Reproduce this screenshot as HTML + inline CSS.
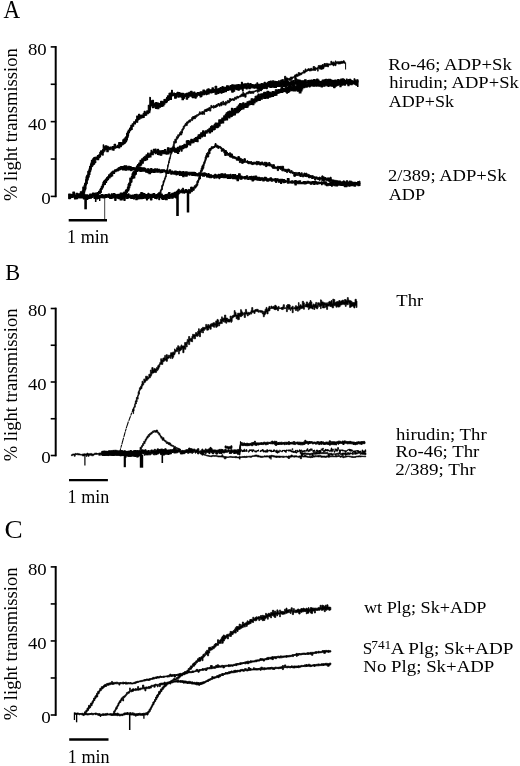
<!DOCTYPE html>
<html lang="en">
<head>
<meta charset="utf-8">
<title>Figure</title>
<style>
html,body{margin:0;padding:0;background:#fff;}
body{width:520px;height:766px;overflow:hidden;}
svg{display:block;}
svg text{font-family:"Liberation Serif",serif;fill:#000;}
</style>
</head>
<body>
<svg width="520" height="766" viewBox="0 0 520 766">
<rect x="0" y="0" width="520" height="766" fill="#ffffff"/>
<text x="3.47" y="18.4" font-size="24.6" textLength="16.59" lengthAdjust="spacingAndGlyphs">A</text>
<line x1="55.7" y1="46.1" x2="55.7" y2="197.20000000000002" stroke="#000" stroke-width="2.0"/>
<line x1="50.7" y1="46.9" x2="56.2" y2="46.9" stroke="#000" stroke-width="1.6"/>
<line x1="50.7" y1="84.275" x2="56.2" y2="84.275" stroke="#000" stroke-width="1.6"/>
<line x1="50.7" y1="121.65" x2="56.2" y2="121.65" stroke="#000" stroke-width="1.6"/>
<line x1="50.7" y1="159.025" x2="56.2" y2="159.025" stroke="#000" stroke-width="1.6"/>
<line x1="50.7" y1="196.4" x2="56.2" y2="196.4" stroke="#000" stroke-width="1.6"/>
<text x="27.95" y="54.5" font-size="17.5" textLength="18.80" lengthAdjust="spacingAndGlyphs">80</text>
<text x="28.03" y="129.55" font-size="17.5" textLength="18.72" lengthAdjust="spacingAndGlyphs">40</text>
<text x="41.24" y="203.9" font-size="17.5" textLength="9.52" lengthAdjust="spacingAndGlyphs">0</text>
<text transform="translate(16.5,124.6) rotate(-90)" font-size="18.6" text-anchor="middle">% light transmission</text>
<path d="M68.7,194.0 L70.4,194.0 L70.4,194.3 L71.5,194.3 L71.5,194.6 L72.9,194.6 L72.9,192.0 L74.5,192.0 L74.5,195.0 L76.1,195.0 L76.1,193.4 L77.9,193.4 L77.9,194.0 L79.6,194.0 L79.6,193.9 L81.4,193.9 L81.4,193.2 L82.2,193.2 L82.2,193.8 L83.4,193.8 L83.4,193.8 L84.7,193.8 L84.7,194.9 L85.5,194.9 L85.5,194.9 L86.2,194.9 L86.2,194.9 L87.9,194.9 L87.9,195.3 L89.7,195.3 L89.7,194.0 L91.4,194.0 L91.4,194.8 L92.5,194.8 L92.5,193.0 L94.0,193.0 L94.0,194.6 L95.1,194.6 L95.1,193.2 L96.7,193.2 L96.7,192.8 L97.7,192.8 L97.7,195.9 L99.3,195.9 L99.3,195.4 L101.2,195.4 L101.2,194.6 L103.1,194.6 L103.1,195.3 L104.9,195.3 L104.9,194.6 L106.7,194.6 L106.7,194.8 L108.2,194.8 L108.2,194.0 L109.6,194.0 L109.6,195.0 L111.4,195.0 L111.4,193.8 L112.2,193.8 L112.2,194.4 L113.3,194.4 L113.3,193.5 L114.8,193.5 L114.8,194.4 L116.0,194.4 L116.0,194.8 L117.7,194.8 L117.7,194.3 L118.6,194.3 L118.6,194.5 L119.4,194.5 L119.4,194.3 L120.2,194.3 L120.2,193.2 L122.1,193.2 L122.1,194.7 L123.0,194.7 L123.0,194.2 L123.9,194.2 L123.9,193.0 L125.1,193.0 L125.1,193.5 L126.5,193.5 L126.5,194.5 L128.2,194.5 L128.2,193.9 L129.0,193.9 L129.0,195.2 L130.8,195.2 L130.8,195.4 L132.4,195.4 L132.4,195.1 L133.5,195.1 L133.5,195.4 L134.4,195.4 L134.4,194.5 L135.8,194.5 L135.8,194.4 L137.2,194.4 L137.2,195.2 L138.3,195.2 L138.3,195.0 L139.2,195.0 L139.2,194.3 L140.8,194.3 L140.8,192.6 L142.3,192.6 L142.3,193.3 L143.9,193.3 L143.9,193.6 L144.9,193.6 L144.9,194.5 L146.5,194.5 L146.5,194.8 L147.3,194.8 L147.3,194.4 L148.0,194.4 L148.0,193.4 L148.9,193.4 L148.9,194.4 L150.5,194.4 L150.5,194.8 L151.9,194.8 L151.9,194.1 L153.3,194.1 L153.3,193.7 L154.7,193.7 L154.7,194.8 L156.2,194.8 L156.2,194.5 L157.3,194.5 L157.3,194.8 L158.8,194.8 L158.8,193.8 L159.6,193.8 L159.6,194.0 L160.7,194.0 L160.7,194.8 L161.5,194.8 L161.5,194.0 L162.3,194.0 L162.3,195.5 L164.1,195.5 L164.1,195.1 L165.5,195.1 L165.5,194.7 L167.2,194.7 L167.2,194.2 L168.6,194.2 L168.6,192.5 L170.0,192.5 L170.0,194.6 L171.7,194.6 L171.7,193.4 L173.1,193.4 L173.1,193.1 L174.4,193.1 L174.4,192.3 L175.8,192.3 L175.8,193.5 L177.0,193.5 L177.0,198.0 L175.8,198.0 L175.8,197.2 L174.4,197.2 L174.4,197.1 L173.1,197.1 L173.1,198.2 L171.7,198.2 L171.7,197.8 L170.0,197.8 L170.0,198.4 L168.6,198.4 L168.6,197.7 L167.2,197.7 L167.2,199.7 L165.5,199.7 L165.5,198.6 L164.1,198.6 L164.1,199.4 L162.3,199.4 L162.3,198.7 L161.5,198.7 L161.5,197.6 L160.7,197.6 L160.7,197.2 L159.6,197.2 L159.6,199.6 L158.8,199.6 L158.8,196.9 L157.3,196.9 L157.3,197.3 L156.2,197.3 L156.2,198.3 L154.7,198.3 L154.7,197.3 L153.3,197.3 L153.3,197.4 L151.9,197.4 L151.9,199.8 L150.5,199.8 L150.5,197.6 L148.9,197.6 L148.9,198.4 L148.0,198.4 L148.0,198.8 L147.3,198.8 L147.3,199.9 L146.5,199.9 L146.5,198.2 L144.9,198.2 L144.9,198.1 L143.9,198.1 L143.9,198.3 L142.3,198.3 L142.3,198.7 L140.8,198.7 L140.8,198.7 L139.2,198.7 L139.2,198.8 L138.3,198.8 L138.3,197.7 L137.2,197.7 L137.2,199.7 L135.8,199.7 L135.8,197.3 L134.4,197.3 L134.4,199.0 L133.5,199.0 L133.5,197.5 L132.4,197.5 L132.4,198.4 L130.8,198.4 L130.8,197.6 L129.0,197.6 L129.0,197.3 L128.2,197.3 L128.2,198.3 L126.5,198.3 L126.5,197.8 L125.1,197.8 L125.1,200.3 L123.9,200.3 L123.9,198.8 L123.0,198.8 L123.0,198.3 L122.1,198.3 L122.1,199.9 L120.2,199.9 L120.2,198.2 L119.4,198.2 L119.4,198.7 L118.6,198.7 L118.6,198.3 L117.7,198.3 L117.7,198.0 L116.0,198.0 L116.0,200.3 L114.8,200.3 L114.8,197.7 L113.3,197.7 L113.3,197.9 L112.2,197.9 L112.2,198.3 L111.4,198.3 L111.4,198.3 L109.6,198.3 L109.6,197.4 L108.2,197.4 L108.2,197.0 L106.7,197.0 L106.7,197.4 L104.9,197.4 L104.9,198.0 L103.1,198.0 L103.1,197.6 L101.2,197.6 L101.2,197.7 L99.3,197.7 L99.3,198.3 L97.7,198.3 L97.7,198.9 L96.7,198.9 L96.7,197.3 L95.1,197.3 L95.1,198.3 L94.0,198.3 L94.0,196.8 L92.5,196.8 L92.5,197.4 L91.4,197.4 L91.4,198.2 L89.7,198.2 L89.7,198.4 L87.9,198.4 L87.9,199.3 L86.2,199.3 L86.2,198.9 L85.5,198.9 L85.5,198.1 L84.7,198.1 L84.7,198.9 L83.4,198.9 L83.4,198.0 L82.2,198.0 L82.2,198.0 L81.4,198.0 L81.4,197.9 L79.6,197.9 L79.6,197.3 L77.9,197.3 L77.9,198.6 L76.1,198.6 L76.1,199.0 L74.5,199.0 L74.5,197.1 L72.9,197.1 L72.9,197.3 L71.5,197.3 L71.5,197.6 L70.4,197.6 L70.4,198.6 L68.7,198.6 Z" fill="#000" stroke="#000" stroke-width="1.2" stroke-linejoin="round"/>
<path d="M79.0,194.1 L80.3,194.1 L80.3,191.7 L82.2,191.7 L82.2,190.9 L82.8,190.9 L82.8,187.1 L84.1,187.1 L84.1,185.2 L84.5,185.2 L84.5,183.6 L84.9,183.6 L84.9,183.0 L85.6,183.0 L85.6,179.5 L86.0,179.5 L86.0,176.9 L86.5,176.9 L86.5,177.8 L86.7,177.8 L86.7,175.4 L87.3,175.4 L87.3,174.7 L87.8,174.7 L87.8,171.3 L88.2,171.3 L88.2,171.3 L88.8,171.3 L88.8,169.7 L89.2,169.7 L89.2,168.6 L89.6,168.6 L89.6,166.3 L90.0,166.3 L90.0,166.8 L90.5,166.8 L90.5,164.0 L90.9,164.0 L90.9,162.7 L91.4,162.7 L91.4,160.3 L92.2,160.3 L92.2,160.1 L92.7,160.1 L92.7,158.7 L93.5,158.7 L93.5,157.8 L94.6,157.8 L94.6,157.2 L95.8,157.2 L95.8,157.1 L97.4,157.1 L97.4,155.6 L98.7,155.6 L98.7,154.8 L99.8,154.8 L99.8,152.3 L100.6,152.3 L100.6,150.9 L102.5,150.9 L102.5,149.5 L103.2,149.5 L103.2,144.9 L103.7,144.9 L103.7,146.7 L105.1,146.7 L105.1,145.9 L106.8,145.9 L106.8,146.2 L108.2,146.2 L108.2,147.4 L110.0,147.4 L110.0,147.0 L110.8,147.0 L110.8,147.2 L112.1,147.2 L112.1,146.5 L113.3,146.5 L113.3,146.8 L114.1,146.8 L114.1,144.4 L115.6,144.4 L115.6,146.3 L117.3,146.3 L117.3,145.3 L118.7,145.3 L118.7,142.6 L119.7,142.6 L119.7,142.5 L121.4,142.5 L121.4,142.8 L122.8,142.8 L122.8,139.8 L123.9,139.8 L123.9,138.9 L125.1,138.9 L125.1,137.2 L125.7,137.2 L125.7,136.8 L126.6,136.8 L126.6,133.4 L127.4,133.4 L127.4,131.8 L128.2,131.8 L128.2,130.0 L128.6,130.0 L128.6,130.4 L129.5,130.4 L129.5,128.3 L130.2,128.3 L130.2,127.5 L130.8,127.5 L130.8,125.4 L132.2,125.4 L132.2,123.8 L133.7,123.8 L133.7,121.8 L135.5,121.8 L135.5,119.8 L136.7,119.8 L136.7,116.0 L137.7,116.0 L137.7,117.8 L138.5,117.8 L138.5,114.3 L139.9,114.3 L139.9,115.5 L141.5,115.5 L141.5,115.0 L143.2,115.0 L143.2,113.3 L144.2,113.3 L144.2,111.3 L145.2,111.3 L145.2,112.7 L146.7,112.7 L146.7,110.9 L148.3,110.9 L148.3,105.3 L149.8,105.3 L149.8,97.2 L150.0,97.2 L150.0,97.5 L150.5,97.5 L150.5,100.8 L152.3,100.8 L152.3,100.2 L153.5,100.2 L153.5,103.2 L154.9,103.2 L154.9,103.1 L155.6,103.1 L155.6,102.6 L157.1,102.6 L157.1,103.1 L158.9,103.1 L158.9,103.5 L160.6,103.5 L160.6,101.4 L162.4,101.4 L162.4,101.7 L163.9,101.7 L163.9,99.5 L164.9,99.5 L164.9,99.3 L166.5,99.3 L166.5,97.6 L167.4,97.6 L167.4,95.9 L169.0,95.9 L169.0,93.3 L169.8,93.3 L169.8,93.1 L171.5,93.1 L171.5,90.4 L172.4,90.4 L172.4,93.2 L173.6,93.2 L173.6,93.0 L174.6,93.0 L174.6,93.5 L176.2,93.5 L176.2,93.3 L177.1,93.3 L177.1,92.4 L178.3,92.4 L178.3,93.1 L179.0,93.1 L179.0,92.6 L180.0,92.6 L180.0,93.4 L181.2,93.4 L181.2,93.4 L182.0,93.4 L182.0,93.4 L183.5,93.4 L183.5,94.3 L184.6,94.3 L184.6,93.9 L186.2,93.9 L186.2,93.4 L187.7,93.4 L187.7,93.1 L188.9,93.1 L188.9,92.3 L190.6,92.3 L190.6,91.3 L192.1,91.3 L192.1,92.7 L193.8,92.7 L193.8,92.0 L194.9,92.0 L194.9,93.4 L196.2,93.4 L196.2,93.4 L197.2,93.4 L197.2,92.6 L199.1,92.6 L199.1,92.9 L200.1,92.9 L200.1,91.9 L201.1,91.9 L201.1,91.8 L201.9,91.8 L201.9,92.7 L202.9,92.7 L202.9,90.0 L204.5,90.0 L204.5,91.1 L206.0,91.1 L206.0,90.8 L206.9,90.8 L206.9,89.3 L208.0,89.3 L208.0,88.9 L209.2,88.9 L209.2,89.7 L210.7,89.7 L210.7,89.7 L212.0,89.7 L212.0,87.9 L213.4,87.9 L213.4,89.5 L215.1,89.5 L215.1,86.2 L216.7,86.2 L216.7,89.0 L217.8,89.0 L217.8,88.8 L219.0,88.8 L219.0,88.3 L220.2,88.3 L220.2,87.5 L221.0,87.5 L221.0,89.3 L222.0,89.3 L222.0,86.5 L223.0,86.5 L223.0,87.0 L224.1,87.0 L224.1,87.3 L225.1,87.3 L225.1,87.4 L226.5,87.4 L226.5,85.7 L228.4,85.7 L228.4,86.9 L230.0,86.9 L230.0,85.6 L231.7,85.6 L231.7,84.8 L233.3,84.8 L233.3,85.1 L234.7,85.1 L234.7,85.0 L236.5,85.0 L236.5,84.8 L238.0,84.8 L238.0,84.6 L239.3,84.6 L239.3,85.7 L240.1,85.7 L240.1,84.8 L241.4,84.8 L241.4,82.4 L242.4,82.4 L242.4,84.1 L243.2,84.1 L243.2,84.0 L244.5,84.0 L244.5,83.8 L246.2,83.8 L246.2,85.4 L247.2,85.4 L247.2,83.3 L248.9,83.3 L248.9,84.4 L250.2,84.4 L250.2,83.5 L251.1,83.5 L251.1,84.5 L252.9,84.5 L252.9,84.7 L254.1,84.7 L254.1,85.0 L255.2,85.0 L255.2,84.2 L256.9,84.2 L256.9,82.9 L257.7,82.9 L257.7,84.4 L259.3,84.4 L259.3,84.2 L260.2,84.2 L260.2,84.0 L261.4,84.0 L261.4,83.6 L262.4,83.6 L262.4,83.9 L264.1,83.9 L264.1,82.4 L265.3,82.4 L265.3,83.5 L267.1,83.5 L267.1,82.3 L268.6,82.3 L268.6,81.6 L270.1,81.6 L270.1,81.1 L271.4,81.1 L271.4,81.2 L272.5,81.2 L272.5,80.9 L273.7,80.9 L273.7,81.3 L275.5,81.3 L275.5,81.5 L276.5,81.5 L276.5,82.0 L278.3,82.0 L278.3,82.8 L280.0,82.8 L280.0,82.4 L281.1,82.4 L281.1,80.8 L282.6,80.8 L282.6,81.9 L283.7,81.9 L283.7,81.0 L284.9,81.0 L284.9,80.8 L286.2,80.8 L286.2,78.2 L286.9,78.2 L286.9,81.1 L288.2,81.1 L288.2,82.0 L290.1,82.0 L290.1,81.7 L291.1,81.7 L291.1,81.6 L292.7,81.6 L292.7,80.5 L293.9,80.5 L293.9,81.2 L294.9,81.2 L294.9,78.7 L296.7,78.7 L296.7,80.4 L297.4,80.4 L297.4,79.7 L298.4,79.7 L298.4,80.1 L300.3,80.1 L300.3,80.8 L301.4,80.8 L301.4,80.7 L303.1,80.7 L303.1,80.7 L304.5,80.7 L304.5,79.8 L306.2,79.8 L306.2,81.3 L307.6,81.3 L307.6,80.6 L308.8,80.6 L308.8,80.3 L310.4,80.3 L310.4,80.4 L311.1,80.4 L311.1,80.1 L312.3,80.1 L312.3,80.4 L313.5,80.4 L313.5,79.6 L314.8,79.6 L314.8,79.8 L315.6,79.8 L315.6,80.6 L316.6,80.6 L316.6,79.1 L318.0,79.1 L318.0,80.1 L319.1,80.1 L319.1,81.6 L320.8,81.6 L320.8,81.4 L322.2,81.4 L322.2,80.0 L323.9,80.0 L323.9,79.7 L325.5,79.7 L325.5,79.3 L326.9,79.3 L326.9,81.1 L328.0,81.1 L328.0,79.3 L329.6,79.3 L329.6,79.4 L330.6,79.4 L330.6,79.7 L331.4,79.7 L331.4,80.4 L333.3,80.4 L333.3,80.6 L334.6,80.6 L334.6,80.1 L336.2,80.1 L336.2,80.2 L337.6,80.2 L337.6,79.5 L339.0,79.5 L339.0,80.0 L339.8,80.0 L339.8,80.5 L340.7,80.5 L340.7,79.0 L342.2,79.0 L342.2,78.9 L343.6,78.9 L343.6,79.2 L344.5,79.2 L344.5,80.5 L346.3,80.5 L346.3,79.1 L347.2,79.1 L347.2,80.2 L348.5,80.2 L348.5,79.5 L349.4,79.5 L349.4,79.3 L350.9,79.3 L350.9,80.7 L352.0,80.7 L352.0,80.9 L352.8,80.9 L352.8,81.2 L353.6,81.2 L353.6,81.2 L354.5,81.2 L354.5,81.3 L355.4,81.3 L355.4,81.3 L356.8,81.3 L356.8,79.7 L358.0,79.7 L358.0,81.9 L356.8,81.9 L356.8,83.3 L355.4,83.3 L355.4,83.9 L354.5,83.9 L354.5,82.1 L353.6,82.1 L353.6,83.6 L352.8,83.6 L352.8,83.5 L352.0,83.5 L352.0,82.8 L350.9,82.8 L350.9,82.3 L349.4,82.3 L349.4,83.6 L348.5,83.6 L348.5,84.1 L347.2,84.1 L347.2,83.8 L346.3,83.8 L346.3,83.3 L344.5,83.3 L344.5,84.2 L343.6,84.2 L343.6,84.7 L342.2,84.7 L342.2,83.1 L340.7,83.1 L340.7,83.7 L339.8,83.7 L339.8,83.7 L339.0,83.7 L339.0,85.2 L337.6,85.2 L337.6,84.5 L336.2,84.5 L336.2,85.6 L334.6,85.6 L334.6,86.1 L333.3,86.1 L333.3,85.9 L331.4,85.9 L331.4,83.3 L330.6,83.3 L330.6,82.8 L329.6,82.8 L329.6,85.4 L328.0,85.4 L328.0,84.0 L326.9,84.0 L326.9,82.9 L325.5,82.9 L325.5,84.8 L323.9,84.8 L323.9,83.3 L322.2,83.3 L322.2,85.0 L320.8,85.0 L320.8,85.0 L319.1,85.0 L319.1,83.0 L318.0,83.0 L318.0,84.2 L316.6,84.2 L316.6,84.8 L315.6,84.8 L315.6,85.7 L314.8,85.7 L314.8,84.3 L313.5,84.3 L313.5,85.5 L312.3,85.5 L312.3,85.4 L311.1,85.4 L311.1,85.8 L310.4,85.8 L310.4,84.4 L308.8,84.4 L308.8,85.6 L307.6,85.6 L307.6,83.7 L306.2,83.7 L306.2,85.5 L304.5,85.5 L304.5,84.7 L303.1,84.7 L303.1,85.7 L301.4,85.7 L301.4,85.1 L300.3,85.1 L300.3,86.9 L298.4,86.9 L298.4,85.5 L297.4,85.5 L297.4,87.2 L296.7,87.2 L296.7,84.1 L294.9,84.1 L294.9,85.9 L293.9,85.9 L293.9,85.8 L292.7,85.8 L292.7,85.3 L291.1,85.3 L291.1,87.1 L290.1,87.1 L290.1,86.8 L288.2,86.8 L288.2,85.5 L286.9,85.5 L286.9,86.5 L286.2,86.5 L286.2,86.4 L284.9,86.4 L284.9,86.4 L283.7,86.4 L283.7,85.6 L282.6,85.6 L282.6,88.7 L281.1,88.7 L281.1,86.0 L280.0,86.0 L280.0,86.5 L278.3,86.5 L278.3,86.4 L276.5,86.4 L276.5,87.5 L275.5,87.5 L275.5,87.5 L273.7,87.5 L273.7,86.2 L272.5,86.2 L272.5,87.3 L271.4,87.3 L271.4,87.5 L270.1,87.5 L270.1,86.2 L268.6,86.2 L268.6,86.3 L267.1,86.3 L267.1,88.1 L265.3,88.1 L265.3,88.3 L264.1,88.3 L264.1,87.9 L262.4,87.9 L262.4,88.9 L261.4,88.9 L261.4,90.1 L260.2,90.1 L260.2,87.6 L259.3,87.6 L259.3,88.4 L257.7,88.4 L257.7,88.4 L256.9,88.4 L256.9,87.6 L255.2,87.6 L255.2,88.2 L254.1,88.2 L254.1,87.9 L252.9,87.9 L252.9,87.8 L251.1,87.8 L251.1,88.0 L250.2,88.0 L250.2,88.8 L248.9,88.8 L248.9,87.9 L247.2,87.9 L247.2,89.0 L246.2,89.0 L246.2,88.1 L244.5,88.1 L244.5,88.3 L243.2,88.3 L243.2,90.9 L242.4,90.9 L242.4,88.1 L241.4,88.1 L241.4,89.1 L240.1,89.1 L240.1,88.6 L239.3,88.6 L239.3,90.3 L238.0,90.3 L238.0,89.6 L236.5,89.6 L236.5,89.2 L234.7,89.2 L234.7,91.2 L233.3,91.2 L233.3,92.1 L231.7,92.1 L231.7,89.9 L230.0,89.9 L230.0,89.9 L228.4,89.9 L228.4,90.4 L226.5,90.4 L226.5,91.6 L225.1,91.6 L225.1,90.3 L224.1,90.3 L224.1,92.4 L223.0,92.4 L223.0,92.5 L222.0,92.5 L222.0,93.2 L221.0,93.2 L221.0,92.4 L220.2,92.4 L220.2,92.5 L219.0,92.5 L219.0,93.5 L217.8,93.5 L217.8,93.7 L216.7,93.7 L216.7,94.3 L215.1,94.3 L215.1,92.1 L213.4,92.1 L213.4,92.4 L212.0,92.4 L212.0,93.0 L210.7,93.0 L210.7,92.4 L209.2,92.4 L209.2,93.9 L208.0,93.9 L208.0,94.1 L206.9,94.1 L206.9,94.6 L206.0,94.6 L206.0,94.0 L204.5,94.0 L204.5,94.7 L202.9,94.7 L202.9,95.0 L201.9,95.0 L201.9,96.4 L201.1,96.4 L201.1,96.9 L200.1,96.9 L200.1,95.5 L199.1,95.5 L199.1,95.1 L197.2,95.1 L197.2,96.7 L196.2,96.7 L196.2,98.1 L194.9,98.1 L194.9,96.2 L193.8,96.2 L193.8,97.6 L192.1,97.6 L192.1,96.2 L190.6,96.2 L190.6,96.1 L188.9,96.1 L188.9,97.4 L187.7,97.4 L187.7,99.1 L186.2,99.1 L186.2,96.4 L184.6,96.4 L184.6,98.3 L183.5,98.3 L183.5,99.8 L182.0,99.8 L182.0,97.3 L181.2,97.3 L181.2,96.1 L180.0,96.1 L180.0,96.9 L179.0,96.9 L179.0,97.1 L178.3,97.1 L178.3,95.8 L177.1,95.8 L177.1,97.1 L176.2,97.1 L176.2,98.3 L174.6,98.3 L174.6,95.5 L173.6,95.5 L173.6,95.6 L172.4,95.6 L172.4,95.9 L171.5,95.9 L171.5,99.4 L169.8,99.4 L169.8,99.2 L169.0,99.2 L169.0,100.5 L167.4,100.5 L167.4,101.9 L166.5,101.9 L166.5,102.6 L164.9,102.6 L164.9,104.3 L163.9,104.3 L163.9,106.0 L162.4,106.0 L162.4,106.4 L160.6,106.4 L160.6,107.3 L158.9,107.3 L158.9,108.8 L157.1,108.8 L157.1,108.5 L155.6,108.5 L155.6,107.8 L154.9,107.8 L154.9,106.8 L153.5,106.8 L153.5,107.6 L152.3,107.6 L152.3,106.0 L150.5,106.0 L150.5,110.0 L150.0,110.0 L150.0,112.1 L149.8,112.1 L149.8,112.8 L148.3,112.8 L148.3,113.7 L146.7,113.7 L146.7,115.3 L145.2,115.3 L145.2,115.4 L144.2,115.4 L144.2,117.5 L143.2,117.5 L143.2,117.6 L141.5,117.6 L141.5,118.1 L139.9,118.1 L139.9,119.2 L138.5,119.2 L138.5,120.0 L137.7,120.0 L137.7,122.2 L136.7,122.2 L136.7,122.1 L135.5,122.1 L135.5,124.0 L133.7,124.0 L133.7,126.3 L132.2,126.3 L132.2,129.4 L130.8,129.4 L130.8,130.5 L130.2,130.5 L130.2,130.9 L129.5,130.9 L129.5,132.8 L128.6,132.8 L128.6,135.5 L128.2,135.5 L128.2,137.3 L127.4,137.3 L127.4,139.9 L126.6,139.9 L126.6,141.7 L125.7,141.7 L125.7,142.5 L125.1,142.5 L125.1,143.5 L123.9,143.5 L123.9,144.2 L122.8,144.2 L122.8,144.9 L121.4,144.9 L121.4,146.6 L119.7,146.6 L119.7,148.0 L118.7,148.0 L118.7,147.4 L117.3,147.4 L117.3,147.6 L115.6,147.6 L115.6,148.3 L114.1,148.3 L114.1,150.2 L113.3,150.2 L113.3,150.0 L112.1,150.0 L112.1,148.8 L110.8,148.8 L110.8,149.3 L110.0,149.3 L110.0,149.7 L108.2,149.7 L108.2,151.8 L106.8,151.8 L106.8,149.5 L105.1,149.5 L105.1,151.1 L103.7,151.1 L103.7,152.4 L103.2,152.4 L103.2,155.1 L102.5,155.1 L102.5,154.8 L100.6,154.8 L100.6,156.8 L99.8,156.8 L99.8,157.6 L98.7,157.6 L98.7,159.8 L97.4,159.8 L97.4,159.2 L95.8,159.2 L95.8,162.6 L94.6,162.6 L94.6,164.2 L93.5,164.2 L93.5,165.0 L92.7,165.0 L92.7,166.2 L92.2,166.2 L92.2,166.6 L91.4,166.6 L91.4,169.3 L90.9,169.3 L90.9,171.0 L90.5,171.0 L90.5,171.7 L90.0,171.7 L90.0,174.4 L89.6,174.4 L89.6,174.5 L89.2,174.5 L89.2,176.8 L88.8,176.8 L88.8,177.6 L88.2,177.6 L88.2,179.8 L87.8,179.8 L87.8,180.2 L87.3,180.2 L87.3,183.5 L86.7,183.5 L86.7,184.0 L86.5,184.0 L86.5,185.0 L86.0,185.0 L86.0,188.8 L85.6,188.8 L85.6,190.0 L84.9,190.0 L84.9,191.9 L84.5,191.9 L84.5,192.4 L84.1,192.4 L84.1,193.8 L82.8,193.8 L82.8,195.0 L82.2,195.0 L82.2,195.7 L80.3,195.7 L80.3,197.3 L79.0,197.3 Z" fill="#000" stroke="#000" stroke-width="1.1" stroke-linejoin="round"/>
<path d="M96.5,194.4 L97.5,194.4 L97.5,192.5 L98.5,192.5 L98.5,191.4 L99.9,191.4 L99.9,189.4 L100.5,189.4 L100.5,188.3 L101.3,188.3 L101.3,186.2 L102.3,186.2 L102.3,184.5 L102.9,184.5 L102.9,182.4 L103.5,182.4 L103.5,181.2 L104.2,181.2 L104.2,180.4 L105.4,180.4 L105.4,179.0 L106.6,179.0 L106.6,177.5 L107.4,177.5 L107.4,176.7 L108.6,176.7 L108.6,174.8 L110.1,174.8 L110.1,173.4 L111.3,173.4 L111.3,172.1 L112.7,172.1 L112.7,171.0 L114.6,171.0 L114.6,169.9 L116.1,169.9 L116.1,169.4 L117.3,169.4 L117.3,168.7 L118.2,168.7 L118.2,167.7 L119.3,167.7 L119.3,167.3 L120.6,167.3 L120.6,166.6 L122.4,166.6 L122.4,166.5 L124.0,166.5 L124.0,165.7 L125.1,165.7 L125.1,165.9 L126.9,165.9 L126.9,167.0 L128.2,167.0 L128.2,166.3 L129.7,166.3 L129.7,166.5 L130.6,166.5 L130.6,166.8 L131.4,166.8 L131.4,167.5 L132.3,167.5 L132.3,167.6 L134.1,167.6 L134.1,167.8 L135.6,167.8 L135.6,168.2 L137.3,168.2 L137.3,167.7 L138.8,167.7 L138.8,167.3 L140.0,167.3 L140.0,167.6 L141.3,167.6 L141.3,167.9 L142.7,167.9 L142.7,167.9 L144.5,167.9 L144.5,168.4 L145.7,168.4 L145.7,169.3 L147.4,169.3 L147.4,168.7 L148.9,168.7 L148.9,169.3 L150.6,169.3 L150.6,168.6 L151.9,168.6 L151.9,169.3 L153.4,169.3 L153.4,169.7 L154.5,169.7 L154.5,168.9 L155.8,168.9 L155.8,169.9 L156.8,169.9 L156.8,168.9 L157.6,168.9 L157.6,169.7 L158.4,169.7 L158.4,169.2 L159.9,169.2 L159.9,170.4 L161.2,170.4 L161.2,169.8 L162.9,169.8 L162.9,169.7 L164.6,169.7 L164.6,170.7 L165.8,170.7 L165.8,170.4 L167.7,170.4 L167.7,171.3 L169.1,171.3 L169.1,169.9 L170.7,169.9 L170.7,171.4 L171.9,171.4 L171.9,171.1 L172.8,171.1 L172.8,171.9 L173.7,171.9 L173.7,171.9 L174.6,171.9 L174.6,171.1 L176.1,171.1 L176.1,171.2 L176.9,171.2 L176.9,171.5 L177.6,171.5 L177.6,171.8 L179.3,171.8 L179.3,171.3 L180.2,171.3 L180.2,171.7 L181.4,171.7 L181.4,172.1 L182.7,172.1 L182.7,171.6 L184.1,171.6 L184.1,172.7 L185.4,172.7 L185.4,171.9 L187.3,171.9 L187.3,172.2 L188.9,172.2 L188.9,172.2 L190.2,172.2 L190.2,172.2 L191.7,172.2 L191.7,172.4 L193.0,172.4 L193.0,172.4 L194.8,172.4 L194.8,172.5 L195.8,172.5 L195.8,173.6 L197.3,173.6 L197.3,173.8 L198.7,173.8 L198.7,172.8 L199.5,172.8 L199.5,173.8 L200.5,173.8 L200.5,173.9 L202.3,173.9 L202.3,173.1 L204.0,173.1 L204.0,172.9 L204.7,172.9 L204.7,173.0 L205.7,173.0 L205.7,173.5 L206.5,173.5 L206.5,174.0 L208.1,174.0 L208.1,173.5 L209.0,173.5 L209.0,174.2 L209.7,174.2 L209.7,174.7 L211.6,174.7 L211.6,175.7 L212.9,175.7 L212.9,175.4 L213.9,175.4 L213.9,175.6 L214.7,175.6 L214.7,174.2 L215.9,174.2 L215.9,175.1 L217.0,175.1 L217.0,175.0 L218.3,175.0 L218.3,174.3 L219.0,174.3 L219.0,174.7 L219.9,174.7 L219.9,174.2 L220.9,174.2 L220.9,173.7 L222.1,173.7 L222.1,173.8 L223.2,173.8 L223.2,174.8 L224.6,174.8 L224.6,173.9 L225.6,173.9 L225.6,174.8 L227.4,174.8 L227.4,174.8 L229.3,174.8 L229.3,175.3 L230.1,175.3 L230.1,174.4 L231.0,174.4 L231.0,175.3 L232.4,175.3 L232.4,174.6 L234.0,174.6 L234.0,174.7 L234.8,174.7 L234.8,174.6 L235.7,174.6 L235.7,175.7 L237.0,175.7 L237.0,175.5 L238.5,175.5 L238.5,173.7 L240.2,173.7 L240.2,176.1 L242.0,176.1 L242.0,176.7 L243.6,176.7 L243.6,176.9 L244.4,176.9 L244.4,176.5 L246.3,176.5 L246.3,175.9 L247.7,175.9 L247.7,177.1 L248.5,177.1 L248.5,177.2 L249.5,177.2 L249.5,176.5 L251.0,176.5 L251.0,176.3 L252.1,176.3 L252.1,176.9 L253.4,176.9 L253.4,176.2 L255.0,176.2 L255.0,176.0 L256.7,176.0 L256.7,177.4 L258.1,177.4 L258.1,177.3 L259.7,177.3 L259.7,177.9 L260.9,177.9 L260.9,177.7 L262.8,177.7 L262.8,178.4 L264.2,178.4 L264.2,177.4 L266.1,177.4 L266.1,177.9 L266.8,177.9 L266.8,178.7 L268.6,178.7 L268.6,178.7 L270.0,178.7 L270.0,177.9 L271.5,177.9 L271.5,178.7 L272.4,178.7 L272.4,179.0 L273.8,179.0 L273.8,179.4 L274.8,179.4 L274.8,178.6 L275.7,178.6 L275.7,178.9 L276.4,178.9 L276.4,178.8 L278.2,178.8 L278.2,179.9 L279.7,179.9 L279.7,179.3 L280.6,179.3 L280.6,179.3 L281.6,179.3 L281.6,179.4 L282.9,179.4 L282.9,179.6 L284.6,179.6 L284.6,180.2 L285.4,180.2 L285.4,180.9 L287.3,180.9 L287.3,178.6 L289.1,178.6 L289.1,181.2 L290.1,181.2 L290.1,181.2 L291.6,181.2 L291.6,180.8 L292.7,180.8 L292.7,181.3 L294.2,181.3 L294.2,180.9 L295.0,180.9 L295.0,180.5 L296.3,180.5 L296.3,181.6 L297.7,181.6 L297.7,181.0 L299.2,181.0 L299.2,180.9 L300.7,180.9 L300.7,182.5 L302.5,182.5 L302.5,182.0 L303.5,182.0 L303.5,181.5 L304.3,181.5 L304.3,181.5 L305.5,181.5 L305.5,182.1 L306.9,182.1 L306.9,181.3 L308.7,181.3 L308.7,181.8 L310.3,181.8 L310.3,182.0 L311.9,182.0 L311.9,181.5 L313.7,181.5 L313.7,181.6 L314.8,181.6 L314.8,181.4 L315.8,181.4 L315.8,181.8 L317.0,181.8 L317.0,182.8 L318.0,182.8 L318.0,182.1 L319.5,182.1 L319.5,182.3 L321.4,182.3 L321.4,181.7 L322.2,181.7 L322.2,182.5 L323.6,182.5 L323.6,181.8 L325.1,181.8 L325.1,181.9 L326.4,181.9 L326.4,183.2 L328.2,183.2 L328.2,183.6 L329.8,183.6 L329.8,182.5 L331.5,182.5 L331.5,182.6 L332.3,182.6 L332.3,183.6 L333.3,183.6 L333.3,182.5 L334.1,182.5 L334.1,183.2 L335.8,183.2 L335.8,183.0 L337.6,183.0 L337.6,183.0 L338.3,183.0 L338.3,183.1 L340.0,183.1 L340.0,182.4 L341.5,182.4 L341.5,183.1 L343.3,183.1 L343.3,182.9 L344.4,182.9 L344.4,183.6 L345.9,183.6 L345.9,183.4 L346.9,183.4 L346.9,184.0 L347.7,184.0 L347.7,184.0 L349.3,184.0 L349.3,183.9 L350.0,183.9 L350.0,184.6 L351.6,184.6 L351.6,183.2 L352.6,183.2 L352.6,183.8 L353.9,183.8 L353.9,182.4 L355.7,182.4 L355.7,183.4 L356.7,183.4 L356.7,182.6 L357.9,182.6 L357.9,182.8 L359.1,182.8 L359.1,183.3 L360.0,183.3 L360.0,184.1 L360.0,184.1 L360.0,185.2 L360.0,185.2 L360.0,185.4 L359.1,185.4 L359.1,185.7 L357.9,185.7 L357.9,184.9 L356.7,184.9 L356.7,184.8 L355.7,184.8 L355.7,186.1 L353.9,186.1 L353.9,185.8 L352.6,185.8 L352.6,185.5 L351.6,185.5 L351.6,185.7 L350.0,185.7 L350.0,186.2 L349.3,186.2 L349.3,185.9 L347.7,185.9 L347.7,185.8 L346.9,185.8 L346.9,186.8 L345.9,186.8 L345.9,186.6 L344.4,186.6 L344.4,185.7 L343.3,185.7 L343.3,185.5 L341.5,185.5 L341.5,185.3 L340.0,185.3 L340.0,185.1 L338.3,185.1 L338.3,184.8 L337.6,184.8 L337.6,185.9 L335.8,185.9 L335.8,185.7 L334.1,185.7 L334.1,185.3 L333.3,185.3 L333.3,185.1 L332.3,185.1 L332.3,186.2 L331.5,186.2 L331.5,185.5 L329.8,185.5 L329.8,185.0 L328.2,185.0 L328.2,185.7 L326.4,185.7 L326.4,185.0 L325.1,185.0 L325.1,183.9 L323.6,183.9 L323.6,183.6 L322.2,183.6 L322.2,184.7 L321.4,184.7 L321.4,183.4 L319.5,183.4 L319.5,183.7 L318.0,183.7 L318.0,184.3 L317.0,184.3 L317.0,184.0 L315.8,184.0 L315.8,183.7 L314.8,183.7 L314.8,184.5 L313.7,184.5 L313.7,183.8 L311.9,183.8 L311.9,184.2 L310.3,184.2 L310.3,183.3 L308.7,183.3 L308.7,183.1 L306.9,183.1 L306.9,183.6 L305.5,183.6 L305.5,184.0 L304.3,184.0 L304.3,183.5 L303.5,183.5 L303.5,183.7 L302.5,183.7 L302.5,183.6 L300.7,183.6 L300.7,183.8 L299.2,183.8 L299.2,183.7 L297.7,183.7 L297.7,182.9 L296.3,182.9 L296.3,185.0 L295.0,185.0 L295.0,183.7 L294.2,183.7 L294.2,182.6 L292.7,182.6 L292.7,183.1 L291.6,183.1 L291.6,183.0 L290.1,183.0 L290.1,182.7 L289.1,182.7 L289.1,183.1 L287.3,183.1 L287.3,182.0 L285.4,182.0 L285.4,182.4 L284.6,182.4 L284.6,182.6 L282.9,182.6 L282.9,181.4 L281.6,181.4 L281.6,183.5 L280.6,183.5 L280.6,182.3 L279.7,182.3 L279.7,182.2 L278.2,182.2 L278.2,181.0 L276.4,181.0 L276.4,182.5 L275.7,182.5 L275.7,181.2 L274.8,181.2 L274.8,180.8 L273.8,180.8 L273.8,180.8 L272.4,180.8 L272.4,181.2 L271.5,181.2 L271.5,180.7 L270.0,180.7 L270.0,180.7 L268.6,180.7 L268.6,181.1 L266.8,181.1 L266.8,180.6 L266.1,180.6 L266.1,180.1 L264.2,180.1 L264.2,180.9 L262.8,180.9 L262.8,180.0 L260.9,180.0 L260.9,180.5 L259.7,180.5 L259.7,180.3 L258.1,180.3 L258.1,180.1 L256.7,180.1 L256.7,179.5 L255.0,179.5 L255.0,180.0 L253.4,180.0 L253.4,181.0 L252.1,181.0 L252.1,179.8 L251.0,179.8 L251.0,179.2 L249.5,179.2 L249.5,178.7 L248.5,178.7 L248.5,179.4 L247.7,179.4 L247.7,178.8 L246.3,178.8 L246.3,178.9 L244.4,178.9 L244.4,178.0 L243.6,178.0 L243.6,178.3 L242.0,178.3 L242.0,179.3 L240.2,179.3 L240.2,178.8 L238.5,178.8 L238.5,180.7 L237.0,180.7 L237.0,178.9 L235.7,178.9 L235.7,178.7 L234.8,178.7 L234.8,178.2 L234.0,178.2 L234.0,178.6 L232.4,178.6 L232.4,177.6 L231.0,177.6 L231.0,178.4 L230.1,178.4 L230.1,178.4 L229.3,178.4 L229.3,178.5 L227.4,178.5 L227.4,177.8 L225.6,177.8 L225.6,177.3 L224.6,177.3 L224.6,177.7 L223.2,177.7 L223.2,177.2 L222.1,177.2 L222.1,177.5 L220.9,177.5 L220.9,177.2 L219.9,177.2 L219.9,178.6 L219.0,178.6 L219.0,177.8 L218.3,177.8 L218.3,177.2 L217.0,177.2 L217.0,177.9 L215.9,177.9 L215.9,177.8 L214.7,177.8 L214.7,178.2 L213.9,178.2 L213.9,177.2 L212.9,177.2 L212.9,177.2 L211.6,177.2 L211.6,177.7 L209.7,177.7 L209.7,176.6 L209.0,176.6 L209.0,177.3 L208.1,177.3 L208.1,176.9 L206.5,176.9 L206.5,175.4 L205.7,175.4 L205.7,175.5 L204.7,175.5 L204.7,176.2 L204.0,176.2 L204.0,176.1 L202.3,176.1 L202.3,175.2 L200.5,175.2 L200.5,176.0 L199.5,176.0 L199.5,175.5 L198.7,175.5 L198.7,176.0 L197.3,176.0 L197.3,175.8 L195.8,175.8 L195.8,175.6 L194.8,175.6 L194.8,175.4 L193.0,175.4 L193.0,175.5 L191.7,175.5 L191.7,174.2 L190.2,174.2 L190.2,175.1 L188.9,175.1 L188.9,174.5 L187.3,174.5 L187.3,176.1 L185.4,176.1 L185.4,175.5 L184.1,175.5 L184.1,176.8 L182.7,176.8 L182.7,175.5 L181.4,175.5 L181.4,175.0 L180.2,175.0 L180.2,175.4 L179.3,175.4 L179.3,174.2 L177.6,174.2 L177.6,174.5 L176.9,174.5 L176.9,175.0 L176.1,175.0 L176.1,174.3 L174.6,174.3 L174.6,174.1 L173.7,174.1 L173.7,173.6 L172.8,173.6 L172.8,173.9 L171.9,173.9 L171.9,174.1 L170.7,174.1 L170.7,172.8 L169.1,172.8 L169.1,173.5 L167.7,173.5 L167.7,173.1 L165.8,173.1 L165.8,172.0 L164.6,172.0 L164.6,171.7 L162.9,171.7 L162.9,172.5 L161.2,172.5 L161.2,172.7 L159.9,172.7 L159.9,171.6 L158.4,171.6 L158.4,172.2 L157.6,172.2 L157.6,172.1 L156.8,172.1 L156.8,171.7 L155.8,171.7 L155.8,172.3 L154.5,172.3 L154.5,172.5 L153.4,172.5 L153.4,172.1 L151.9,172.1 L151.9,172.5 L150.6,172.5 L150.6,173.8 L148.9,173.8 L148.9,172.6 L147.4,172.6 L147.4,172.3 L145.7,172.3 L145.7,171.3 L144.5,171.3 L144.5,171.1 L142.7,171.1 L142.7,171.2 L141.3,171.2 L141.3,171.5 L140.0,171.5 L140.0,171.0 L138.8,171.0 L138.8,171.0 L137.3,171.0 L137.3,170.5 L135.6,170.5 L135.6,169.6 L134.1,169.6 L134.1,170.0 L132.3,170.0 L132.3,170.3 L131.4,170.3 L131.4,170.6 L130.6,170.6 L130.6,169.9 L129.7,169.9 L129.7,169.9 L128.2,169.9 L128.2,169.2 L126.9,169.2 L126.9,170.2 L125.1,170.2 L125.1,169.6 L124.0,169.6 L124.0,170.0 L122.4,170.0 L122.4,169.1 L120.6,169.1 L120.6,169.8 L119.3,169.8 L119.3,170.3 L118.2,170.3 L118.2,170.9 L117.3,170.9 L117.3,171.0 L116.1,171.0 L116.1,171.8 L114.6,171.8 L114.6,173.4 L112.7,173.4 L112.7,176.0 L111.3,176.0 L111.3,176.8 L110.1,176.8 L110.1,178.0 L108.6,178.0 L108.6,179.6 L107.4,179.6 L107.4,180.6 L106.6,180.6 L106.6,182.5 L105.4,182.5 L105.4,184.4 L104.2,184.4 L104.2,185.0 L103.5,185.0 L103.5,187.0 L102.9,187.0 L102.9,188.0 L102.3,188.0 L102.3,189.3 L101.3,189.3 L101.3,192.5 L100.5,192.5 L100.5,193.2 L99.9,193.2 L99.9,193.8 L98.5,193.8 L98.5,195.3 L97.5,195.3 L97.5,196.9 L96.5,196.9 Z" fill="#000" stroke="#000" stroke-width="1.1" stroke-linejoin="round"/>
<path d="M122.0,193.6 L122.8,193.6 L122.8,193.1 L123.8,193.1 L123.8,192.0 L125.4,192.0 L125.4,190.0 L126.7,190.0 L126.7,189.2 L127.4,189.2 L127.4,187.0 L128.1,187.0 L128.1,184.3 L128.7,184.3 L128.7,183.0 L129.1,183.0 L129.1,183.4 L129.8,183.4 L129.8,178.1 L130.2,178.1 L130.2,179.6 L130.7,179.6 L130.7,178.3 L131.3,178.3 L131.3,176.6 L132.0,176.6 L132.0,173.8 L132.8,173.8 L132.8,172.0 L133.7,172.0 L133.7,171.3 L134.8,171.3 L134.8,169.4 L135.4,169.4 L135.4,168.6 L136.4,168.6 L136.4,166.0 L137.5,166.0 L137.5,164.5 L138.2,164.5 L138.2,164.8 L138.7,164.8 L138.7,163.1 L140.0,163.1 L140.0,160.4 L140.8,160.4 L140.8,160.3 L141.7,160.3 L141.7,158.8 L143.3,158.8 L143.3,157.2 L144.7,157.2 L144.7,156.3 L146.0,156.3 L146.0,154.9 L147.6,154.9 L147.6,153.0 L148.3,153.0 L148.3,154.2 L149.9,154.2 L149.9,153.1 L151.0,153.1 L151.0,150.4 L151.8,150.4 L151.8,151.7 L153.3,151.7 L153.3,149.4 L155.1,149.4 L155.1,149.1 L156.1,149.1 L156.1,150.7 L157.5,150.7 L157.5,149.3 L158.6,149.3 L158.6,150.8 L160.2,150.8 L160.2,150.9 L161.8,150.9 L161.8,150.6 L162.7,150.6 L162.7,150.6 L164.4,150.6 L164.4,149.5 L165.9,149.5 L165.9,151.2 L167.4,151.2 L167.4,147.8 L169.1,147.8 L169.1,151.0 L170.3,151.0 L170.3,148.4 L171.9,148.4 L171.9,148.1 L173.7,148.1 L173.7,147.0 L174.5,147.0 L174.5,148.2 L176.2,148.2 L176.2,148.2 L177.4,148.2 L177.4,147.3 L178.7,147.3 L178.7,147.0 L179.5,147.0 L179.5,146.1 L181.1,146.1 L181.1,146.9 L182.1,146.9 L182.1,145.6 L183.9,145.6 L183.9,144.3 L184.9,144.3 L184.9,144.8 L186.3,144.8 L186.3,140.9 L187.5,140.9 L187.5,140.5 L188.9,140.5 L188.9,141.5 L189.8,141.5 L189.8,141.1 L190.8,141.1 L190.8,139.4 L192.3,139.4 L192.3,139.8 L194.0,139.8 L194.0,138.5 L195.3,138.5 L195.3,137.5 L197.1,137.5 L197.1,136.8 L198.1,136.8 L198.1,134.9 L199.8,134.9 L199.8,134.4 L200.7,134.4 L200.7,132.8 L202.6,132.8 L202.6,130.9 L204.0,130.9 L204.0,132.1 L205.4,132.1 L205.4,130.7 L207.3,130.7 L207.3,129.8 L209.0,129.8 L209.0,128.2 L210.6,128.2 L210.6,126.5 L211.4,126.5 L211.4,125.9 L212.5,125.9 L212.5,126.4 L213.3,126.4 L213.3,125.9 L214.2,125.9 L214.2,124.4 L215.2,124.4 L215.2,123.0 L216.9,123.0 L216.9,123.9 L217.8,123.9 L217.8,123.1 L218.8,123.1 L218.8,119.9 L220.1,119.9 L220.1,119.7 L221.8,119.7 L221.8,118.1 L223.7,118.1 L223.7,115.9 L225.3,115.9 L225.3,114.3 L226.2,114.3 L226.2,112.8 L227.6,112.8 L227.6,111.7 L229.1,111.7 L229.1,111.0 L229.9,111.0 L229.9,111.4 L231.4,111.4 L231.4,108.3 L232.5,108.3 L232.5,110.1 L233.9,110.1 L233.9,108.5 L235.4,108.5 L235.4,108.4 L236.9,108.4 L236.9,106.8 L238.3,106.8 L238.3,105.1 L239.6,105.1 L239.6,103.6 L240.6,103.6 L240.6,103.7 L241.9,103.7 L241.9,104.5 L242.7,104.5 L242.7,102.7 L244.0,102.7 L244.0,104.0 L245.3,104.0 L245.3,103.4 L247.0,103.4 L247.0,101.8 L248.1,101.8 L248.1,102.1 L248.9,102.1 L248.9,101.0 L250.2,101.0 L250.2,101.1 L251.1,101.1 L251.1,98.8 L252.7,98.8 L252.7,99.7 L253.9,99.7 L253.9,98.9 L255.1,98.9 L255.1,96.2 L256.9,96.2 L256.9,95.7 L258.0,95.7 L258.0,94.1 L259.1,94.1 L259.1,96.1 L260.3,96.1 L260.3,94.1 L261.5,94.1 L261.5,93.8 L262.3,93.8 L262.3,93.7 L263.7,93.7 L263.7,92.2 L265.5,92.2 L265.5,92.8 L266.9,92.8 L266.9,91.3 L268.5,91.3 L268.5,92.0 L270.3,92.0 L270.3,92.9 L272.0,92.9 L272.0,91.6 L273.6,91.6 L273.6,91.7 L275.3,91.7 L275.3,89.8 L277.0,89.8 L277.0,90.4 L278.0,90.4 L278.0,89.6 L279.3,89.6 L279.3,89.8 L280.4,89.8 L280.4,89.1 L281.4,89.1 L281.4,89.0 L282.8,89.0 L282.8,88.4 L283.9,88.4 L283.9,88.2 L285.3,88.2 L285.3,86.6 L286.7,86.6 L286.7,87.8 L287.5,87.8 L287.5,87.5 L288.8,87.5 L288.8,86.2 L289.9,86.2 L289.9,86.7 L291.5,86.7 L291.5,86.5 L292.3,86.5 L292.3,84.8 L293.2,84.8 L293.2,84.7 L294.5,84.7 L294.5,86.0 L295.7,86.0 L295.7,86.2 L297.2,86.2 L297.2,85.5 L298.3,85.5 L298.3,83.4 L299.2,83.4 L299.2,85.9 L301.0,85.9 L301.0,84.6 L302.0,84.6 L302.0,84.0 L302.9,84.0 L302.9,83.2 L303.9,83.2 L303.9,84.1 L305.0,84.1 L305.0,83.3 L306.0,83.3 L306.0,84.7 L307.4,84.7 L307.4,84.8 L309.2,84.8 L309.2,84.9 L310.0,84.9 L310.0,83.0 L311.2,83.0 L311.2,82.0 L312.7,82.0 L312.7,83.8 L314.5,83.8 L314.5,83.3 L316.4,83.3 L316.4,83.4 L317.3,83.4 L317.3,83.9 L318.6,83.9 L318.6,84.2 L320.4,84.2 L320.4,83.8 L321.1,83.8 L321.1,82.0 L322.5,82.0 L322.5,82.7 L323.4,82.7 L323.4,82.2 L325.1,82.2 L325.1,82.1 L326.9,82.1 L326.9,81.3 L328.2,81.3 L328.2,81.8 L328.9,81.8 L328.9,83.0 L329.7,83.0 L329.7,83.2 L330.9,83.2 L330.9,82.3 L332.6,82.3 L332.6,82.8 L333.6,82.8 L333.6,81.2 L335.1,81.2 L335.1,82.1 L336.3,82.1 L336.3,81.3 L337.3,81.3 L337.3,81.1 L338.9,81.1 L338.9,83.1 L339.9,83.1 L339.9,82.4 L341.1,82.4 L341.1,81.8 L342.7,81.8 L342.7,82.0 L344.0,82.0 L344.0,80.9 L345.6,80.9 L345.6,80.9 L347.0,80.9 L347.0,81.0 L347.9,81.0 L347.9,82.0 L349.1,82.0 L349.1,80.4 L350.8,80.4 L350.8,80.7 L352.2,80.7 L352.2,81.4 L354.1,81.4 L354.1,78.7 L354.8,78.7 L354.8,80.0 L355.9,80.0 L355.9,81.2 L357.5,81.2 L357.5,80.7 L358.0,80.7 L358.0,86.4 L357.5,86.4 L357.5,85.3 L355.9,85.3 L355.9,84.3 L354.8,84.3 L354.8,83.1 L354.1,83.1 L354.1,83.8 L352.2,83.8 L352.2,84.8 L350.8,84.8 L350.8,84.2 L349.1,84.2 L349.1,85.7 L347.9,85.7 L347.9,82.8 L347.0,82.8 L347.0,83.3 L345.6,83.3 L345.6,85.1 L344.0,85.1 L344.0,84.1 L342.7,84.1 L342.7,85.1 L341.1,85.1 L341.1,86.7 L339.9,86.7 L339.9,84.1 L338.9,84.1 L338.9,84.5 L337.3,84.5 L337.3,85.8 L336.3,85.8 L336.3,86.3 L335.1,86.3 L335.1,87.6 L333.6,87.6 L333.6,86.2 L332.6,86.2 L332.6,85.9 L330.9,85.9 L330.9,85.9 L329.7,85.9 L329.7,85.1 L328.9,85.1 L328.9,86.5 L328.2,86.5 L328.2,86.0 L326.9,86.0 L326.9,85.1 L325.1,85.1 L325.1,86.2 L323.4,86.2 L323.4,85.8 L322.5,85.8 L322.5,86.9 L321.1,86.9 L321.1,85.9 L320.4,85.9 L320.4,86.3 L318.6,86.3 L318.6,85.4 L317.3,85.4 L317.3,86.2 L316.4,86.2 L316.4,86.0 L314.5,86.0 L314.5,86.2 L312.7,86.2 L312.7,85.5 L311.2,85.5 L311.2,86.1 L310.0,86.1 L310.0,86.9 L309.2,86.9 L309.2,86.2 L307.4,86.2 L307.4,87.1 L306.0,87.1 L306.0,86.3 L305.0,86.3 L305.0,87.6 L303.9,87.6 L303.9,87.4 L302.9,87.4 L302.9,88.9 L302.0,88.9 L302.0,90.9 L301.0,90.9 L301.0,92.9 L299.2,92.9 L299.2,91.2 L298.3,91.2 L298.3,91.2 L297.2,91.2 L297.2,90.3 L295.7,90.3 L295.7,91.0 L294.5,91.0 L294.5,90.9 L293.2,90.9 L293.2,90.7 L292.3,90.7 L292.3,90.3 L291.5,90.3 L291.5,90.8 L289.9,90.8 L289.9,91.6 L288.8,91.6 L288.8,92.5 L287.5,92.5 L287.5,93.2 L286.7,93.2 L286.7,91.9 L285.3,91.9 L285.3,91.4 L283.9,91.4 L283.9,91.6 L282.8,91.6 L282.8,92.5 L281.4,92.5 L281.4,92.0 L280.4,92.0 L280.4,92.6 L279.3,92.6 L279.3,93.1 L278.0,93.1 L278.0,93.4 L277.0,93.4 L277.0,95.2 L275.3,95.2 L275.3,95.4 L273.6,95.4 L273.6,96.5 L272.0,96.5 L272.0,96.6 L270.3,96.6 L270.3,97.3 L268.5,97.3 L268.5,98.2 L266.9,98.2 L266.9,98.1 L265.5,98.1 L265.5,98.5 L263.7,98.5 L263.7,97.7 L262.3,97.7 L262.3,99.2 L261.5,99.2 L261.5,99.1 L260.3,99.1 L260.3,100.4 L259.1,100.4 L259.1,99.1 L258.0,99.1 L258.0,100.7 L256.9,100.7 L256.9,101.8 L255.1,101.8 L255.1,102.9 L253.9,102.9 L253.9,104.8 L252.7,104.8 L252.7,104.4 L251.1,104.4 L251.1,103.7 L250.2,103.7 L250.2,104.8 L248.9,104.8 L248.9,105.8 L248.1,105.8 L248.1,107.3 L247.0,107.3 L247.0,107.4 L245.3,107.4 L245.3,107.4 L244.0,107.4 L244.0,108.9 L242.7,108.9 L242.7,108.7 L241.9,108.7 L241.9,109.4 L240.6,109.4 L240.6,110.4 L239.6,110.4 L239.6,111.7 L238.3,111.7 L238.3,112.8 L236.9,112.8 L236.9,112.9 L235.4,112.9 L235.4,115.0 L233.9,115.0 L233.9,115.2 L232.5,115.2 L232.5,116.3 L231.4,116.3 L231.4,116.7 L229.9,116.7 L229.9,117.9 L229.1,117.9 L229.1,117.8 L227.6,117.8 L227.6,119.9 L226.2,119.9 L226.2,118.9 L225.3,118.9 L225.3,120.2 L223.7,120.2 L223.7,123.0 L221.8,123.0 L221.8,123.2 L220.1,123.2 L220.1,126.0 L218.8,126.0 L218.8,127.1 L217.8,127.1 L217.8,127.7 L216.9,127.7 L216.9,127.6 L215.2,127.6 L215.2,129.4 L214.2,129.4 L214.2,129.9 L213.3,129.9 L213.3,128.1 L212.5,128.1 L212.5,131.6 L211.4,131.6 L211.4,128.8 L210.6,128.8 L210.6,133.0 L209.0,133.0 L209.0,131.5 L207.3,131.5 L207.3,133.1 L205.4,133.1 L205.4,136.3 L204.0,136.3 L204.0,136.0 L202.6,136.0 L202.6,136.9 L200.7,136.9 L200.7,138.6 L199.8,138.6 L199.8,138.5 L198.1,138.5 L198.1,141.8 L197.1,141.8 L197.1,141.5 L195.3,141.5 L195.3,141.3 L194.0,141.3 L194.0,142.8 L192.3,142.8 L192.3,142.9 L190.8,142.9 L190.8,145.1 L189.8,145.1 L189.8,144.8 L188.9,144.8 L188.9,144.6 L187.5,144.6 L187.5,147.0 L186.3,147.0 L186.3,147.7 L184.9,147.7 L184.9,147.5 L183.9,147.5 L183.9,148.6 L182.1,148.6 L182.1,151.1 L181.1,151.1 L181.1,149.7 L179.5,149.7 L179.5,151.4 L178.7,151.4 L178.7,153.5 L177.4,153.5 L177.4,152.4 L176.2,152.4 L176.2,152.2 L174.5,152.2 L174.5,151.3 L173.7,151.3 L173.7,151.2 L171.9,151.2 L171.9,152.4 L170.3,152.4 L170.3,152.3 L169.1,152.3 L169.1,154.0 L167.4,154.0 L167.4,154.1 L165.9,154.1 L165.9,153.6 L164.4,153.6 L164.4,153.7 L162.7,153.7 L162.7,153.8 L161.8,153.8 L161.8,155.2 L160.2,155.2 L160.2,154.8 L158.6,154.8 L158.6,154.4 L157.5,154.4 L157.5,152.9 L156.1,152.9 L156.1,153.7 L155.1,153.7 L155.1,152.5 L153.3,152.5 L153.3,154.8 L151.8,154.8 L151.8,154.2 L151.0,154.2 L151.0,157.0 L149.9,157.0 L149.9,157.1 L148.3,157.1 L148.3,157.5 L147.6,157.5 L147.6,159.7 L146.0,159.7 L146.0,160.5 L144.7,160.5 L144.7,160.8 L143.3,160.8 L143.3,163.2 L141.7,163.2 L141.7,164.9 L140.8,164.9 L140.8,166.0 L140.0,166.0 L140.0,166.1 L138.7,166.1 L138.7,168.1 L138.2,168.1 L138.2,169.6 L137.5,169.6 L137.5,171.4 L136.4,171.4 L136.4,174.2 L135.4,174.2 L135.4,175.1 L134.8,175.1 L134.8,177.9 L133.7,177.9 L133.7,178.1 L132.8,178.1 L132.8,178.6 L132.0,178.6 L132.0,182.0 L131.3,182.0 L131.3,182.5 L130.7,182.5 L130.7,185.3 L130.2,185.3 L130.2,185.7 L129.8,185.7 L129.8,187.7 L129.1,187.7 L129.1,189.8 L128.7,189.8 L128.7,190.9 L128.1,190.9 L128.1,190.5 L127.4,190.5 L127.4,192.5 L126.7,192.5 L126.7,194.1 L125.4,194.1 L125.4,195.4 L123.8,195.4 L123.8,195.7 L122.8,195.7 L122.8,196.0 L122.0,196.0 Z" fill="#000" stroke="#000" stroke-width="1.1" stroke-linejoin="round"/>
<path d="M156.0,195.4 L157.4,195.4 L157.4,193.6 L158.5,193.6 L158.5,192.6 L160.0,192.6 L160.0,191.2 L160.4,191.2 L160.4,189.9 L161.1,189.9 L161.1,188.7 L161.6,188.7 L161.6,185.6 L162.2,185.6 L162.2,186.1 L162.5,186.1 L162.5,184.3 L163.0,184.3 L163.0,181.2 L163.5,181.2 L163.5,180.7 L164.0,180.7 L164.0,179.9 L164.4,179.9 L164.4,178.3 L164.7,178.3 L164.7,177.8 L165.2,177.8 L165.2,176.2 L165.7,176.2 L165.7,175.2 L165.9,175.2 L165.9,173.3 L166.3,173.3 L166.3,172.2 L166.7,172.2 L166.7,170.6 L166.9,170.6 L166.9,169.1 L167.2,169.1 L167.2,168.3 L167.6,168.3 L167.6,165.1 L167.9,165.1 L167.9,164.6 L168.3,164.6 L168.3,163.7 L168.5,163.7 L168.5,161.6 L168.7,161.6 L168.7,161.1 L169.0,161.1 L169.0,159.5 L169.3,159.5 L169.3,157.9 L169.8,157.9 L169.8,157.5 L170.1,157.5 L170.1,156.1 L170.3,156.1 L170.3,155.2 L170.7,155.2 L170.7,152.4 L171.0,152.4 L171.0,151.2 L171.5,151.2 L171.5,149.0 L171.9,149.0 L171.9,147.7 L172.2,147.7 L172.2,147.4 L172.8,147.4 L172.8,146.0 L173.2,146.0 L173.2,144.4 L173.7,144.4 L173.7,141.4 L174.3,141.4 L174.3,142.3 L174.8,142.3 L174.8,139.2 L175.5,139.2 L175.5,139.0 L176.4,139.0 L176.4,136.7 L177.0,136.7 L177.0,136.7 L177.7,136.7 L177.7,134.8 L178.4,134.8 L178.4,135.9 L178.9,135.9 L178.9,134.3 L179.6,134.3 L179.6,132.6 L180.7,132.6 L180.7,131.2 L181.8,131.2 L181.8,129.3 L182.5,129.3 L182.5,128.6 L183.2,128.6 L183.2,126.2 L183.6,126.2 L183.6,126.3 L184.3,126.3 L184.3,125.1 L185.1,125.1 L185.1,123.6 L186.4,123.6 L186.4,122.0 L187.3,122.0 L187.3,121.7 L188.2,121.7 L188.2,120.8 L189.1,120.8 L189.1,119.9 L190.6,119.9 L190.6,119.5 L191.6,119.5 L191.6,117.6 L192.6,117.6 L192.6,116.5 L194.1,116.5 L194.1,116.0 L195.5,116.0 L195.5,115.5 L196.5,115.5 L196.5,114.8 L197.3,114.8 L197.3,114.6 L198.7,114.6 L198.7,113.5 L199.4,113.5 L199.4,111.8 L200.3,111.8 L200.3,112.7 L201.7,112.7 L201.7,111.6 L203.1,111.6 L203.1,111.7 L203.9,111.7 L203.9,110.6 L204.6,110.6 L204.6,109.6 L205.9,109.6 L205.9,109.1 L207.1,109.1 L207.1,108.8 L207.9,108.8 L207.9,108.2 L209.0,108.2 L209.0,107.4 L209.6,107.4 L209.6,107.8 L210.8,107.8 L210.8,105.4 L211.9,105.4 L211.9,106.5 L213.2,106.5 L213.2,105.4 L213.8,105.4 L213.8,106.0 L215.0,106.0 L215.0,105.5 L216.0,105.5 L216.0,104.7 L217.0,104.7 L217.0,104.4 L217.9,104.4 L217.9,103.5 L219.1,103.5 L219.1,104.1 L220.2,104.1 L220.2,102.8 L221.3,102.8 L221.3,102.1 L222.0,102.1 L222.0,103.2 L222.8,103.2 L222.8,101.1 L223.5,101.1 L223.5,102.7 L224.4,102.7 L224.4,102.5 L225.4,102.5 L225.4,101.6 L226.1,101.6 L226.1,101.9 L227.3,101.9 L227.3,100.4 L228.4,100.4 L228.4,101.0 L229.4,101.0 L229.4,98.5 L230.6,98.5 L230.6,99.1 L232.0,99.1 L232.0,98.8 L233.1,98.8 L233.1,99.0 L233.8,99.0 L233.8,98.4 L234.6,98.4 L234.6,97.2 L235.8,97.2 L235.8,98.1 L236.7,98.1 L236.7,96.3 L238.0,96.3 L238.0,96.7 L239.0,96.7 L239.0,96.1 L240.0,96.1 L240.0,95.2 L241.2,95.2 L241.2,94.1 L242.0,94.1 L242.0,93.9 L242.8,93.9 L242.8,92.2 L243.7,92.2 L243.7,93.5 L244.7,93.5 L244.7,93.8 L246.1,93.8 L246.1,92.7 L247.4,92.7 L247.4,92.0 L248.8,92.0 L248.8,91.0 L249.9,91.0 L249.9,91.5 L250.5,91.5 L250.5,91.3 L251.4,91.3 L251.4,91.6 L252.4,91.6 L252.4,91.2 L253.9,91.2 L253.9,91.4 L254.8,91.4 L254.8,90.7 L255.9,90.7 L255.9,90.2 L257.2,90.2 L257.2,89.6 L258.2,89.6 L258.2,88.2 L259.4,88.2 L259.4,87.6 L260.6,87.6 L260.6,87.2 L261.6,87.2 L261.6,87.2 L262.8,87.2 L262.8,86.2 L263.8,86.2 L263.8,86.6 L264.5,86.6 L264.5,85.8 L265.9,85.8 L265.9,86.6 L267.4,86.6 L267.4,85.8 L268.8,85.8 L268.8,85.5 L269.7,85.5 L269.7,84.4 L270.9,84.4 L270.9,83.8 L272.1,83.8 L272.1,84.5 L272.8,84.5 L272.8,83.9 L274.1,83.9 L274.1,83.2 L274.8,83.2 L274.8,81.8 L276.2,81.8 L276.2,81.7 L277.1,81.7 L277.1,81.5 L278.5,81.5 L278.5,80.6 L279.3,80.6 L279.3,81.2 L280.4,81.2 L280.4,80.1 L281.8,80.1 L281.8,79.6 L283.3,79.6 L283.3,79.7 L284.5,79.7 L284.5,76.3 L285.8,76.3 L285.8,77.9 L286.8,77.9 L286.8,78.1 L288.1,78.1 L288.1,78.7 L289.0,78.7 L289.0,78.3 L290.4,78.3 L290.4,77.0 L291.7,77.0 L291.7,77.1 L292.7,77.1 L292.7,76.9 L294.0,76.9 L294.0,76.1 L294.7,76.1 L294.7,74.9 L296.1,74.9 L296.1,74.1 L297.3,74.1 L297.3,74.4 L298.2,74.4 L298.2,72.6 L299.4,72.6 L299.4,73.1 L300.7,73.1 L300.7,73.1 L301.9,73.1 L301.9,72.4 L303.3,72.4 L303.3,70.6 L304.2,70.6 L304.2,70.9 L305.1,70.9 L305.1,68.9 L306.0,68.9 L306.0,70.3 L306.9,70.3 L306.9,69.6 L307.9,69.6 L307.9,68.7 L309.2,68.7 L309.2,68.9 L310.6,68.9 L310.6,68.3 L311.8,68.3 L311.8,69.2 L313.1,69.2 L313.1,66.5 L314.6,66.5 L314.6,67.4 L315.7,67.4 L315.7,68.0 L316.4,68.0 L316.4,68.1 L317.6,68.1 L317.6,67.3 L318.2,67.3 L318.2,65.6 L319.4,65.6 L319.4,65.4 L320.9,65.4 L320.9,65.5 L322.0,65.5 L322.0,64.6 L323.4,64.6 L323.4,65.2 L324.0,65.2 L324.0,63.5 L325.5,63.5 L325.5,64.5 L326.2,64.5 L326.2,63.4 L327.6,63.4 L327.6,63.8 L328.5,63.8 L328.5,64.0 L329.4,64.0 L329.4,63.9 L330.1,63.9 L330.1,64.3 L330.8,64.3 L330.8,61.3 L332.0,61.3 L332.0,62.6 L333.3,62.6 L333.3,61.9 L334.0,61.9 L334.0,62.8 L335.2,62.8 L335.2,60.9 L336.0,60.9 L336.0,62.1 L337.4,62.1 L337.4,61.7 L338.1,61.7 L338.1,61.8 L339.3,61.8 L339.3,61.7 L340.7,61.7 L340.7,61.3 L341.8,61.3 L341.8,61.6 L343.0,61.6 L343.0,60.8 L344.3,60.8 L344.3,61.7 L345.0,61.7 L345.0,63.3 L344.3,63.3 L344.3,63.0 L343.0,63.0 L343.0,63.2 L341.8,63.2 L341.8,63.4 L340.7,63.4 L340.7,63.9 L339.3,63.9 L339.3,64.0 L338.1,64.0 L338.1,62.7 L337.4,62.7 L337.4,63.8 L336.0,63.8 L336.0,65.7 L335.2,65.7 L335.2,65.0 L334.0,65.0 L334.0,65.9 L333.3,65.9 L333.3,64.9 L332.0,64.9 L332.0,64.7 L330.8,64.7 L330.8,65.0 L330.1,65.0 L330.1,65.1 L329.4,65.1 L329.4,64.9 L328.5,64.9 L328.5,66.9 L327.6,66.9 L327.6,66.5 L326.2,66.5 L326.2,66.4 L325.5,66.4 L325.5,66.7 L324.0,66.7 L324.0,68.4 L323.4,68.4 L323.4,69.0 L322.0,69.0 L322.0,69.3 L320.9,69.3 L320.9,69.1 L319.4,69.1 L319.4,68.2 L318.2,68.2 L318.2,71.2 L317.6,71.2 L317.6,69.1 L316.4,69.1 L316.4,69.4 L315.7,69.4 L315.7,70.5 L314.6,70.5 L314.6,70.3 L313.1,70.3 L313.1,70.2 L311.8,70.2 L311.8,70.7 L310.6,70.7 L310.6,71.0 L309.2,71.0 L309.2,70.5 L307.9,70.5 L307.9,70.9 L306.9,70.9 L306.9,71.6 L306.0,71.6 L306.0,71.9 L305.1,71.9 L305.1,73.1 L304.2,73.1 L304.2,73.1 L303.3,73.1 L303.3,73.2 L301.9,73.2 L301.9,74.6 L300.7,74.6 L300.7,75.1 L299.4,75.1 L299.4,75.7 L298.2,75.7 L298.2,76.3 L297.3,76.3 L297.3,76.6 L296.1,76.6 L296.1,78.5 L294.7,78.5 L294.7,77.6 L294.0,77.6 L294.0,77.6 L292.7,77.6 L292.7,79.1 L291.7,79.1 L291.7,80.8 L290.4,80.8 L290.4,80.3 L289.0,80.3 L289.0,79.4 L288.1,79.4 L288.1,81.9 L286.8,81.9 L286.8,80.1 L285.8,80.1 L285.8,80.6 L284.5,80.6 L284.5,80.6 L283.3,80.6 L283.3,82.0 L281.8,82.0 L281.8,81.8 L280.4,81.8 L280.4,82.2 L279.3,82.2 L279.3,83.4 L278.5,83.4 L278.5,83.8 L277.1,83.8 L277.1,84.1 L276.2,84.1 L276.2,84.1 L274.8,84.1 L274.8,85.7 L274.1,85.7 L274.1,85.3 L272.8,85.3 L272.8,86.2 L272.1,86.2 L272.1,86.5 L270.9,86.5 L270.9,86.7 L269.7,86.7 L269.7,87.2 L268.8,87.2 L268.8,86.8 L267.4,86.8 L267.4,88.8 L265.9,88.8 L265.9,87.7 L264.5,87.7 L264.5,88.6 L263.8,88.6 L263.8,88.5 L262.8,88.5 L262.8,89.4 L261.6,89.4 L261.6,90.8 L260.6,90.8 L260.6,90.4 L259.4,90.4 L259.4,91.6 L258.2,91.6 L258.2,92.2 L257.2,92.2 L257.2,91.0 L255.9,91.0 L255.9,91.5 L254.8,91.5 L254.8,91.9 L253.9,91.9 L253.9,93.3 L252.4,93.3 L252.4,93.0 L251.4,93.0 L251.4,93.5 L250.5,93.5 L250.5,93.4 L249.9,93.4 L249.9,93.1 L248.8,93.1 L248.8,93.8 L247.4,93.8 L247.4,94.0 L246.1,94.0 L246.1,97.2 L244.7,97.2 L244.7,95.9 L243.7,95.9 L243.7,96.4 L242.8,96.4 L242.8,96.3 L242.0,96.3 L242.0,96.3 L241.2,96.3 L241.2,96.9 L240.0,96.9 L240.0,96.7 L239.0,96.7 L239.0,98.0 L238.0,98.0 L238.0,98.1 L236.7,98.1 L236.7,99.2 L235.8,99.2 L235.8,99.2 L234.6,99.2 L234.6,100.5 L233.8,100.5 L233.8,100.5 L233.1,100.5 L233.1,99.9 L232.0,99.9 L232.0,100.4 L230.6,100.4 L230.6,101.7 L229.4,101.7 L229.4,102.9 L228.4,102.9 L228.4,102.4 L227.3,102.4 L227.3,103.6 L226.1,103.6 L226.1,105.2 L225.4,105.2 L225.4,104.6 L224.4,104.6 L224.4,105.0 L223.5,105.0 L223.5,103.5 L222.8,103.5 L222.8,104.6 L222.0,104.6 L222.0,105.8 L221.3,105.8 L221.3,105.1 L220.2,105.1 L220.2,106.2 L219.1,106.2 L219.1,105.2 L217.9,105.2 L217.9,106.3 L217.0,106.3 L217.0,107.0 L216.0,107.0 L216.0,107.4 L215.0,107.4 L215.0,107.7 L213.8,107.7 L213.8,108.2 L213.2,108.2 L213.2,107.5 L211.9,107.5 L211.9,108.0 L210.8,108.0 L210.8,111.1 L209.6,111.1 L209.6,109.2 L209.0,109.2 L209.0,110.4 L207.9,110.4 L207.9,110.8 L207.1,110.8 L207.1,111.5 L205.9,111.5 L205.9,111.5 L204.6,111.5 L204.6,114.4 L203.9,114.4 L203.9,113.8 L203.1,113.8 L203.1,114.3 L201.7,114.3 L201.7,114.0 L200.3,114.0 L200.3,114.5 L199.4,114.5 L199.4,114.9 L198.7,114.9 L198.7,115.6 L197.3,115.6 L197.3,116.5 L196.5,116.5 L196.5,117.3 L195.5,117.3 L195.5,118.7 L194.1,118.7 L194.1,119.0 L192.6,119.0 L192.6,120.6 L191.6,120.6 L191.6,120.3 L190.6,120.3 L190.6,122.1 L189.1,122.1 L189.1,122.5 L188.2,122.5 L188.2,123.5 L187.3,123.5 L187.3,125.5 L186.4,125.5 L186.4,125.7 L185.1,125.7 L185.1,126.5 L184.3,126.5 L184.3,128.5 L183.6,128.5 L183.6,129.5 L183.2,129.5 L183.2,130.3 L182.5,130.3 L182.5,133.1 L181.8,133.1 L181.8,134.9 L180.7,134.9 L180.7,135.0 L179.6,135.0 L179.6,136.0 L178.9,136.0 L178.9,137.0 L178.4,137.0 L178.4,138.1 L177.7,138.1 L177.7,139.1 L177.0,139.1 L177.0,139.6 L176.4,139.6 L176.4,142.8 L175.5,142.8 L175.5,143.1 L174.8,143.1 L174.8,143.4 L174.3,143.4 L174.3,146.5 L173.7,146.5 L173.7,147.7 L173.2,147.7 L173.2,148.2 L172.8,148.2 L172.8,149.4 L172.2,149.4 L172.2,150.6 L171.9,150.6 L171.9,153.7 L171.5,153.7 L171.5,153.6 L171.0,153.6 L171.0,155.2 L170.7,155.2 L170.7,156.7 L170.3,156.7 L170.3,158.8 L170.1,158.8 L170.1,158.9 L169.8,158.9 L169.8,160.5 L169.3,160.5 L169.3,163.0 L169.0,163.0 L169.0,162.7 L168.7,162.7 L168.7,164.5 L168.5,164.5 L168.5,165.3 L168.3,165.3 L168.3,166.6 L167.9,166.6 L167.9,168.4 L167.6,168.4 L167.6,170.4 L167.2,170.4 L167.2,171.4 L166.9,171.4 L166.9,172.3 L166.7,172.3 L166.7,174.1 L166.3,174.1 L166.3,176.9 L165.9,176.9 L165.9,176.6 L165.7,176.6 L165.7,178.5 L165.2,178.5 L165.2,179.7 L164.7,179.7 L164.7,181.3 L164.4,181.3 L164.4,181.8 L164.0,181.8 L164.0,183.4 L163.5,183.4 L163.5,185.3 L163.0,185.3 L163.0,186.4 L162.5,186.4 L162.5,189.5 L162.2,189.5 L162.2,189.9 L161.6,189.9 L161.6,190.5 L161.1,190.5 L161.1,194.2 L160.4,194.2 L160.4,192.8 L160.0,192.8 L160.0,194.9 L158.5,194.9 L158.5,195.7 L157.4,195.7 L157.4,198.9 L156.0,198.9 Z" fill="#000" stroke="#000" stroke-width="0.8" stroke-linejoin="round"/>
<line x1="345.6" y1="62.5" x2="345.6" y2="69.5" stroke="#000" stroke-width="1.0"/>
<path d="M176.0,191.6 L176.9,191.6 L176.9,190.7 L178.0,190.7 L178.0,189.2 L179.3,189.2 L179.3,190.2 L180.3,190.2 L180.3,190.7 L181.1,190.7 L181.1,189.7 L182.3,189.7 L182.3,188.2 L183.5,188.2 L183.5,190.0 L184.2,190.0 L184.2,190.2 L185.0,190.2 L185.0,189.5 L186.9,189.5 L186.9,190.3 L188.4,190.3 L188.4,189.4 L189.3,189.4 L189.3,189.6 L190.6,189.6 L190.6,187.1 L192.4,187.1 L192.4,187.4 L194.2,187.4 L194.2,185.8 L195.9,185.8 L195.9,184.2 L196.9,184.2 L196.9,181.3 L197.8,181.3 L197.8,179.9 L198.6,179.9 L198.6,178.1 L198.9,178.1 L198.9,176.6 L199.4,176.6 L199.4,175.4 L199.8,175.4 L199.8,172.8 L200.4,172.8 L200.4,170.7 L200.7,170.7 L200.7,170.3 L201.2,170.3 L201.2,168.1 L201.9,168.1 L201.9,166.1 L202.3,166.1 L202.3,165.4 L203.1,165.4 L203.1,163.9 L203.8,163.9 L203.8,162.1 L204.1,162.1 L204.1,161.5 L204.8,161.5 L204.8,159.7 L205.2,159.7 L205.2,157.0 L205.8,157.0 L205.8,155.5 L206.4,155.5 L206.4,153.4 L206.9,153.4 L206.9,153.5 L207.6,153.5 L207.6,152.2 L208.7,152.2 L208.7,149.6 L209.3,149.6 L209.3,148.5 L210.0,148.5 L210.0,148.5 L211.1,148.5 L211.1,146.8 L212.4,146.8 L212.4,146.7 L214.0,146.7 L214.0,146.0 L215.0,146.0 L215.0,143.6 L216.1,143.6 L216.1,145.2 L217.7,145.2 L217.7,146.0 L219.1,146.0 L219.1,146.4 L220.4,146.4 L220.4,147.1 L221.3,147.1 L221.3,147.9 L222.1,147.9 L222.1,148.8 L223.9,148.8 L223.9,149.8 L224.7,149.8 L224.7,150.5 L226.4,150.5 L226.4,152.1 L227.5,152.1 L227.5,153.5 L229.4,153.5 L229.4,152.8 L230.6,152.8 L230.6,153.9 L232.4,153.9 L232.4,156.1 L233.7,156.1 L233.7,156.6 L234.7,156.6 L234.7,157.1 L236.3,157.1 L236.3,157.9 L237.8,157.9 L237.8,156.6 L239.4,156.6 L239.4,158.1 L240.6,158.1 L240.6,158.7 L241.6,158.7 L241.6,159.4 L243.0,159.4 L243.0,160.2 L243.9,160.2 L243.9,158.7 L245.4,158.7 L245.4,161.3 L246.9,161.3 L246.9,160.8 L248.0,160.8 L248.0,161.6 L249.7,161.6 L249.7,162.0 L250.6,162.0 L250.6,161.6 L251.8,161.6 L251.8,162.6 L253.4,162.6 L253.4,162.1 L254.6,162.1 L254.6,162.4 L256.2,162.4 L256.2,161.4 L257.6,161.4 L257.6,161.7 L259.4,161.7 L259.4,162.4 L261.3,162.4 L261.3,162.0 L262.9,162.0 L262.9,163.2 L264.5,163.2 L264.5,162.1 L265.4,162.1 L265.4,162.4 L267.0,162.4 L267.0,163.2 L268.7,163.2 L268.7,162.5 L269.9,162.5 L269.9,164.0 L271.2,164.0 L271.2,165.2 L272.5,165.2 L272.5,164.7 L274.4,164.7 L274.4,166.8 L275.5,166.8 L275.5,167.1 L276.6,167.1 L276.6,167.1 L277.3,167.1 L277.3,166.3 L278.5,166.3 L278.5,166.6 L280.0,166.6 L280.0,166.4 L281.8,166.4 L281.8,166.3 L283.6,166.3 L283.6,169.0 L284.7,169.0 L284.7,169.3 L286.6,169.3 L286.6,169.7 L287.5,169.7 L287.5,169.1 L289.2,169.1 L289.2,169.8 L290.1,169.8 L290.1,171.4 L291.3,171.4 L291.3,170.6 L292.1,170.6 L292.1,172.0 L293.8,172.0 L293.8,172.5 L295.5,172.5 L295.5,172.4 L296.4,172.4 L296.4,173.2 L297.7,173.2 L297.7,172.5 L298.7,172.5 L298.7,172.5 L300.0,172.5 L300.0,173.7 L301.4,173.7 L301.4,172.7 L302.2,172.7 L302.2,174.4 L303.9,174.4 L303.9,173.1 L305.0,173.1 L305.0,173.4 L306.2,173.4 L306.2,173.2 L307.0,173.2 L307.0,175.0 L307.7,175.0 L307.7,174.3 L308.6,174.3 L308.6,174.8 L309.7,174.8 L309.7,175.6 L311.5,175.6 L311.5,175.7 L313.3,175.7 L313.3,176.6 L314.6,176.6 L314.6,176.9 L315.8,176.9 L315.8,176.9 L317.3,176.9 L317.3,177.7 L319.1,177.7 L319.1,177.1 L320.2,177.1 L320.2,177.7 L321.8,177.7 L321.8,175.9 L323.0,175.9 L323.0,176.9 L324.4,176.9 L324.4,177.6 L326.0,177.6 L326.0,178.3 L327.3,178.3 L327.3,177.9 L328.8,177.9 L328.8,178.0 L330.4,178.0 L330.4,177.1 L331.1,177.1 L331.1,179.0 L331.8,179.0 L331.8,180.0 L332.7,180.0 L332.7,179.9 L333.6,179.9 L333.6,180.1 L334.6,180.1 L334.6,181.0 L335.4,181.0 L335.4,180.3 L336.3,180.3 L336.3,180.7 L337.7,180.7 L337.7,181.0 L339.5,181.0 L339.5,180.9 L340.6,180.9 L340.6,181.9 L341.8,181.9 L341.8,181.8 L343.0,181.8 L343.0,180.9 L344.5,180.9 L344.5,182.0 L346.1,182.0 L346.1,180.8 L347.9,180.8 L347.9,182.5 L349.1,182.5 L349.1,181.0 L350.6,181.0 L350.6,181.2 L351.8,181.2 L351.8,182.1 L353.4,182.1 L353.4,182.6 L354.4,182.6 L354.4,182.6 L356.2,182.6 L356.2,182.6 L357.5,182.6 L357.5,181.6 L359.0,181.6 L359.0,181.2 L360.0,181.2 L360.0,183.7 L359.0,183.7 L359.0,184.1 L357.5,184.1 L357.5,184.2 L356.2,184.2 L356.2,184.3 L354.4,184.3 L354.4,185.0 L353.4,185.0 L353.4,183.7 L351.8,183.7 L351.8,184.5 L350.6,184.5 L350.6,184.0 L349.1,184.0 L349.1,184.2 L347.9,184.2 L347.9,184.1 L346.1,184.1 L346.1,184.0 L344.5,184.0 L344.5,183.8 L343.0,183.8 L343.0,183.9 L341.8,183.9 L341.8,185.3 L340.6,185.3 L340.6,183.6 L339.5,183.6 L339.5,183.5 L337.7,183.5 L337.7,185.3 L336.3,185.3 L336.3,183.5 L335.4,183.5 L335.4,182.9 L334.6,182.9 L334.6,182.7 L333.6,182.7 L333.6,182.9 L332.7,182.9 L332.7,182.7 L331.8,182.7 L331.8,181.7 L331.1,181.7 L331.1,181.9 L330.4,181.9 L330.4,181.6 L328.8,181.6 L328.8,180.9 L327.3,180.9 L327.3,180.3 L326.0,180.3 L326.0,180.1 L324.4,180.1 L324.4,181.1 L323.0,181.1 L323.0,180.7 L321.8,180.7 L321.8,179.1 L320.2,179.1 L320.2,180.3 L319.1,180.3 L319.1,179.4 L317.3,179.4 L317.3,178.7 L315.8,178.7 L315.8,180.1 L314.6,180.1 L314.6,178.3 L313.3,178.3 L313.3,178.5 L311.5,178.5 L311.5,177.6 L309.7,177.6 L309.7,177.9 L308.6,177.9 L308.6,177.0 L307.7,177.0 L307.7,176.2 L307.0,176.2 L307.0,176.7 L306.2,176.7 L306.2,176.4 L305.0,176.4 L305.0,176.0 L303.9,176.0 L303.9,176.8 L302.2,176.8 L302.2,175.8 L301.4,175.8 L301.4,176.5 L300.0,176.5 L300.0,175.8 L298.7,175.8 L298.7,174.6 L297.7,174.6 L297.7,175.5 L296.4,175.5 L296.4,173.8 L295.5,173.8 L295.5,176.3 L293.8,176.3 L293.8,173.6 L292.1,173.6 L292.1,172.6 L291.3,172.6 L291.3,173.0 L290.1,173.0 L290.1,172.5 L289.2,172.5 L289.2,171.3 L287.5,171.3 L287.5,172.6 L286.6,172.6 L286.6,171.4 L284.7,171.4 L284.7,170.8 L283.6,170.8 L283.6,170.8 L281.8,170.8 L281.8,169.3 L280.0,169.3 L280.0,168.6 L278.5,168.6 L278.5,170.6 L277.3,170.6 L277.3,168.7 L276.6,168.7 L276.6,168.6 L275.5,168.6 L275.5,168.6 L274.4,168.6 L274.4,168.3 L272.5,168.3 L272.5,167.0 L271.2,167.0 L271.2,165.8 L269.9,165.8 L269.9,165.9 L268.7,165.9 L268.7,165.6 L267.0,165.6 L267.0,166.6 L265.4,166.6 L265.4,165.3 L264.5,165.3 L264.5,165.1 L262.9,165.1 L262.9,164.6 L261.3,164.6 L261.3,165.0 L259.4,165.0 L259.4,164.2 L257.6,164.2 L257.6,164.8 L256.2,164.8 L256.2,163.9 L254.6,163.9 L254.6,164.1 L253.4,164.1 L253.4,164.6 L251.8,164.6 L251.8,164.0 L250.6,164.0 L250.6,163.6 L249.7,163.6 L249.7,163.7 L248.0,163.7 L248.0,163.0 L246.9,163.0 L246.9,162.3 L245.4,162.3 L245.4,162.3 L243.9,162.3 L243.9,162.9 L243.0,162.9 L243.0,163.3 L241.6,163.3 L241.6,161.8 L240.6,161.8 L240.6,162.6 L239.4,162.6 L239.4,160.3 L237.8,160.3 L237.8,160.2 L236.3,160.2 L236.3,158.7 L234.7,158.7 L234.7,158.2 L233.7,158.2 L233.7,158.2 L232.4,158.2 L232.4,157.2 L230.6,157.2 L230.6,156.9 L229.4,156.9 L229.4,155.3 L227.5,155.3 L227.5,154.8 L226.4,154.8 L226.4,155.5 L224.7,155.5 L224.7,153.1 L223.9,153.1 L223.9,151.1 L222.1,151.1 L222.1,151.3 L221.3,151.3 L221.3,148.5 L220.4,148.5 L220.4,147.6 L219.1,147.6 L219.1,148.3 L217.7,148.3 L217.7,147.2 L216.1,147.2 L216.1,146.7 L215.0,146.7 L215.0,147.4 L214.0,147.4 L214.0,148.1 L212.4,148.1 L212.4,148.9 L211.1,148.9 L211.1,150.4 L210.0,150.4 L210.0,153.9 L209.3,153.9 L209.3,153.0 L208.7,153.0 L208.7,157.0 L207.6,157.0 L207.6,157.1 L206.9,157.1 L206.9,157.6 L206.4,157.6 L206.4,159.3 L205.8,159.3 L205.8,161.0 L205.2,161.0 L205.2,162.6 L204.8,162.6 L204.8,164.0 L204.1,164.0 L204.1,165.9 L203.8,165.9 L203.8,168.3 L203.1,168.3 L203.1,169.5 L202.3,169.5 L202.3,171.1 L201.9,171.1 L201.9,171.8 L201.2,171.8 L201.2,175.5 L200.7,175.5 L200.7,175.5 L200.4,175.5 L200.4,179.0 L199.8,179.0 L199.8,178.5 L199.4,178.5 L199.4,179.8 L198.9,179.8 L198.9,180.8 L198.6,180.8 L198.6,182.4 L197.8,182.4 L197.8,185.3 L196.9,185.3 L196.9,186.7 L195.9,186.7 L195.9,188.1 L194.2,188.1 L194.2,190.3 L192.4,190.3 L192.4,191.7 L190.6,191.7 L190.6,193.2 L189.3,193.2 L189.3,193.0 L188.4,193.0 L188.4,192.2 L186.9,192.2 L186.9,192.6 L185.0,192.6 L185.0,193.2 L184.2,193.2 L184.2,193.1 L183.5,193.1 L183.5,193.1 L182.3,193.1 L182.3,192.7 L181.1,192.7 L181.1,192.9 L180.3,192.9 L180.3,192.7 L179.3,192.7 L179.3,194.1 L178.0,194.1 L178.0,195.3 L176.9,195.3 L176.9,197.6 L176.0,197.6 Z" fill="#000" stroke="#000" stroke-width="1.0" stroke-linejoin="round"/>
<line x1="85.6" y1="196" x2="85.6" y2="209.3" stroke="#000" stroke-width="2.6"/>
<line x1="104.7" y1="196" x2="104.7" y2="220" stroke="#000" stroke-width="0.75"/>
<line x1="177.5" y1="194" x2="177.5" y2="216" stroke="#000" stroke-width="2.6"/>
<line x1="188" y1="191" x2="188" y2="212.5" stroke="#000" stroke-width="2.5"/>
<line x1="95.7" y1="196" x2="95.7" y2="202" stroke="#000" stroke-width="1.6"/>
<line x1="99.7" y1="196" x2="99.7" y2="201" stroke="#000" stroke-width="1.4"/>
<line x1="68.7" y1="220.2" x2="107.0" y2="220.2" stroke="#000" stroke-width="2.4"/>
<text x="67.07" y="243.4" font-size="18.2" textLength="41.71" lengthAdjust="spacingAndGlyphs">1 min</text>
<text x="388.34" y="70.0" font-size="17.3" textLength="123.53" lengthAdjust="spacingAndGlyphs">Ro-46; ADP+Sk</text>
<text x="389.21" y="87.8" font-size="17.3" textLength="129.52" lengthAdjust="spacingAndGlyphs">hirudin; ADP+Sk</text>
<text x="388.72" y="106.5" font-size="17.3" textLength="65.29" lengthAdjust="spacingAndGlyphs">ADP+Sk</text>
<text x="388.06" y="180.8" font-size="17.3" textLength="118.46" lengthAdjust="spacingAndGlyphs">2/389; ADP+Sk</text>
<text x="388.72" y="199.5" font-size="17.3" textLength="36.42" lengthAdjust="spacingAndGlyphs">ADP</text>
<text x="5.13" y="279.7" font-size="24" textLength="14.92" lengthAdjust="spacingAndGlyphs">B</text>
<line x1="55.7" y1="307.7" x2="55.7" y2="456.3" stroke="#000" stroke-width="2.0"/>
<line x1="50.7" y1="308.5" x2="56.2" y2="308.5" stroke="#000" stroke-width="1.6"/>
<line x1="50.7" y1="345.25" x2="56.2" y2="345.25" stroke="#000" stroke-width="1.6"/>
<line x1="50.7" y1="382.0" x2="56.2" y2="382.0" stroke="#000" stroke-width="1.6"/>
<line x1="50.7" y1="418.75" x2="56.2" y2="418.75" stroke="#000" stroke-width="1.6"/>
<line x1="50.7" y1="455.5" x2="56.2" y2="455.5" stroke="#000" stroke-width="1.6"/>
<text x="27.95" y="316.1" font-size="17.5" textLength="18.80" lengthAdjust="spacingAndGlyphs">80</text>
<text x="28.03" y="389.9" font-size="17.5" textLength="18.72" lengthAdjust="spacingAndGlyphs">40</text>
<text x="41.24" y="463.0" font-size="17.5" textLength="9.52" lengthAdjust="spacingAndGlyphs">0</text>
<text transform="translate(16.5,384.9) rotate(-90)" font-size="18.6" text-anchor="middle">% light transmission</text>
<path d="M119.7,453.2 L120.0,451.2 L120.3,449.8 L120.6,448.6 L120.9,447.8 L121.2,446.3 L121.5,445.3 L121.8,444.5 L122.1,443.3 L122.4,442.0 L122.7,441.0 L123.0,439.8 L123.3,438.8 L123.6,437.7 L123.9,436.5 L124.2,435.6 L124.5,434.5 L124.8,433.3 L125.1,432.3 L125.4,431.2 L125.7,430.2 L126.0,429.3 L126.3,428.1 L126.6,426.9 L126.9,426.2 L127.2,425.3 L127.5,424.5 L127.8,423.5 L128.1,422.5 L128.4,421.5 L128.7,420.9 L129.0,420.2 L129.3,419.4 L129.6,418.6 L129.9,417.8 L130.2,417.0 L130.5,416.0 L130.8,415.3 L131.1,414.5 L131.4,413.5 L131.7,413.2 L132.0,412.0 L132.3,411.7 L132.6,410.8 L132.9,409.8 L133.2,409.1 L133.5,408.4" fill="none" stroke="#000" stroke-width="1.05" stroke-linejoin="round" stroke-linecap="butt" stroke-dasharray="5 0.6 3 0.5 7 0.7"/>
<path d="M132.8,409.3 L133.2,409.3 L133.2,408.6 L133.6,408.6 L133.6,407.5 L134.1,407.5 L134.1,406.5 L134.4,406.5 L134.4,405.4 L134.7,405.4 L134.7,403.8 L135.3,403.8 L135.3,401.1 L135.6,401.1 L135.6,402.0 L135.9,402.0 L135.9,399.9 L136.4,399.9 L136.4,397.5 L136.8,397.5 L136.8,398.3 L137.1,398.3 L137.1,397.3 L137.4,397.3 L137.4,396.1 L137.8,396.1 L137.8,395.1 L138.1,395.1 L138.1,392.1 L138.3,392.1 L138.3,391.7 L138.7,391.7 L138.7,391.0 L139.1,391.0 L139.1,389.9 L139.4,389.9 L139.4,387.8 L140.0,387.8 L140.0,387.6 L140.5,387.6 L140.5,386.2 L141.4,386.2 L141.4,384.5 L142.0,384.5 L142.0,381.2 L142.8,381.2 L142.8,382.7 L143.8,382.7 L143.8,378.9 L144.6,378.9 L144.6,379.8 L145.6,379.8 L145.6,376.2 L146.4,376.2 L146.4,376.3 L147.6,376.3 L147.6,377.5 L148.8,377.5 L148.8,374.3 L149.4,374.3 L149.4,374.2 L150.4,374.2 L150.4,370.0 L151.2,370.0 L151.2,371.4 L151.8,371.4 L151.8,367.6 L153.1,367.6 L153.1,369.4 L154.0,369.4 L154.0,368.4 L154.7,368.4 L154.7,369.0 L155.7,369.0 L155.7,368.7 L156.5,368.7 L156.5,367.4 L157.7,367.4 L157.7,365.7 L158.5,365.7 L158.5,365.1 L159.1,365.1 L159.1,364.0 L159.8,364.0 L159.8,362.4 L160.7,362.4 L160.7,358.7 L161.6,358.7 L161.6,359.7 L162.8,359.7 L162.8,358.1 L163.9,358.1 L163.9,357.7 L164.7,357.7 L164.7,355.4 L165.4,355.4 L165.4,358.2 L166.1,358.2 L166.1,354.7 L167.4,354.7 L167.4,356.8 L168.3,356.8 L168.3,355.2 L169.4,355.2 L169.4,355.9 L170.0,355.9 L170.0,354.8 L170.6,354.8 L170.6,352.7 L171.8,352.7 L171.8,352.7 L172.8,352.7 L172.8,351.9 L173.7,351.9 L173.7,352.7 L174.5,352.7 L174.5,348.9 L175.1,348.9 L175.1,350.0 L175.9,350.0 L175.9,350.1 L176.5,350.1 L176.5,347.7 L177.7,347.7 L177.7,345.7 L178.6,345.7 L178.6,346.4 L179.3,346.4 L179.3,347.5 L180.4,347.5 L180.4,346.4 L181.1,346.4 L181.1,344.9 L181.8,344.9 L181.8,346.1 L182.8,346.1 L182.8,345.9 L184.0,345.9 L184.0,346.0 L184.6,346.0 L184.6,342.5 L185.8,342.5 L185.8,343.2 L186.5,343.2 L186.5,341.9 L187.2,341.9 L187.2,339.4 L187.8,339.4 L187.8,339.4 L188.6,339.4 L188.6,336.5 L189.7,336.5 L189.7,338.8 L190.7,338.8 L190.7,338.3 L191.9,338.3 L191.9,336.2 L192.6,336.2 L192.6,334.2 L193.4,334.2 L193.4,334.8 L194.2,334.8 L194.2,334.4 L195.5,334.4 L195.5,332.6 L196.8,332.6 L196.8,333.5 L197.6,333.5 L197.6,331.3 L198.5,331.3 L198.5,328.7 L199.3,328.7 L199.3,330.8 L200.5,330.8 L200.5,329.5 L201.1,329.5 L201.1,328.6 L201.7,328.6 L201.7,328.3 L202.6,328.3 L202.6,327.2 L203.4,327.2 L203.4,327.6 L204.6,327.6 L204.6,327.3 L205.7,327.3 L205.7,324.4 L206.7,324.4 L206.7,325.7 L207.7,325.7 L207.7,324.6 L208.8,324.6 L208.8,325.6 L210.0,325.6 L210.0,324.2 L211.2,324.2 L211.2,323.7 L211.9,323.7 L211.9,323.4 L213.0,323.4 L213.0,322.7 L213.7,322.7 L213.7,322.7 L214.6,322.7 L214.6,323.2 L215.7,323.2 L215.7,320.9 L217.0,320.9 L217.0,319.4 L218.1,319.4 L218.1,320.3 L218.7,320.3 L218.7,322.6 L219.6,322.6 L219.6,322.1 L220.3,322.1 L220.3,319.3 L221.6,319.3 L221.6,316.8 L222.3,316.8 L222.3,318.3 L223.0,318.3 L223.0,318.3 L223.9,318.3 L223.9,317.7 L224.5,317.7 L224.5,315.1 L225.8,315.1 L225.8,318.1 L226.8,318.1 L226.8,318.0 L227.5,318.0 L227.5,319.2 L228.5,319.2 L228.5,319.1 L229.1,319.1 L229.1,319.5 L230.1,319.5 L230.1,316.0 L230.9,316.0 L230.9,317.7 L231.5,317.7 L231.5,316.3 L232.2,316.3 L232.2,315.7 L233.2,315.7 L233.2,315.1 L234.2,315.1 L234.2,310.6 L235.1,310.6 L235.1,312.6 L236.1,312.6 L236.1,314.9 L237.0,314.9 L237.0,314.7 L237.7,314.7 L237.7,313.0 L238.5,313.0 L238.5,313.4 L239.4,313.4 L239.4,313.1 L240.6,313.1 L240.6,309.6 L241.3,309.6 L241.3,310.7 L241.9,310.7 L241.9,312.2 L242.9,312.2 L242.9,313.2 L244.2,313.2 L244.2,312.4 L245.4,312.4 L245.4,309.4 L246.5,309.4 L246.5,311.8 L247.2,311.8 L247.2,312.9 L248.3,312.9 L248.3,312.3 L249.4,312.3 L249.4,312.9 L250.1,312.9 L250.1,312.1 L251.0,312.1 L251.0,310.4 L251.7,310.4 L251.7,307.6 L252.8,307.6 L252.8,310.8 L253.9,310.8 L253.9,310.2 L255.1,310.2 L255.1,309.6 L256.2,309.6 L256.2,309.3 L257.0,309.3 L257.0,309.3 L258.2,309.3 L258.2,310.4 L259.0,310.4 L259.0,310.7 L259.7,310.7 L259.7,310.4 L260.5,310.4 L260.5,310.6 L261.5,310.6 L261.5,310.7 L262.3,310.7 L262.3,311.1 L263.3,311.1 L263.3,312.2 L264.3,312.2 L264.3,311.2 L265.1,311.2 L265.1,309.2 L266.1,309.2 L266.1,307.4 L267.0,307.4 L267.0,309.4 L268.1,309.4 L268.1,308.0 L268.9,308.0 L268.9,306.4 L270.0,306.4 L270.0,308.1 L270.9,308.1 L270.9,306.0 L271.9,306.0 L271.9,306.9 L273.0,306.9 L273.0,306.4 L274.0,306.4 L274.0,306.6 L274.7,306.6 L274.7,305.3 L276.0,305.3 L276.0,306.1 L276.7,306.1 L276.7,307.3 L277.5,307.3 L277.5,307.2 L278.5,307.2 L278.5,306.3 L279.1,306.3 L279.1,307.8 L279.8,307.8 L279.8,308.0 L281.0,308.0 L281.0,307.6 L282.1,307.6 L282.1,307.0 L283.2,307.0 L283.2,304.7 L284.4,304.7 L284.4,308.0 L285.5,308.0 L285.5,307.7 L286.4,307.7 L286.4,305.5 L287.4,305.5 L287.4,304.5 L288.2,304.5 L288.2,304.5 L289.4,304.5 L289.4,305.0 L290.2,305.0 L290.2,308.4 L290.9,308.4 L290.9,307.3 L292.2,307.3 L292.2,306.2 L293.2,306.2 L293.2,307.9 L294.4,307.9 L294.4,307.2 L295.4,307.2 L295.4,305.7 L296.5,305.7 L296.5,307.0 L297.4,307.0 L297.4,306.5 L298.4,306.5 L298.4,302.6 L299.1,302.6 L299.1,306.0 L300.0,306.0 L300.0,304.8 L301.2,304.8 L301.2,306.1 L302.3,306.1 L302.3,301.3 L303.5,301.3 L303.5,302.8 L304.4,302.8 L304.4,305.3 L305.6,305.3 L305.6,304.1 L306.3,304.1 L306.3,301.9 L307.5,301.9 L307.5,303.4 L308.4,303.4 L308.4,303.9 L309.1,303.9 L309.1,302.5 L310.1,302.5 L310.1,300.5 L311.0,300.5 L311.0,301.9 L311.9,301.9 L311.9,305.2 L313.1,305.2 L313.1,303.9 L313.8,303.9 L313.8,304.9 L314.8,304.9 L314.8,304.0 L315.7,304.0 L315.7,302.4 L316.7,302.4 L316.7,305.3 L317.6,305.3 L317.6,302.8 L318.3,302.8 L318.3,302.7 L319.3,302.7 L319.3,303.3 L320.5,303.3 L320.5,299.8 L321.2,299.8 L321.2,300.5 L321.8,300.5 L321.8,302.0 L322.5,302.0 L322.5,301.9 L323.4,301.9 L323.4,302.7 L324.7,302.7 L324.7,302.7 L325.3,302.7 L325.3,303.3 L326.6,303.3 L326.6,302.8 L327.6,302.8 L327.6,303.9 L328.3,303.9 L328.3,302.2 L329.1,302.2 L329.1,301.4 L329.9,301.4 L329.9,301.8 L331.0,301.8 L331.0,300.6 L332.0,300.6 L332.0,303.2 L332.8,303.2 L332.8,299.0 L333.6,299.0 L333.6,299.6 L334.8,299.6 L334.8,302.5 L335.9,302.5 L335.9,301.9 L336.8,301.9 L336.8,301.6 L337.7,301.6 L337.7,301.4 L338.8,301.4 L338.8,300.6 L340.1,300.6 L340.1,301.7 L340.7,301.7 L340.7,301.1 L341.4,301.1 L341.4,300.8 L342.3,300.8 L342.3,300.1 L343.3,300.1 L343.3,300.4 L343.9,300.4 L343.9,301.7 L344.5,301.7 L344.5,299.5 L345.3,299.5 L345.3,299.6 L346.2,299.6 L346.2,300.5 L347.3,300.5 L347.3,297.6 L348.3,297.6 L348.3,299.7 L348.9,299.7 L348.9,300.4 L349.6,300.4 L349.6,300.6 L350.5,300.6 L350.5,301.0 L351.7,301.0 L351.7,302.2 L352.9,302.2 L352.9,302.5 L353.8,302.5 L353.8,302.6 L355.0,302.6 L355.0,299.3 L356.3,299.3 L356.3,301.1 L357.0,301.1 L357.0,307.5 L356.3,307.5 L356.3,305.8 L355.0,305.8 L355.0,307.9 L353.8,307.9 L353.8,306.4 L352.9,306.4 L352.9,306.1 L351.7,306.1 L351.7,306.9 L350.5,306.9 L350.5,307.5 L349.6,307.5 L349.6,303.7 L348.9,303.7 L348.9,302.4 L348.3,302.4 L348.3,304.8 L347.3,304.8 L347.3,304.5 L346.2,304.5 L346.2,306.4 L345.3,306.4 L345.3,304.0 L344.5,304.0 L344.5,304.7 L343.9,304.7 L343.9,304.2 L343.3,304.2 L343.3,304.3 L342.3,304.3 L342.3,304.7 L341.4,304.7 L341.4,305.0 L340.7,305.0 L340.7,305.3 L340.1,305.3 L340.1,306.8 L338.8,306.8 L338.8,307.1 L337.7,307.1 L337.7,306.6 L336.8,306.6 L336.8,307.2 L335.9,307.2 L335.9,305.5 L334.8,305.5 L334.8,305.7 L333.6,305.7 L333.6,307.8 L332.8,307.8 L332.8,307.8 L332.0,307.8 L332.0,306.4 L331.0,306.4 L331.0,306.5 L329.9,306.5 L329.9,305.8 L329.1,305.8 L329.1,306.1 L328.3,306.1 L328.3,306.0 L327.6,306.0 L327.6,309.4 L326.6,309.4 L326.6,307.3 L325.3,307.3 L325.3,305.3 L324.7,305.3 L324.7,307.9 L323.4,307.9 L323.4,307.9 L322.5,307.9 L322.5,305.4 L321.8,305.4 L321.8,306.0 L321.2,306.0 L321.2,308.7 L320.5,308.7 L320.5,306.5 L319.3,306.5 L319.3,305.6 L318.3,305.6 L318.3,307.4 L317.6,307.4 L317.6,308.9 L316.7,308.9 L316.7,308.1 L315.7,308.1 L315.7,307.4 L314.8,307.4 L314.8,309.5 L313.8,309.5 L313.8,307.1 L313.1,307.1 L313.1,308.9 L311.9,308.9 L311.9,308.1 L311.0,308.1 L311.0,308.0 L310.1,308.0 L310.1,308.4 L309.1,308.4 L309.1,309.6 L308.4,309.6 L308.4,307.3 L307.5,307.3 L307.5,306.9 L306.3,306.9 L306.3,306.9 L305.6,306.9 L305.6,306.7 L304.4,306.7 L304.4,309.3 L303.5,309.3 L303.5,308.3 L302.3,308.3 L302.3,308.4 L301.2,308.4 L301.2,308.7 L300.0,308.7 L300.0,310.1 L299.1,310.1 L299.1,308.4 L298.4,308.4 L298.4,311.2 L297.4,311.2 L297.4,308.9 L296.5,308.9 L296.5,310.5 L295.4,310.5 L295.4,309.1 L294.4,309.1 L294.4,308.5 L293.2,308.5 L293.2,312.7 L292.2,312.7 L292.2,309.0 L290.9,309.0 L290.9,310.4 L290.2,310.4 L290.2,308.9 L289.4,308.9 L289.4,309.3 L288.2,309.3 L288.2,308.0 L287.4,308.0 L287.4,311.7 L286.4,311.7 L286.4,308.2 L285.5,308.2 L285.5,308.5 L284.4,308.5 L284.4,308.8 L283.2,308.8 L283.2,309.6 L282.1,309.6 L282.1,309.2 L281.0,309.2 L281.0,308.5 L279.8,308.5 L279.8,308.7 L279.1,308.7 L279.1,308.7 L278.5,308.7 L278.5,310.7 L277.5,310.7 L277.5,309.5 L276.7,309.5 L276.7,309.2 L276.0,309.2 L276.0,309.7 L274.7,309.7 L274.7,309.4 L274.0,309.4 L274.0,308.7 L273.0,308.7 L273.0,308.4 L271.9,308.4 L271.9,308.5 L270.9,308.5 L270.9,308.6 L270.0,308.6 L270.0,310.8 L268.9,310.8 L268.9,311.0 L268.1,311.0 L268.1,313.9 L267.0,313.9 L267.0,312.1 L266.1,312.1 L266.1,313.7 L265.1,313.7 L265.1,315.1 L264.3,315.1 L264.3,316.8 L263.3,316.8 L263.3,314.0 L262.3,314.0 L262.3,312.6 L261.5,312.6 L261.5,312.2 L260.5,312.2 L260.5,312.3 L259.7,312.3 L259.7,311.2 L259.0,311.2 L259.0,312.2 L258.2,312.2 L258.2,311.6 L257.0,311.6 L257.0,311.3 L256.2,311.3 L256.2,311.4 L255.1,311.4 L255.1,313.4 L253.9,313.4 L253.9,312.2 L252.8,312.2 L252.8,312.6 L251.7,312.6 L251.7,314.1 L251.0,314.1 L251.0,313.5 L250.1,313.5 L250.1,314.8 L249.4,314.8 L249.4,314.5 L248.3,314.5 L248.3,315.9 L247.2,315.9 L247.2,314.1 L246.5,314.1 L246.5,314.2 L245.4,314.2 L245.4,317.5 L244.2,317.5 L244.2,314.6 L242.9,314.6 L242.9,315.5 L241.9,315.5 L241.9,316.3 L241.3,316.3 L241.3,316.8 L240.6,316.8 L240.6,316.5 L239.4,316.5 L239.4,319.5 L238.5,319.5 L238.5,319.8 L237.7,319.8 L237.7,318.7 L237.0,318.7 L237.0,318.7 L236.1,318.7 L236.1,316.2 L235.1,316.2 L235.1,316.7 L234.2,316.7 L234.2,317.0 L233.2,317.0 L233.2,318.1 L232.2,318.1 L232.2,321.5 L231.5,321.5 L231.5,322.4 L230.9,322.4 L230.9,321.1 L230.1,321.1 L230.1,322.0 L229.1,322.0 L229.1,322.0 L228.5,322.0 L228.5,321.9 L227.5,321.9 L227.5,320.9 L226.8,320.9 L226.8,323.2 L225.8,323.2 L225.8,322.3 L224.5,322.3 L224.5,320.5 L223.9,320.5 L223.9,321.8 L223.0,321.8 L223.0,321.0 L222.3,321.0 L222.3,323.6 L221.6,323.6 L221.6,323.4 L220.3,323.4 L220.3,324.1 L219.6,324.1 L219.6,325.9 L218.7,325.9 L218.7,324.1 L218.1,324.1 L218.1,326.3 L217.0,326.3 L217.0,327.3 L215.7,327.3 L215.7,325.5 L214.6,325.5 L214.6,327.3 L213.7,327.3 L213.7,326.7 L213.0,326.7 L213.0,326.3 L211.9,326.3 L211.9,326.4 L211.2,326.4 L211.2,329.2 L210.0,329.2 L210.0,328.0 L208.8,328.0 L208.8,329.9 L207.7,329.9 L207.7,330.2 L206.7,330.2 L206.7,328.4 L205.7,328.4 L205.7,329.2 L204.6,329.2 L204.6,330.4 L203.4,330.4 L203.4,333.0 L202.6,333.0 L202.6,330.9 L201.7,330.9 L201.7,332.4 L201.1,332.4 L201.1,332.5 L200.5,332.5 L200.5,336.7 L199.3,336.7 L199.3,334.6 L198.5,334.6 L198.5,335.7 L197.6,335.7 L197.6,336.4 L196.8,336.4 L196.8,336.0 L195.5,336.0 L195.5,338.8 L194.2,338.8 L194.2,337.6 L193.4,337.6 L193.4,338.6 L192.6,338.6 L192.6,341.8 L191.9,341.8 L191.9,341.4 L190.7,341.4 L190.7,340.8 L189.7,340.8 L189.7,344.6 L188.6,344.6 L188.6,342.0 L187.8,342.0 L187.8,343.5 L187.2,343.5 L187.2,347.0 L186.5,347.0 L186.5,345.3 L185.8,345.3 L185.8,349.3 L184.6,349.3 L184.6,348.7 L184.0,348.7 L184.0,352.7 L182.8,352.7 L182.8,348.8 L181.8,348.8 L181.8,349.8 L181.1,349.8 L181.1,349.9 L180.4,349.9 L180.4,351.0 L179.3,351.0 L179.3,354.1 L178.6,354.1 L178.6,350.2 L177.7,350.2 L177.7,351.6 L176.5,351.6 L176.5,351.6 L175.9,351.6 L175.9,352.2 L175.1,352.2 L175.1,354.3 L174.5,354.3 L174.5,355.0 L173.7,355.0 L173.7,357.2 L172.8,357.2 L172.8,358.6 L171.8,358.6 L171.8,356.8 L170.6,356.8 L170.6,358.4 L170.0,358.4 L170.0,356.6 L169.4,356.6 L169.4,357.9 L168.3,357.9 L168.3,358.8 L167.4,358.8 L167.4,361.3 L166.1,361.3 L166.1,360.0 L165.4,360.0 L165.4,360.3 L164.7,360.3 L164.7,361.1 L163.9,361.1 L163.9,361.7 L162.8,361.7 L162.8,364.4 L161.6,364.4 L161.6,364.3 L160.7,364.3 L160.7,364.6 L159.8,364.6 L159.8,366.9 L159.1,366.9 L159.1,368.4 L158.5,368.4 L158.5,369.6 L157.7,369.6 L157.7,370.8 L156.5,370.8 L156.5,372.4 L155.7,372.4 L155.7,372.6 L154.7,372.6 L154.7,372.2 L154.0,372.2 L154.0,372.9 L153.1,372.9 L153.1,373.2 L151.8,373.2 L151.8,375.2 L151.2,375.2 L151.2,376.3 L150.4,376.3 L150.4,377.8 L149.4,377.8 L149.4,377.7 L148.8,377.7 L148.8,379.1 L147.6,379.1 L147.6,380.3 L146.4,380.3 L146.4,380.9 L145.6,380.9 L145.6,382.2 L144.6,382.2 L144.6,382.7 L143.8,382.7 L143.8,384.7 L142.8,384.7 L142.8,386.1 L142.0,386.1 L142.0,388.6 L141.4,388.6 L141.4,389.0 L140.5,389.0 L140.5,390.1 L140.0,390.1 L140.0,390.4 L139.4,390.4 L139.4,394.2 L139.1,394.2 L139.1,392.6 L138.7,392.6 L138.7,395.4 L138.3,395.4 L138.3,395.9 L138.1,395.9 L138.1,399.2 L137.8,399.2 L137.8,397.6 L137.4,397.6 L137.4,398.7 L137.1,398.7 L137.1,401.8 L136.8,401.8 L136.8,400.6 L136.4,400.6 L136.4,403.9 L135.9,403.9 L135.9,403.0 L135.6,403.0 L135.6,403.9 L135.3,403.9 L135.3,407.2 L134.7,407.2 L134.7,406.5 L134.4,406.5 L134.4,407.4 L134.1,407.4 L134.1,411.0 L133.6,411.0 L133.6,413.7 L133.2,413.7 L133.2,411.3 L132.8,411.3 Z" fill="#000" stroke="#000" stroke-width="0.7" stroke-linejoin="round"/>
<path d="M71.4,454.7 L72.4,454.7 L72.4,454.0 L74.2,454.0 L74.2,454.0 L75.2,454.0 L75.2,453.4 L76.1,453.4 L76.1,453.8 L77.2,453.8 L77.2,453.4 L78.2,453.4 L78.2,453.8 L79.7,453.8 L79.7,454.1 L80.5,454.1 L80.5,454.4 L82.3,454.4 L82.3,454.0 L84.0,454.0 L84.0,453.8 L84.7,453.8 L84.7,453.9 L86.1,453.9 L86.1,453.9 L86.9,453.9 L86.9,453.1 L87.9,453.1 L87.9,453.7 L89.1,453.7 L89.1,453.7 L90.4,453.7 L90.4,453.4 L91.6,453.4 L91.6,454.0 L93.4,454.0 L93.4,454.0 L94.4,454.0 L94.4,453.2 L95.4,453.2 L95.4,453.1 L96.9,453.1 L96.9,453.5 L98.7,453.5 L98.7,453.0 L100.5,453.0 L100.5,452.9 L101.7,452.9 L101.7,454.6 L100.5,454.6 L100.5,455.3 L98.7,455.3 L98.7,454.3 L96.9,454.3 L96.9,454.4 L95.4,454.4 L95.4,454.5 L94.4,454.5 L94.4,455.0 L93.4,455.0 L93.4,455.8 L91.6,455.8 L91.6,455.2 L90.4,455.2 L90.4,455.3 L89.1,455.3 L89.1,456.3 L87.9,456.3 L87.9,455.3 L86.9,455.3 L86.9,456.4 L86.1,456.4 L86.1,455.0 L84.7,455.0 L84.7,455.7 L84.0,455.7 L84.0,455.9 L82.3,455.9 L82.3,455.1 L80.5,455.1 L80.5,455.0 L79.7,455.0 L79.7,454.9 L78.2,454.9 L78.2,454.8 L77.2,454.8 L77.2,454.5 L76.1,454.5 L76.1,454.8 L75.2,454.8 L75.2,456.3 L74.2,456.3 L74.2,455.0 L72.4,455.0 L72.4,455.7 L71.4,455.7 Z" fill="#000" stroke="#000" stroke-width="0.7" stroke-linejoin="round"/>
<rect x="101.9" y="450.9" width="39.6" height="4.9" fill="#000"/>
<path d="M101.7,451.4 L103.4,451.4 L103.4,451.1 L105.2,451.1 L105.2,451.3 L106.8,451.3 L106.8,451.5 L107.9,451.5 L107.9,451.0 L108.6,451.0 L108.6,450.8 L110.5,450.8 L110.5,450.7 L111.9,450.7 L111.9,450.9 L112.6,450.9 L112.6,450.4 L114.4,450.4 L114.4,450.3 L116.3,450.3 L116.3,450.4 L117.3,450.4 L117.3,450.9 L119.0,450.9 L119.0,451.0 L119.8,451.0 L119.8,450.7 L121.0,450.7 L121.0,450.6 L122.7,450.6 L122.7,451.2 L123.9,451.2 L123.9,450.8 L125.2,450.8 L125.2,451.0 L126.1,451.0 L126.1,451.6 L127.7,451.6 L127.7,451.2 L129.0,451.2 L129.0,451.2 L130.0,451.2 L130.0,450.6 L131.7,450.6 L131.7,451.4 L133.6,451.4 L133.6,450.5 L134.9,450.5 L134.9,450.5 L136.5,450.5 L136.5,450.6 L138.4,450.6 L138.4,450.9 L139.1,450.9 L139.1,450.2 L140.5,450.2 L140.5,450.7 L141.5,450.7 L141.5,455.9 L140.5,455.9 L140.5,455.9 L139.1,455.9 L139.1,456.2 L138.4,456.2 L138.4,457.1 L136.5,457.1 L136.5,456.5 L134.9,456.5 L134.9,456.4 L133.6,456.4 L133.6,456.1 L131.7,456.1 L131.7,456.4 L130.0,456.4 L130.0,456.4 L129.0,456.4 L129.0,456.4 L127.7,456.4 L127.7,455.9 L126.1,455.9 L126.1,457.5 L125.2,457.5 L125.2,455.7 L123.9,455.7 L123.9,455.5 L122.7,455.5 L122.7,455.7 L121.0,455.7 L121.0,455.8 L119.8,455.8 L119.8,455.1 L119.0,455.1 L119.0,455.0 L117.3,455.0 L117.3,455.1 L116.3,455.1 L116.3,454.6 L114.4,454.6 L114.4,455.4 L112.6,455.4 L112.6,455.4 L111.9,455.4 L111.9,455.0 L110.5,455.0 L110.5,454.7 L108.6,454.7 L108.6,455.6 L107.9,455.6 L107.9,455.2 L106.8,455.2 L106.8,455.2 L105.2,455.2 L105.2,455.5 L103.4,455.5 L103.4,455.2 L101.7,455.2 Z" fill="#000" stroke="#000" stroke-width="1.0" stroke-linejoin="round"/>
<path d="M141.5,449.8 L142.7,449.8 L142.7,450.1 L144.2,450.1 L144.2,450.1 L145.3,450.1 L145.3,449.7 L146.1,449.7 L146.1,451.0 L147.9,451.0 L147.9,450.5 L149.3,450.5 L149.3,451.2 L150.8,451.2 L150.8,450.0 L152.2,450.0 L152.2,450.2 L153.5,450.2 L153.5,450.5 L154.3,450.5 L154.3,449.3 L155.4,449.3 L155.4,450.6 L157.0,450.6 L157.0,448.9 L158.7,448.9 L158.7,449.6 L160.5,449.6 L160.5,449.1 L162.4,449.1 L162.4,449.2 L163.1,449.2 L163.1,449.5 L164.7,449.5 L164.7,448.8 L166.2,448.8 L166.2,450.1 L167.6,450.1 L167.6,450.0 L169.1,450.0 L169.1,449.9 L169.9,449.9 L169.9,449.8 L171.4,449.8 L171.4,449.7 L173.0,449.7 L173.0,449.3 L173.7,449.3 L173.7,448.4 L175.6,448.4 L175.6,449.2 L176.4,449.2 L176.4,450.1 L177.6,450.1 L177.6,449.8 L178.9,449.8 L178.9,449.1 L180.4,449.1 L180.4,450.7 L181.7,450.7 L181.7,450.4 L182.9,450.4 L182.9,450.7 L184.6,450.7 L184.6,450.3 L185.8,450.3 L185.8,449.8 L187.6,449.8 L187.6,449.6 L188.7,449.6 L188.7,448.1 L190.1,448.1 L190.1,448.7 L191.8,448.7 L191.8,449.1 L192.7,449.1 L192.7,449.3 L193.6,449.3 L193.6,449.2 L195.1,449.2 L195.1,450.4 L196.0,450.4 L196.0,449.9 L196.7,449.9 L196.7,450.0 L197.6,450.0 L197.6,448.7 L198.8,448.7 L198.8,451.3 L200.4,451.3 L200.4,450.8 L201.9,450.8 L201.9,449.1 L202.9,449.1 L202.9,450.6 L203.8,450.6 L203.8,450.1 L204.6,450.1 L204.6,450.7 L205.3,450.7 L205.3,448.9 L206.2,448.9 L206.2,449.9 L207.8,449.9 L207.8,449.2 L208.9,449.2 L208.9,448.8 L210.0,448.8 L210.0,447.4 L211.1,447.4 L211.1,448.5 L212.1,448.5 L212.1,450.0 L213.9,450.0 L213.9,450.0 L215.8,450.0 L215.8,450.3 L217.6,450.3 L217.6,450.0 L219.2,450.0 L219.2,449.4 L220.6,449.4 L220.6,449.4 L222.0,449.4 L222.0,449.6 L223.2,449.6 L223.2,450.6 L224.8,450.6 L224.8,449.2 L226.1,449.2 L226.1,450.4 L227.7,450.4 L227.7,449.8 L229.3,449.8 L229.3,450.3 L230.7,450.3 L230.7,449.7 L232.0,449.7 L232.0,450.2 L233.6,450.2 L233.6,449.9 L235.2,449.9 L235.2,449.9 L236.7,449.9 L236.7,450.5 L237.6,450.5 L237.6,449.4 L238.6,449.4 L238.6,449.9 L240.0,449.9 L240.0,452.0 L238.6,452.0 L238.6,454.4 L237.6,454.4 L237.6,453.0 L236.7,453.0 L236.7,453.3 L235.2,453.3 L235.2,453.5 L233.6,453.5 L233.6,452.3 L232.0,452.3 L232.0,453.2 L230.7,453.2 L230.7,453.5 L229.3,453.5 L229.3,451.6 L227.7,451.6 L227.7,452.2 L226.1,452.2 L226.1,452.2 L224.8,452.2 L224.8,452.9 L223.2,452.9 L223.2,452.7 L222.0,452.7 L222.0,453.5 L220.6,453.5 L220.6,453.4 L219.2,453.4 L219.2,452.8 L217.6,452.8 L217.6,454.1 L215.8,454.1 L215.8,452.3 L213.9,452.3 L213.9,453.7 L212.1,453.7 L212.1,452.4 L211.1,452.4 L211.1,452.0 L210.0,452.0 L210.0,453.6 L208.9,453.6 L208.9,452.6 L207.8,452.6 L207.8,452.3 L206.2,452.3 L206.2,453.6 L205.3,453.6 L205.3,452.5 L204.6,452.5 L204.6,452.7 L203.8,452.7 L203.8,453.7 L202.9,453.7 L202.9,455.1 L201.9,455.1 L201.9,454.0 L200.4,454.0 L200.4,452.8 L198.8,452.8 L198.8,453.9 L197.6,453.9 L197.6,452.5 L196.7,452.5 L196.7,452.3 L196.0,452.3 L196.0,453.1 L195.1,453.1 L195.1,451.8 L193.6,451.8 L193.6,452.5 L192.7,452.5 L192.7,453.3 L191.8,453.3 L191.8,452.7 L190.1,452.7 L190.1,452.7 L188.7,452.7 L188.7,453.3 L187.6,453.3 L187.6,452.4 L185.8,452.4 L185.8,452.9 L184.6,452.9 L184.6,453.7 L182.9,453.7 L182.9,453.9 L181.7,453.9 L181.7,454.0 L180.4,454.0 L180.4,452.1 L178.9,452.1 L178.9,452.0 L177.6,452.0 L177.6,452.8 L176.4,452.8 L176.4,453.0 L175.6,453.0 L175.6,453.0 L173.7,453.0 L173.7,452.6 L173.0,452.6 L173.0,452.5 L171.4,452.5 L171.4,453.9 L169.9,453.9 L169.9,454.0 L169.1,454.0 L169.1,454.5 L167.6,454.5 L167.6,454.2 L166.2,454.2 L166.2,454.2 L164.7,454.2 L164.7,455.1 L163.1,455.1 L163.1,454.7 L162.4,454.7 L162.4,454.6 L160.5,454.6 L160.5,453.0 L158.7,453.0 L158.7,453.9 L157.0,453.9 L157.0,454.6 L155.4,454.6 L155.4,454.8 L154.3,454.8 L154.3,454.8 L153.5,454.8 L153.5,453.8 L152.2,453.8 L152.2,453.8 L150.8,453.8 L150.8,454.8 L149.3,454.8 L149.3,454.8 L147.9,454.8 L147.9,454.9 L146.1,454.9 L146.1,454.2 L145.3,454.2 L145.3,455.2 L144.2,455.2 L144.2,453.5 L142.7,453.5 L142.7,453.7 L141.5,453.7 Z" fill="#000" stroke="#000" stroke-width="1.0" stroke-linejoin="round"/>
<path d="M203.0,453.8 L204.3,453.8 L204.3,454.4 L205.3,454.4 L205.3,454.8 L206.1,454.8 L206.1,455.2 L207.6,455.2 L207.6,455.4 L209.3,455.4 L209.3,455.9 L210.6,455.9 L210.6,455.8 L212.1,455.8 L212.1,455.5 L213.0,455.5 L213.0,455.4 L214.4,455.4 L214.4,455.6 L215.3,455.6 L215.3,455.5 L216.6,455.5 L216.6,455.7 L217.7,455.7 L217.7,455.9 L219.6,455.9 L219.6,456.0 L220.9,456.0 L220.9,455.9 L221.8,455.9 L221.8,454.7 L222.8,454.7 L222.8,456.2 L224.2,456.2 L224.2,456.6 L225.9,456.6 L225.9,456.8 L227.0,456.8 L227.0,456.9 L228.8,456.9 L228.8,456.7 L229.8,456.7 L229.8,456.4 L231.6,456.4 L231.6,456.7 L233.2,456.7 L233.2,456.8 L235.0,456.8 L235.0,456.6 L236.8,456.6 L236.8,457.1 L237.7,457.1 L237.7,457.0 L239.3,457.0 L239.3,457.5 L240.0,457.5 L240.0,458.4 L239.3,458.4 L239.3,457.9 L237.7,457.9 L237.7,457.7 L236.8,457.7 L236.8,457.7 L235.0,457.7 L235.0,457.4 L233.2,457.4 L233.2,457.5 L231.6,457.5 L231.6,457.3 L229.8,457.3 L229.8,457.3 L228.8,457.3 L228.8,457.4 L227.0,457.4 L227.0,457.8 L225.9,457.8 L225.9,458.8 L224.2,458.8 L224.2,457.2 L222.8,457.2 L222.8,457.0 L221.8,457.0 L221.8,457.0 L220.9,457.0 L220.9,456.9 L219.6,456.9 L219.6,456.9 L217.7,456.9 L217.7,456.6 L216.6,456.6 L216.6,456.2 L215.3,456.2 L215.3,456.4 L214.4,456.4 L214.4,456.2 L213.0,456.2 L213.0,456.3 L212.1,456.3 L212.1,456.7 L210.6,456.7 L210.6,456.5 L209.3,456.5 L209.3,456.2 L207.6,456.2 L207.6,455.8 L206.1,455.8 L206.1,455.3 L205.3,455.3 L205.3,455.2 L204.3,455.2 L204.3,454.8 L203.0,454.8 Z" fill="#000" stroke="#000" stroke-width="0.7" stroke-linejoin="round"/>
<path d="M225.0,445.9 L226.2,445.9 L226.2,446.4 L228.0,446.4 L228.0,446.8 L229.0,446.8 L229.0,446.8 L229.8,446.8 L229.8,446.4 L230.9,446.4 L230.9,445.8 L232.0,445.8 L232.0,448.4 L230.9,448.4 L230.9,448.7 L229.8,448.7 L229.8,448.5 L229.0,448.5 L229.0,448.9 L228.0,448.9 L228.0,448.2 L226.2,448.2 L226.2,447.9 L225.0,447.9 Z" fill="#000" stroke="#000" stroke-width="0.8" stroke-linejoin="round"/>
<path d="M140.0,447.2 L141.5,447.2 L141.5,445.6 L142.5,445.6 L142.5,443.6 L143.7,443.6 L143.7,441.3 L145.1,441.3 L145.1,439.3 L146.1,439.3 L146.1,437.7 L147.0,437.7 L147.0,436.1 L148.2,436.1 L148.2,434.6 L149.5,434.6 L149.5,433.5 L150.8,433.5 L150.8,432.5 L152.2,432.5 L152.2,431.2 L153.8,431.2 L153.8,430.5 L154.6,430.5 L154.6,430.7 L156.0,430.7 L156.0,430.1 L157.6,430.1 L157.6,432.0 L158.8,432.0 L158.8,433.3 L160.0,433.3 L160.0,435.1 L160.8,435.1 L160.8,436.5 L162.1,436.5 L162.1,437.7 L164.0,437.7 L164.0,439.9 L165.1,439.9 L165.1,440.8 L166.3,440.8 L166.3,441.9 L168.1,441.9 L168.1,442.6 L169.5,442.6 L169.5,443.0 L170.7,443.0 L170.7,444.8 L172.2,444.8 L172.2,445.6 L172.9,445.6 L172.9,445.6 L173.8,445.6 L173.8,446.4 L175.5,446.4 L175.5,447.4 L176.4,447.4 L176.4,447.5 L177.2,447.5 L177.2,448.3 L179.0,448.3 L179.0,449.0 L180.0,449.0 L180.0,449.9 L179.0,449.9 L179.0,449.3 L177.2,449.3 L177.2,448.5 L176.4,448.5 L176.4,448.2 L175.5,448.2 L175.5,448.7 L173.8,448.7 L173.8,446.6 L172.9,446.6 L172.9,446.3 L172.2,446.3 L172.2,446.0 L170.7,446.0 L170.7,445.1 L169.5,445.1 L169.5,444.4 L168.1,444.4 L168.1,443.5 L166.3,443.5 L166.3,442.1 L165.1,442.1 L165.1,441.1 L164.0,441.1 L164.0,440.2 L162.1,440.2 L162.1,438.2 L160.8,438.2 L160.8,436.5 L160.0,436.5 L160.0,435.1 L158.8,435.1 L158.8,433.3 L157.6,433.3 L157.6,432.2 L156.0,432.2 L156.0,432.2 L154.6,432.2 L154.6,431.6 L153.8,431.6 L153.8,432.5 L152.2,432.5 L152.2,433.9 L150.8,433.9 L150.8,435.0 L149.5,435.0 L149.5,436.6 L148.2,436.6 L148.2,438.1 L147.0,438.1 L147.0,439.5 L146.1,439.5 L146.1,441.3 L145.1,441.3 L145.1,443.6 L143.7,443.6 L143.7,445.6 L142.5,445.6 L142.5,447.2 L141.5,447.2 L141.5,449.5 L140.0,449.5 Z" fill="#000" stroke="#000" stroke-width="0.7" stroke-linejoin="round"/>
<path d="M239.6,447.1 L239.8,447.1 L239.8,445.6 L240.1,445.6 L240.1,444.3 L240.4,444.3 L240.4,441.5 L240.6,441.5 L240.6,443.2 L241.4,443.2 L241.4,442.6 L242.2,442.6 L242.2,443.2 L243.8,443.2 L243.8,443.0 L244.9,443.0 L244.9,443.7 L246.2,443.7 L246.2,443.3 L248.0,443.3 L248.0,443.7 L249.7,443.7 L249.7,443.4 L251.4,443.4 L251.4,442.8 L252.8,442.8 L252.8,442.4 L254.6,442.4 L254.6,441.1 L255.3,441.1 L255.3,442.9 L257.1,442.9 L257.1,442.9 L258.2,442.9 L258.2,442.9 L259.2,442.9 L259.2,442.9 L260.6,442.9 L260.6,442.7 L262.4,442.7 L262.4,442.9 L263.5,442.9 L263.5,442.2 L265.3,442.2 L265.3,442.7 L266.6,442.7 L266.6,442.2 L268.4,442.2 L268.4,442.4 L270.0,442.4 L270.0,442.2 L271.7,442.2 L271.7,441.1 L272.8,441.1 L272.8,441.9 L274.2,441.9 L274.2,441.2 L275.2,441.2 L275.2,441.4 L276.9,441.4 L276.9,442.8 L277.9,442.8 L277.9,442.6 L279.4,442.6 L279.4,442.3 L280.2,442.3 L280.2,442.4 L281.2,442.4 L281.2,442.2 L282.3,442.2 L282.3,442.9 L283.2,442.9 L283.2,442.5 L284.2,442.5 L284.2,442.3 L285.2,442.3 L285.2,442.3 L285.9,442.3 L285.9,442.3 L287.0,442.3 L287.0,442.4 L288.3,442.4 L288.3,441.7 L289.5,441.7 L289.5,442.5 L291.3,442.5 L291.3,442.3 L292.1,442.3 L292.1,442.2 L293.5,442.2 L293.5,441.6 L294.6,441.6 L294.6,442.3 L295.4,442.3 L295.4,442.3 L297.0,442.3 L297.0,442.1 L298.2,442.1 L298.2,442.2 L300.1,442.2 L300.1,442.3 L301.7,442.3 L301.7,442.4 L303.4,442.4 L303.4,441.9 L304.8,441.9 L304.8,440.3 L305.9,440.3 L305.9,441.4 L307.7,441.4 L307.7,441.8 L308.9,441.8 L308.9,441.5 L310.6,441.5 L310.6,441.7 L312.4,441.7 L312.4,442.3 L313.5,442.3 L313.5,442.1 L315.1,442.1 L315.1,442.3 L316.8,442.3 L316.8,441.7 L318.7,441.7 L318.7,442.1 L319.9,442.1 L319.9,441.9 L320.9,441.9 L320.9,441.6 L321.9,441.6 L321.9,442.0 L323.0,442.0 L323.0,441.9 L323.8,441.9 L323.8,442.7 L325.3,442.7 L325.3,442.2 L326.1,442.2 L326.1,442.1 L327.4,442.1 L327.4,442.2 L329.3,442.2 L329.3,440.8 L330.4,440.8 L330.4,442.2 L331.4,442.2 L331.4,441.7 L332.6,441.7 L332.6,441.7 L333.6,441.7 L333.6,441.7 L334.5,441.7 L334.5,442.1 L335.6,442.1 L335.6,441.9 L336.6,441.9 L336.6,441.8 L337.9,441.8 L337.9,441.2 L338.9,441.2 L338.9,441.2 L340.4,441.2 L340.4,442.0 L342.1,442.0 L342.1,441.0 L342.8,441.0 L342.8,441.3 L344.1,441.3 L344.1,440.9 L345.5,440.9 L345.5,441.4 L346.8,441.4 L346.8,441.7 L348.3,441.7 L348.3,441.6 L349.2,441.6 L349.2,441.4 L351.1,441.4 L351.1,442.0 L353.0,442.0 L353.0,442.1 L354.7,442.1 L354.7,442.5 L356.1,442.5 L356.1,442.1 L357.8,442.1 L357.8,441.8 L359.3,441.8 L359.3,441.9 L361.0,441.9 L361.0,441.7 L362.3,441.7 L362.3,441.5 L363.3,441.5 L363.3,441.4 L364.7,441.4 L364.7,442.1 L365.0,442.1 L365.0,443.5 L364.7,443.5 L364.7,443.7 L363.3,443.7 L363.3,443.5 L362.3,443.5 L362.3,444.3 L361.0,444.3 L361.0,444.0 L359.3,444.0 L359.3,443.7 L357.8,443.7 L357.8,444.2 L356.1,444.2 L356.1,444.7 L354.7,444.7 L354.7,444.4 L353.0,444.4 L353.0,443.8 L351.1,443.8 L351.1,443.7 L349.2,443.7 L349.2,443.7 L348.3,443.7 L348.3,443.8 L346.8,443.8 L346.8,443.1 L345.5,443.1 L345.5,443.3 L344.1,443.3 L344.1,444.5 L342.8,444.5 L342.8,443.5 L342.1,443.5 L342.1,443.3 L340.4,443.3 L340.4,443.4 L338.9,443.4 L338.9,444.2 L337.9,444.2 L337.9,443.4 L336.6,443.4 L336.6,445.0 L335.6,445.0 L335.6,444.0 L334.5,444.0 L334.5,444.8 L333.6,444.8 L333.6,444.1 L332.6,444.1 L332.6,444.6 L331.4,444.6 L331.4,444.0 L330.4,444.0 L330.4,445.2 L329.3,445.2 L329.3,444.4 L327.4,444.4 L327.4,444.0 L326.1,444.0 L326.1,444.3 L325.3,444.3 L325.3,444.4 L323.8,444.4 L323.8,444.3 L323.0,444.3 L323.0,443.8 L321.9,443.8 L321.9,444.3 L320.9,444.3 L320.9,443.9 L319.9,443.9 L319.9,444.6 L318.7,444.6 L318.7,443.8 L316.8,443.8 L316.8,444.1 L315.1,444.1 L315.1,443.3 L313.5,443.3 L313.5,444.0 L312.4,444.0 L312.4,443.1 L310.6,443.1 L310.6,443.4 L308.9,443.4 L308.9,444.2 L307.7,444.2 L307.7,443.3 L305.9,443.3 L305.9,443.7 L304.8,443.7 L304.8,444.4 L303.4,444.4 L303.4,444.8 L301.7,444.8 L301.7,444.8 L300.1,444.8 L300.1,444.6 L298.2,444.6 L298.2,444.0 L297.0,444.0 L297.0,443.8 L295.4,443.8 L295.4,444.6 L294.6,444.6 L294.6,444.3 L293.5,444.3 L293.5,444.0 L292.1,444.0 L292.1,443.9 L291.3,443.9 L291.3,444.0 L289.5,444.0 L289.5,444.6 L288.3,444.6 L288.3,444.1 L287.0,444.1 L287.0,444.3 L285.9,444.3 L285.9,443.8 L285.2,443.8 L285.2,444.7 L284.2,444.7 L284.2,444.1 L283.2,444.1 L283.2,444.1 L282.3,444.1 L282.3,444.4 L281.2,444.4 L281.2,444.2 L280.2,444.2 L280.2,444.5 L279.4,444.5 L279.4,444.5 L277.9,444.5 L277.9,444.5 L276.9,444.5 L276.9,445.3 L275.2,445.3 L275.2,444.2 L274.2,444.2 L274.2,443.7 L272.8,443.7 L272.8,443.9 L271.7,443.9 L271.7,443.7 L270.0,443.7 L270.0,443.4 L268.4,443.4 L268.4,444.3 L266.6,444.3 L266.6,444.8 L265.3,444.8 L265.3,444.0 L263.5,444.0 L263.5,444.6 L262.4,444.6 L262.4,444.4 L260.6,444.4 L260.6,444.5 L259.2,444.5 L259.2,445.0 L258.2,445.0 L258.2,444.7 L257.1,444.7 L257.1,445.3 L255.3,445.3 L255.3,444.9 L254.6,444.9 L254.6,444.8 L252.8,444.8 L252.8,445.7 L251.4,445.7 L251.4,445.1 L249.7,445.1 L249.7,445.6 L248.0,445.6 L248.0,445.7 L246.2,445.7 L246.2,445.6 L244.9,445.6 L244.9,445.3 L243.8,445.3 L243.8,445.6 L242.2,445.6 L242.2,445.3 L241.4,445.3 L241.4,444.9 L240.6,444.9 L240.6,449.0 L240.4,449.0 L240.4,450.4 L240.1,450.4 L240.1,453.6 L239.8,453.6 L239.8,455.2 L239.6,455.2 Z" fill="#000" stroke="#000" stroke-width="1.0" stroke-linejoin="round"/>
<path d="M240.0,450.6 L240.5,451.2 L241.0,450.7 L241.5,450.0 L242.0,450.5 L242.5,451.4 L243.0,450.5 L243.5,451.1 L244.0,450.8 L244.5,449.6 L245.0,451.2 L245.5,451.1 L246.0,451.4 L246.5,449.9 L247.0,451.8 L247.5,451.6 L248.0,451.7 L248.5,451.8 L249.0,451.1 L249.5,450.6 L250.0,449.9 L250.5,451.1 L251.0,451.0 L251.5,451.0 L252.0,449.9 L252.5,451.4 L253.0,450.5 L253.5,450.1 L254.0,451.7 L254.5,451.4 L255.0,451.1 L255.5,451.6 L256.0,451.8 L256.5,451.6 L257.0,451.0 L257.5,450.9 L258.0,451.5 L258.5,450.3 L259.0,450.4 L259.5,450.3 L260.0,450.8 L260.5,451.3 L261.0,450.7 L261.5,451.4 L262.0,451.9 L262.5,449.9 L263.0,450.1 L263.5,451.6 L264.0,450.7 L264.5,451.5 L265.0,450.0 L265.5,450.2 L266.0,452.0 L266.5,450.8 L267.0,450.0 L267.5,451.7 L268.0,450.1 L268.5,449.7 L269.0,450.5 L269.5,450.5 L270.0,449.7 L270.5,450.9 L271.0,450.3 L271.5,451.5 L272.0,450.6 L272.5,451.3 L273.0,451.2 L273.5,451.3 L274.0,450.1 L274.5,451.9 L275.0,450.7 L275.5,451.3 L276.0,452.2 L276.5,451.7 L277.0,450.4 L277.5,452.8 L278.0,452.2 L278.5,451.3 L279.0,452.0 L279.5,450.5 L280.0,450.6 L280.5,450.9 L281.0,450.4 L281.5,450.4 L282.0,451.5 L282.5,450.8 L283.0,450.2 L283.5,451.2 L284.0,450.5 L284.5,450.7 L285.0,451.3 L285.5,451.1 L286.0,452.0 L286.5,450.2 L287.0,450.9 L287.5,451.4 L288.0,450.3 L288.5,450.4 L289.0,450.7 L289.5,451.5 L290.0,450.0 L290.5,450.9 L291.0,450.7 L291.5,451.2 L292.0,451.7 L292.5,449.0 L293.0,451.7 L293.5,452.1 L294.0,450.7 L294.5,451.7 L295.0,452.3 L295.5,451.1 L296.0,450.5 L296.5,452.6 L297.0,450.8 L297.5,450.6 L298.0,451.6 L298.5,451.0 L299.0,449.8 L299.5,449.8 L300.0,451.1 L300.5,450.8 L301.0,451.2 L301.5,450.4 L302.0,451.1 L302.5,451.6 L303.0,450.0 L303.5,450.3 L304.0,451.4 L304.5,451.0 L305.0,449.8 L305.5,450.8 L306.0,451.0 L306.5,450.5 L307.0,450.3 L307.5,449.1 L308.0,449.5 L308.5,451.9 L309.0,450.3 L309.5,450.1 L310.0,451.6 L310.5,449.4 L311.0,449.1 L311.5,450.0 L312.0,449.4 L312.5,449.7 L313.0,451.0 L313.5,449.7 L314.0,451.4 L314.5,450.4 L315.0,450.1 L315.5,450.4 L316.0,450.2 L316.5,450.7 L317.0,450.3 L317.5,451.4 L318.0,451.4 L318.5,450.7 L319.0,450.1 L319.5,451.0 L320.0,449.6 L320.5,451.7 L321.0,449.5 L321.5,449.4 L322.0,450.1 L322.5,449.9 L323.0,448.6 L323.5,450.1 L324.0,451.5 L324.5,450.6 L325.0,451.0 L325.5,449.7 L326.0,451.3 L326.5,450.0 L327.0,450.6 L327.5,449.9 L328.0,451.6 L328.5,449.9 L329.0,449.6 L329.5,450.6 L330.0,451.2 L330.5,450.2 L331.0,450.1 L331.5,448.4 L332.0,451.4 L332.5,450.1 L333.0,449.9 L333.5,449.5 L334.0,449.6 L334.5,451.9 L335.0,449.3 L335.5,449.3 L336.0,450.5 L336.5,450.6 L337.0,449.3 L337.5,450.7 L338.0,447.8 L338.5,450.0 L339.0,449.7 L339.5,450.1 L340.0,452.0 L340.5,449.5 L341.0,450.9 L341.5,451.2 L342.0,450.3 L342.5,450.4 L343.0,450.3 L343.5,451.1 L344.0,451.8 L344.5,450.9 L345.0,451.2 L345.5,451.9 L346.0,450.9 L346.5,451.6 L347.0,451.6 L347.5,450.5 L348.0,450.0 L348.5,450.5 L349.0,449.5 L349.5,449.5 L350.0,451.3 L350.5,449.8 L351.0,451.0 L351.5,450.1 L352.0,450.2 L352.5,452.1 L353.0,451.9 L353.5,451.4 L354.0,452.3 L354.5,451.4 L355.0,451.1 L355.5,451.3 L356.0,452.1 L356.5,451.1 L357.0,450.9 L357.5,450.9 L358.0,451.2 L358.5,452.0 L359.0,450.9 L359.5,451.2 L360.0,451.3 L360.5,451.8 L361.0,451.1 L361.5,450.5 L362.0,450.8 L362.5,450.3 L363.0,451.6 L363.5,451.1 L364.0,452.3 L364.5,451.3 L365.0,451.5 L365.5,450.2 L366.0,451.7" fill="none" stroke="#000" stroke-width="1.6" stroke-linejoin="round" stroke-linecap="butt" stroke-dasharray="2.5 1.3 4 1 1.5 1.2"/>
<path d="M240.0,456.9 L241.7,456.9 L241.7,456.4 L242.6,456.4 L242.6,456.5 L244.0,456.5 L244.0,456.3 L245.1,456.3 L245.1,456.5 L246.1,456.5 L246.1,456.2 L247.2,456.2 L247.2,456.4 L248.5,456.4 L248.5,456.2 L249.9,456.2 L249.9,456.2 L251.5,456.2 L251.5,456.1 L252.2,456.1 L252.2,455.8 L253.2,455.8 L253.2,455.7 L254.6,455.7 L254.6,455.1 L255.4,455.1 L255.4,455.0 L257.3,455.0 L257.3,455.4 L259.0,455.4 L259.0,456.0 L259.8,456.0 L259.8,456.1 L261.1,456.1 L261.1,456.3 L262.6,456.3 L262.6,456.2 L263.3,456.2 L263.3,456.4 L264.2,456.4 L264.2,455.8 L265.1,455.8 L265.1,456.0 L266.3,456.0 L266.3,455.8 L267.7,455.8 L267.7,456.0 L269.0,456.0 L269.0,455.8 L270.8,455.8 L270.8,455.3 L272.5,455.3 L272.5,455.5 L273.6,455.5 L273.6,455.8 L274.6,455.8 L274.6,456.0 L275.7,456.0 L275.7,456.0 L277.4,456.0 L277.4,456.1 L278.6,456.1 L278.6,456.1 L280.4,456.1 L280.4,456.3 L281.8,456.3 L281.8,456.2 L282.8,456.2 L282.8,456.2 L284.3,456.2 L284.3,456.4 L285.8,456.4 L285.8,456.2 L287.1,456.2 L287.1,456.5 L288.1,456.5 L288.1,455.9 L289.6,455.9 L289.6,455.9 L290.9,455.9 L290.9,455.0 L292.4,455.0 L292.4,456.0 L293.7,456.0 L293.7,455.8 L294.6,455.8 L294.6,455.8 L296.3,455.8 L296.3,455.8 L297.1,455.8 L297.1,456.4 L298.1,456.4 L298.1,456.3 L299.0,456.3 L299.0,455.9 L300.2,455.9 L300.2,456.0 L301.6,456.0 L301.6,455.8 L303.0,455.8 L303.0,456.1 L304.5,456.1 L304.5,455.0 L305.8,455.0 L305.8,456.0 L307.5,456.0 L307.5,456.6 L308.6,456.6 L308.6,456.6 L310.0,456.6 L310.0,456.4 L311.3,456.4 L311.3,456.0 L312.0,456.0 L312.0,456.4 L313.0,456.4 L313.0,456.0 L313.8,456.0 L313.8,455.9 L314.8,455.9 L314.8,455.6 L315.5,455.6 L315.5,455.8 L316.6,455.8 L316.6,455.7 L317.7,455.7 L317.7,455.5 L319.2,455.5 L319.2,455.5 L320.9,455.5 L320.9,455.9 L322.1,455.9 L322.1,456.1 L323.6,456.1 L323.6,456.0 L324.9,456.0 L324.9,456.3 L325.9,456.3 L325.9,455.9 L326.8,455.9 L326.8,456.3 L328.0,456.3 L328.0,455.0 L329.7,455.0 L329.7,455.9 L331.1,455.9 L331.1,456.3 L332.6,456.3 L332.6,456.1 L334.2,456.1 L334.2,456.1 L335.7,456.1 L335.7,455.6 L336.7,455.6 L336.7,455.8 L337.9,455.8 L337.9,455.6 L339.2,455.6 L339.2,455.6 L339.9,455.6 L339.9,456.1 L341.0,456.1 L341.0,456.1 L342.1,456.1 L342.1,456.5 L342.8,456.5 L342.8,456.5 L344.2,456.5 L344.2,456.4 L345.5,456.4 L345.5,456.1 L346.4,456.1 L346.4,456.1 L347.4,456.1 L347.4,456.0 L349.1,456.0 L349.1,456.2 L350.4,456.2 L350.4,456.2 L351.4,456.2 L351.4,456.4 L353.1,456.4 L353.1,456.7 L354.4,456.7 L354.4,456.6 L355.8,456.6 L355.8,456.2 L357.6,456.2 L357.6,456.0 L358.9,456.0 L358.9,455.8 L359.8,455.8 L359.8,455.9 L361.4,455.9 L361.4,456.1 L363.2,456.1 L363.2,456.2 L364.4,456.2 L364.4,456.2 L365.8,456.2 L365.8,456.8 L364.4,456.8 L364.4,456.7 L363.2,456.7 L363.2,456.6 L361.4,456.6 L361.4,456.9 L359.8,456.9 L359.8,456.8 L358.9,456.8 L358.9,456.9 L357.6,456.9 L357.6,456.9 L355.8,456.9 L355.8,457.4 L354.4,457.4 L354.4,457.5 L353.1,457.5 L353.1,457.4 L351.4,457.4 L351.4,457.1 L350.4,457.1 L350.4,456.9 L349.1,456.9 L349.1,456.6 L347.4,456.6 L347.4,456.9 L346.4,456.9 L346.4,457.1 L345.5,457.1 L345.5,457.3 L344.2,457.3 L344.2,457.7 L342.8,457.7 L342.8,457.1 L342.1,457.1 L342.1,456.9 L341.0,456.9 L341.0,457.2 L339.9,457.2 L339.9,456.6 L339.2,456.6 L339.2,456.5 L337.9,456.5 L337.9,456.7 L336.7,456.7 L336.7,457.0 L335.7,457.0 L335.7,456.8 L334.2,456.8 L334.2,456.8 L332.6,456.8 L332.6,456.8 L331.1,456.8 L331.1,456.8 L329.7,456.8 L329.7,457.2 L328.0,457.2 L328.0,456.9 L326.8,456.9 L326.8,457.3 L325.9,457.3 L325.9,457.4 L324.9,457.4 L324.9,457.2 L323.6,457.2 L323.6,457.2 L322.1,457.2 L322.1,457.3 L320.9,457.3 L320.9,456.8 L319.2,456.8 L319.2,456.9 L317.7,456.9 L317.7,456.7 L316.6,456.7 L316.6,456.8 L315.5,456.8 L315.5,456.8 L314.8,456.8 L314.8,457.1 L313.8,457.1 L313.8,457.0 L313.0,457.0 L313.0,457.5 L312.0,457.5 L312.0,457.4 L311.3,457.4 L311.3,457.7 L310.0,457.7 L310.0,457.4 L308.6,457.4 L308.6,457.4 L307.5,457.4 L307.5,457.1 L305.8,457.1 L305.8,456.9 L304.5,456.9 L304.5,457.0 L303.0,457.0 L303.0,456.8 L301.6,456.8 L301.6,458.7 L300.2,458.7 L300.2,457.2 L299.0,457.2 L299.0,457.3 L298.1,457.3 L298.1,457.0 L297.1,457.0 L297.1,457.0 L296.3,457.0 L296.3,456.9 L294.6,456.9 L294.6,457.2 L293.7,457.2 L293.7,456.7 L292.4,456.7 L292.4,457.0 L290.9,457.0 L290.9,457.2 L289.6,457.2 L289.6,458.5 L288.1,458.5 L288.1,457.5 L287.1,457.5 L287.1,457.1 L285.8,457.1 L285.8,457.1 L284.3,457.1 L284.3,457.4 L282.8,457.4 L282.8,457.3 L281.8,457.3 L281.8,457.0 L280.4,457.0 L280.4,457.5 L278.6,457.5 L278.6,457.1 L277.4,457.1 L277.4,457.5 L275.7,457.5 L275.7,457.0 L274.6,457.0 L274.6,457.1 L273.6,457.1 L273.6,456.7 L272.5,456.7 L272.5,456.6 L270.8,456.6 L270.8,458.1 L269.0,458.1 L269.0,456.7 L267.7,456.7 L267.7,457.0 L266.3,457.0 L266.3,457.0 L265.1,457.0 L265.1,457.0 L264.2,457.0 L264.2,457.0 L263.3,457.0 L263.3,457.3 L262.6,457.3 L262.6,457.4 L261.1,457.4 L261.1,457.3 L259.8,457.3 L259.8,456.7 L259.0,456.7 L259.0,456.9 L257.3,456.9 L257.3,456.3 L255.4,456.3 L255.4,456.4 L254.6,456.4 L254.6,456.4 L253.2,456.4 L253.2,456.4 L252.2,456.4 L252.2,457.0 L251.5,457.0 L251.5,457.3 L249.9,457.3 L249.9,457.1 L248.5,457.1 L248.5,457.1 L247.2,457.1 L247.2,457.5 L246.1,457.5 L246.1,457.6 L245.1,457.6 L245.1,457.4 L244.0,457.4 L244.0,457.4 L242.6,457.4 L242.6,457.5 L241.7,457.5 L241.7,457.5 L240.0,457.5 Z" fill="#000" stroke="#000" stroke-width="0.7" stroke-linejoin="round"/>
<path d="M300.0,451.7 L301.0,451.7 L301.0,452.5 L302.3,452.5 L302.3,453.0 L303.1,453.0 L303.1,453.0 L304.5,453.0 L304.5,452.8 L305.7,452.8 L305.7,453.4 L306.4,453.4 L306.4,453.1 L307.3,453.1 L307.3,453.2 L309.1,453.2 L309.1,453.6 L310.7,453.6 L310.7,453.2 L311.9,453.2 L311.9,453.0 L313.4,453.0 L313.4,452.1 L314.4,452.1 L314.4,452.6 L315.5,452.6 L315.5,451.5 L316.3,451.5 L316.3,452.1 L317.0,452.1 L317.0,452.3 L318.7,452.3 L318.7,451.0 L320.4,451.0 L320.4,452.0 L321.1,452.0 L321.1,452.7 L322.2,452.7 L322.2,452.3 L323.0,452.3 L323.0,452.3 L324.2,452.3 L324.2,452.4 L325.7,452.4 L325.7,452.6 L327.0,452.6 L327.0,452.4 L327.9,452.4 L327.9,453.4 L329.4,453.4 L329.4,453.3 L330.9,453.3 L330.9,453.2 L332.1,453.2 L332.1,453.9 L333.2,453.9 L333.2,453.7 L335.0,453.7 L335.0,453.7 L335.8,453.7 L335.8,453.5 L336.7,453.5 L336.7,453.2 L337.8,453.2 L337.8,453.3 L338.8,453.3 L338.8,452.5 L340.3,452.5 L340.3,453.5 L341.8,453.5 L341.8,453.0 L343.4,453.0 L343.4,452.9 L345.0,452.9 L345.0,452.8 L345.9,452.8 L345.9,453.3 L347.5,453.3 L347.5,452.4 L348.5,452.4 L348.5,452.9 L349.8,452.9 L349.8,452.7 L350.8,452.7 L350.8,453.3 L352.5,453.3 L352.5,452.8 L353.3,452.8 L353.3,452.8 L354.5,452.8 L354.5,451.7 L356.0,451.7 L356.0,452.4 L357.5,452.4 L357.5,452.5 L358.3,452.5 L358.3,451.5 L360.2,451.5 L360.2,452.4 L361.3,452.4 L361.3,452.2 L362.5,452.2 L362.5,451.6 L363.6,451.6 L363.6,453.0 L364.3,453.0 L364.3,452.5 L365.3,452.5 L365.3,452.7 L366.0,452.7 L366.0,454.8 L365.3,454.8 L365.3,454.8 L364.3,454.8 L364.3,454.1 L363.6,454.1 L363.6,454.5 L362.5,454.5 L362.5,453.9 L361.3,453.9 L361.3,454.4 L360.2,454.4 L360.2,453.3 L358.3,453.3 L358.3,453.6 L357.5,453.6 L357.5,454.0 L356.0,454.0 L356.0,454.3 L354.5,454.3 L354.5,453.6 L353.3,453.6 L353.3,454.8 L352.5,454.8 L352.5,453.9 L350.8,453.9 L350.8,454.0 L349.8,454.0 L349.8,454.8 L348.5,454.8 L348.5,454.0 L347.5,454.0 L347.5,455.0 L345.9,455.0 L345.9,455.4 L345.0,455.4 L345.0,454.6 L343.4,454.6 L343.4,455.8 L341.8,455.8 L341.8,454.7 L340.3,454.7 L340.3,454.1 L338.8,454.1 L338.8,454.8 L337.8,454.8 L337.8,454.2 L336.7,454.2 L336.7,454.8 L335.8,454.8 L335.8,455.3 L335.0,455.3 L335.0,454.3 L333.2,454.3 L333.2,455.5 L332.1,455.5 L332.1,455.2 L330.9,455.2 L330.9,454.7 L329.4,454.7 L329.4,455.6 L327.9,455.6 L327.9,453.7 L327.0,453.7 L327.0,453.7 L325.7,453.7 L325.7,453.7 L324.2,453.7 L324.2,453.7 L323.0,453.7 L323.0,453.7 L322.2,453.7 L322.2,453.7 L321.1,453.7 L321.1,453.6 L320.4,453.6 L320.4,454.1 L318.7,454.1 L318.7,454.1 L317.0,454.1 L317.0,454.2 L316.3,454.2 L316.3,453.9 L315.5,453.9 L315.5,454.4 L314.4,454.4 L314.4,453.7 L313.4,453.7 L313.4,455.9 L311.9,455.9 L311.9,454.5 L310.7,454.5 L310.7,455.2 L309.1,455.2 L309.1,454.4 L307.3,454.4 L307.3,454.7 L306.4,454.7 L306.4,454.3 L305.7,454.3 L305.7,454.2 L304.5,454.2 L304.5,454.5 L303.1,454.5 L303.1,455.4 L302.3,455.4 L302.3,455.9 L301.0,455.9 L301.0,453.5 L300.0,453.5 Z" fill="#000" stroke="#000" stroke-width="0.6" stroke-linejoin="round"/>
<line x1="84.9" y1="454.6" x2="84.9" y2="465.4" stroke="#000" stroke-width="1.2"/>
<line x1="124.8" y1="454.6" x2="124.8" y2="467.2" stroke="#000" stroke-width="2.2"/>
<line x1="141.5" y1="454.6" x2="141.5" y2="467.7" stroke="#000" stroke-width="3.4"/>
<line x1="162.3" y1="454.6" x2="162.3" y2="463" stroke="#000" stroke-width="1.6"/>
<line x1="239.8" y1="456" x2="239.8" y2="459.5" stroke="#000" stroke-width="1.2"/>
<line x1="271" y1="456" x2="271" y2="459.5" stroke="#000" stroke-width="1.2"/>
<line x1="69.0" y1="480.1" x2="107.9" y2="480.1" stroke="#000" stroke-width="2.4"/>
<text x="67.57" y="502.7" font-size="18.2" textLength="41.71" lengthAdjust="spacingAndGlyphs">1 min</text>
<text x="396.33" y="306.0" font-size="17.3" textLength="26.84" lengthAdjust="spacingAndGlyphs">Thr</text>
<text x="395.91" y="439.6" font-size="17.3" textLength="90.72" lengthAdjust="spacingAndGlyphs">hirudin; Thr</text>
<text x="395.54" y="457.3" font-size="17.3" textLength="83.83" lengthAdjust="spacingAndGlyphs">Ro-46; Thr</text>
<text x="395.25" y="475.3" font-size="17.3" textLength="80.38" lengthAdjust="spacingAndGlyphs">2/389; Thr</text>
<text x="4.41" y="537.8" font-size="24.5" textLength="18.14" lengthAdjust="spacingAndGlyphs">C</text>
<line x1="55.7" y1="566.1" x2="55.7" y2="715.8" stroke="#000" stroke-width="2.0"/>
<line x1="50.7" y1="566.9" x2="56.2" y2="566.9" stroke="#000" stroke-width="1.6"/>
<line x1="50.7" y1="603.925" x2="56.2" y2="603.925" stroke="#000" stroke-width="1.6"/>
<line x1="50.7" y1="640.95" x2="56.2" y2="640.95" stroke="#000" stroke-width="1.6"/>
<line x1="50.7" y1="677.975" x2="56.2" y2="677.975" stroke="#000" stroke-width="1.6"/>
<line x1="50.7" y1="715.0" x2="56.2" y2="715.0" stroke="#000" stroke-width="1.6"/>
<text x="27.95" y="574.5" font-size="17.5" textLength="18.80" lengthAdjust="spacingAndGlyphs">80</text>
<text x="28.03" y="648.85" font-size="17.5" textLength="18.72" lengthAdjust="spacingAndGlyphs">40</text>
<text x="41.24" y="722.5" font-size="17.5" textLength="9.52" lengthAdjust="spacingAndGlyphs">0</text>
<text transform="translate(16.5,643.9) rotate(-90)" font-size="18.6" text-anchor="middle">% light transmission</text>
<path d="M74.5,712.9 L75.4,712.9 L75.4,713.1 L76.1,713.1 L76.1,713.5 L77.1,713.5 L77.1,713.0 L78.2,713.0 L78.2,713.2 L78.9,713.2 L78.9,713.5 L79.8,713.5 L79.8,713.6 L81.7,713.6 L81.7,713.3 L83.4,713.3 L83.4,713.9 L84.2,713.9 L84.2,714.1 L85.2,714.1 L85.2,713.3 L86.8,713.3 L86.8,713.8 L88.6,713.8 L88.6,713.5 L89.7,713.5 L89.7,713.5 L91.4,713.5 L91.4,713.0 L92.2,713.0 L92.2,713.6 L93.6,713.6 L93.6,713.4 L95.0,713.4 L95.0,713.1 L96.7,713.1 L96.7,713.5 L97.7,713.5 L97.7,713.7 L98.9,713.7 L98.9,713.7 L100.0,713.7 L100.0,714.2 L100.9,714.2 L100.9,714.3 L102.4,714.3 L102.4,713.8 L103.8,713.8 L103.8,714.0 L105.1,714.0 L105.1,713.7 L106.5,713.7 L106.5,713.4 L108.0,713.4 L108.0,714.2 L108.8,714.2 L108.8,713.9 L109.8,713.9 L109.8,713.7 L111.0,713.7 L111.0,713.8 L111.9,713.8 L111.9,714.0 L113.5,714.0 L113.5,713.6 L115.0,713.6 L115.0,713.5 L116.6,713.5 L116.6,713.3 L117.3,713.3 L117.3,713.1 L118.2,713.1 L118.2,713.9 L119.2,713.9 L119.2,714.2 L120.5,714.2 L120.5,714.3 L121.3,714.3 L121.3,714.1 L123.1,714.1 L123.1,714.0 L123.8,714.0 L123.8,713.0 L125.3,713.0 L125.3,712.9 L126.9,712.9 L126.9,712.6 L128.3,712.6 L128.3,713.5 L129.5,713.5 L129.5,712.7 L131.2,712.7 L131.2,713.4 L132.3,713.4 L132.3,712.8 L133.2,712.8 L133.2,713.2 L134.5,713.2 L134.5,713.8 L135.4,713.8 L135.4,713.8 L136.2,713.8 L136.2,713.7 L138.0,713.7 L138.0,713.5 L139.3,713.5 L139.3,713.2 L140.3,713.2 L140.3,713.7 L141.8,713.7 L141.8,713.5 L143.6,713.5 L143.6,713.0 L144.4,713.0 L144.4,713.6 L145.6,713.6 L145.6,712.8 L146.7,712.8 L146.7,713.4 L148.0,713.4 L148.0,715.0 L146.7,715.0 L146.7,714.5 L145.6,714.5 L145.6,715.1 L144.4,715.1 L144.4,714.7 L143.6,714.7 L143.6,715.3 L141.8,715.3 L141.8,715.3 L140.3,715.3 L140.3,715.0 L139.3,715.0 L139.3,715.2 L138.0,715.2 L138.0,715.4 L136.2,715.4 L136.2,716.2 L135.4,716.2 L135.4,715.4 L134.5,715.4 L134.5,715.2 L133.2,715.2 L133.2,714.9 L132.3,714.9 L132.3,715.0 L131.2,715.0 L131.2,714.9 L129.5,714.9 L129.5,714.6 L128.3,714.6 L128.3,714.6 L126.9,714.6 L126.9,714.5 L125.3,714.5 L125.3,714.9 L123.8,714.9 L123.8,714.8 L123.1,714.8 L123.1,715.6 L121.3,715.6 L121.3,715.5 L120.5,715.5 L120.5,715.9 L119.2,715.9 L119.2,715.3 L118.2,715.3 L118.2,715.7 L117.3,715.7 L117.3,715.6 L116.6,715.6 L116.6,715.3 L115.0,715.3 L115.0,715.3 L113.5,715.3 L113.5,715.4 L111.9,715.4 L111.9,715.4 L111.0,715.4 L111.0,715.1 L109.8,715.1 L109.8,714.9 L108.8,714.9 L108.8,714.9 L108.0,714.9 L108.0,715.0 L106.5,715.0 L106.5,715.3 L105.1,715.3 L105.1,715.2 L103.8,715.2 L103.8,715.5 L102.4,715.5 L102.4,715.4 L100.9,715.4 L100.9,716.5 L100.0,716.5 L100.0,715.5 L98.9,715.5 L98.9,715.3 L97.7,715.3 L97.7,714.5 L96.7,714.5 L96.7,714.6 L95.0,714.6 L95.0,714.0 L93.6,714.0 L93.6,714.8 L92.2,714.8 L92.2,714.6 L91.4,714.6 L91.4,714.4 L89.7,714.4 L89.7,714.7 L88.6,714.7 L88.6,714.9 L86.8,714.9 L86.8,714.7 L85.2,714.7 L85.2,714.6 L84.2,714.6 L84.2,715.6 L83.4,715.6 L83.4,715.0 L81.7,715.0 L81.7,714.3 L79.8,714.3 L79.8,714.8 L78.9,714.8 L78.9,714.3 L78.2,714.3 L78.2,714.3 L77.1,714.3 L77.1,714.1 L76.1,714.1 L76.1,714.4 L75.4,714.4 L75.4,714.3 L74.5,714.3 Z" fill="#000" stroke="#000" stroke-width="0.9" stroke-linejoin="round"/>
<path d="M84.5,711.8 L85.9,711.8 L85.9,710.2 L87.1,710.2 L87.1,708.0 L88.5,708.0 L88.5,705.4 L89.3,705.4 L89.3,705.2 L90.6,705.2 L90.6,703.1 L92.1,703.1 L92.1,701.2 L93.0,701.2 L93.0,699.9 L93.6,699.9 L93.6,698.1 L94.9,698.1 L94.9,696.2 L95.9,696.2 L95.9,695.0 L96.6,695.0 L96.6,693.3 L97.7,693.3 L97.7,691.4 L99.1,691.4 L99.1,690.3 L99.8,690.3 L99.8,688.4 L101.3,688.4 L101.3,686.7 L102.9,686.7 L102.9,686.1 L103.8,686.1 L103.8,685.1 L104.8,685.1 L104.8,684.4 L106.6,684.4 L106.6,683.6 L107.7,683.6 L107.7,683.3 L108.9,683.3 L108.9,683.0 L110.4,683.0 L110.4,682.7 L111.6,682.7 L111.6,681.4 L112.4,681.4 L112.4,682.5 L113.4,682.5 L113.4,682.4 L114.6,682.4 L114.6,682.4 L116.2,682.4 L116.2,682.2 L117.7,682.2 L117.7,682.8 L118.9,682.8 L118.9,682.8 L119.8,682.8 L119.8,682.6 L121.5,682.6 L121.5,682.7 L122.4,682.7 L122.4,682.2 L124.0,682.2 L124.0,682.5 L125.2,682.5 L125.2,682.2 L126.6,682.2 L126.6,682.8 L127.8,682.8 L127.8,682.5 L128.7,682.5 L128.7,683.1 L129.6,683.1 L129.6,682.6 L131.1,682.6 L131.1,683.0 L132.1,683.0 L132.1,683.0 L132.8,683.0 L132.8,683.0 L133.8,683.0 L133.8,682.3 L135.6,682.3 L135.6,681.7 L137.1,681.7 L137.1,681.3 L138.5,681.3 L138.5,681.3 L139.7,681.3 L139.7,680.8 L141.4,680.8 L141.4,680.4 L142.4,680.4 L142.4,680.3 L143.9,680.3 L143.9,679.5 L144.6,679.5 L144.6,679.5 L146.1,679.5 L146.1,679.1 L147.9,679.1 L147.9,679.1 L149.5,679.1 L149.5,678.6 L150.3,678.6 L150.3,678.5 L151.7,678.5 L151.7,678.1 L152.8,678.1 L152.8,677.4 L154.6,677.4 L154.6,677.4 L155.3,677.4 L155.3,677.0 L156.0,677.0 L156.0,677.1 L156.8,677.1 L156.8,676.6 L157.9,676.6 L157.9,676.8 L159.7,676.8 L159.7,676.1 L161.0,676.1 L161.0,676.5 L162.5,676.5 L162.5,676.4 L163.3,676.4 L163.3,676.1 L164.2,676.1 L164.2,676.2 L165.4,676.2 L165.4,676.1 L166.8,676.1 L166.8,675.8 L168.4,675.8 L168.4,675.3 L169.8,675.3 L169.8,674.1 L170.8,674.1 L170.8,674.7 L171.8,674.7 L171.8,674.7 L173.0,674.7 L173.0,674.7 L174.0,674.7 L174.0,674.5 L175.6,674.5 L175.6,674.5 L177.4,674.5 L177.4,674.1 L179.0,674.1 L179.0,673.7 L179.9,673.7 L179.9,673.4 L181.5,673.4 L181.5,673.7 L182.2,673.7 L182.2,673.3 L183.1,673.3 L183.1,672.7 L184.6,672.7 L184.6,672.2 L185.7,672.2 L185.7,672.4 L187.4,672.4 L187.4,671.0 L188.9,671.0 L188.9,671.5 L190.4,671.5 L190.4,671.8 L191.8,671.8 L191.8,671.0 L193.6,671.0 L193.6,671.1 L195.3,671.1 L195.3,670.7 L196.1,670.7 L196.1,669.4 L197.9,669.4 L197.9,670.2 L199.2,670.2 L199.2,669.5 L200.2,669.5 L200.2,669.6 L202.0,669.6 L202.0,668.7 L203.8,668.7 L203.8,668.7 L205.4,668.7 L205.4,668.2 L206.9,668.2 L206.9,667.7 L207.7,667.7 L207.7,668.0 L208.7,668.0 L208.7,667.6 L210.4,667.6 L210.4,665.6 L212.3,665.6 L212.3,667.2 L213.3,667.2 L213.3,666.8 L214.9,666.8 L214.9,666.4 L215.7,666.4 L215.7,665.4 L217.3,665.4 L217.3,664.8 L218.5,664.8 L218.5,665.9 L219.3,665.9 L219.3,665.7 L220.2,665.7 L220.2,666.1 L221.6,666.1 L221.6,665.3 L222.8,665.3 L222.8,665.6 L224.4,665.6 L224.4,665.4 L225.5,665.4 L225.5,665.3 L226.9,665.3 L226.9,665.4 L228.0,665.4 L228.0,664.8 L229.7,664.8 L229.7,664.9 L230.4,664.9 L230.4,664.8 L231.8,664.8 L231.8,664.9 L233.2,664.9 L233.2,664.4 L233.9,664.4 L233.9,664.3 L235.6,664.3 L235.6,663.7 L237.0,663.7 L237.0,663.5 L238.9,663.5 L238.9,663.3 L239.8,663.3 L239.8,662.8 L241.0,662.8 L241.0,662.8 L242.7,662.8 L242.7,662.5 L244.6,662.5 L244.6,661.9 L246.1,661.9 L246.1,661.7 L247.2,661.7 L247.2,661.2 L248.8,661.2 L248.8,661.6 L250.1,661.6 L250.1,660.8 L251.4,660.8 L251.4,660.9 L252.9,660.9 L252.9,660.9 L254.7,660.9 L254.7,660.4 L255.4,660.4 L255.4,660.1 L257.0,660.1 L257.0,659.9 L258.8,659.9 L258.8,659.7 L259.9,659.7 L259.9,658.6 L260.9,658.6 L260.9,658.7 L262.3,658.7 L262.3,658.7 L263.0,658.7 L263.0,659.0 L264.7,659.0 L264.7,658.7 L266.0,658.7 L266.0,658.0 L267.5,658.0 L267.5,657.4 L269.1,657.4 L269.1,657.4 L269.8,657.4 L269.8,657.4 L270.8,657.4 L270.8,657.1 L272.0,657.1 L272.0,656.7 L273.4,656.7 L273.4,656.8 L274.5,656.8 L274.5,656.6 L275.6,656.6 L275.6,656.7 L276.3,656.7 L276.3,656.5 L277.5,656.5 L277.5,656.2 L279.3,656.2 L279.3,656.6 L280.1,656.6 L280.1,655.9 L281.5,655.9 L281.5,656.2 L282.4,656.2 L282.4,656.1 L284.3,656.1 L284.3,655.9 L286.0,655.9 L286.0,655.6 L286.9,655.6 L286.9,655.7 L288.8,655.7 L288.8,655.4 L289.9,655.4 L289.9,655.4 L291.4,655.4 L291.4,655.1 L292.4,655.1 L292.4,654.6 L293.5,654.6 L293.5,654.6 L294.2,654.6 L294.2,654.5 L295.3,654.5 L295.3,654.0 L296.5,654.0 L296.5,653.3 L297.2,653.3 L297.2,653.9 L297.9,653.9 L297.9,653.6 L298.6,653.6 L298.6,653.5 L300.4,653.5 L300.4,653.8 L301.6,653.8 L301.6,653.3 L303.4,653.3 L303.4,653.1 L304.7,653.1 L304.7,653.3 L306.0,653.3 L306.0,653.2 L307.2,653.2 L307.2,652.7 L308.8,652.7 L308.8,653.1 L309.9,653.1 L309.9,652.4 L311.6,652.4 L311.6,652.3 L312.8,652.3 L312.8,652.5 L313.6,652.5 L313.6,652.2 L314.8,652.2 L314.8,652.0 L315.6,652.0 L315.6,651.6 L316.7,651.6 L316.7,652.1 L317.9,652.1 L317.9,651.3 L319.4,651.3 L319.4,651.7 L321.3,651.7 L321.3,651.4 L322.2,651.4 L322.2,650.6 L323.7,650.6 L323.7,650.6 L325.4,650.6 L325.4,650.4 L326.9,650.4 L326.9,650.7 L327.9,650.7 L327.9,650.4 L329.1,650.4 L329.1,650.7 L330.8,650.7 L330.8,652.0 L329.1,652.0 L329.1,652.3 L327.9,652.3 L327.9,652.0 L326.9,652.0 L326.9,652.0 L325.4,652.0 L325.4,653.3 L323.7,653.3 L323.7,652.2 L322.2,652.2 L322.2,652.6 L321.3,652.6 L321.3,652.7 L319.4,652.7 L319.4,653.0 L317.9,653.0 L317.9,652.8 L316.7,652.8 L316.7,653.4 L315.6,653.4 L315.6,653.4 L314.8,653.4 L314.8,653.4 L313.6,653.4 L313.6,653.8 L312.8,653.8 L312.8,655.3 L311.6,655.3 L311.6,654.2 L309.9,654.2 L309.9,654.1 L308.8,654.1 L308.8,654.4 L307.2,654.4 L307.2,654.2 L306.0,654.2 L306.0,654.5 L304.7,654.5 L304.7,654.4 L303.4,654.4 L303.4,654.4 L301.6,654.4 L301.6,654.9 L300.4,654.9 L300.4,654.8 L298.6,654.8 L298.6,655.5 L297.9,655.5 L297.9,655.5 L297.2,655.5 L297.2,656.4 L296.5,656.4 L296.5,655.3 L295.3,655.3 L295.3,655.5 L294.2,655.5 L294.2,655.5 L293.5,655.5 L293.5,656.6 L292.4,656.6 L292.4,655.8 L291.4,655.8 L291.4,656.6 L289.9,656.6 L289.9,656.8 L288.8,656.8 L288.8,656.9 L286.9,656.9 L286.9,657.3 L286.0,657.3 L286.0,657.1 L284.3,657.1 L284.3,657.3 L282.4,657.3 L282.4,657.8 L281.5,657.8 L281.5,657.8 L280.1,657.8 L280.1,658.0 L279.3,658.0 L279.3,657.7 L277.5,657.7 L277.5,657.8 L276.3,657.8 L276.3,658.9 L275.6,658.9 L275.6,658.3 L274.5,658.3 L274.5,658.2 L273.4,658.2 L273.4,659.6 L272.0,659.6 L272.0,659.0 L270.8,659.0 L270.8,658.9 L269.8,658.9 L269.8,658.6 L269.1,658.6 L269.1,659.4 L267.5,659.4 L267.5,659.7 L266.0,659.7 L266.0,659.6 L264.7,659.6 L264.7,661.0 L263.0,661.0 L263.0,660.1 L262.3,660.1 L262.3,660.3 L260.9,660.3 L260.9,660.4 L259.9,660.4 L259.9,661.0 L258.8,661.0 L258.8,661.1 L257.0,661.1 L257.0,661.7 L255.4,661.7 L255.4,661.8 L254.7,661.8 L254.7,661.9 L252.9,661.9 L252.9,662.1 L251.4,662.1 L251.4,662.7 L250.1,662.7 L250.1,662.8 L248.8,662.8 L248.8,663.7 L247.2,663.7 L247.2,663.2 L246.1,663.2 L246.1,663.8 L244.6,663.8 L244.6,663.5 L242.7,663.5 L242.7,664.0 L241.0,664.0 L241.0,664.5 L239.8,664.5 L239.8,664.6 L238.9,664.6 L238.9,664.8 L237.0,664.8 L237.0,665.6 L235.6,665.6 L235.6,665.5 L233.9,665.5 L233.9,665.7 L233.2,665.7 L233.2,666.2 L231.8,666.2 L231.8,666.0 L230.4,666.0 L230.4,666.5 L229.7,666.5 L229.7,666.6 L228.0,666.6 L228.0,666.1 L226.9,666.1 L226.9,666.3 L225.5,666.3 L225.5,666.8 L224.4,666.8 L224.4,667.9 L222.8,667.9 L222.8,666.6 L221.6,666.6 L221.6,667.2 L220.2,667.2 L220.2,667.1 L219.3,667.1 L219.3,667.3 L218.5,667.3 L218.5,667.5 L217.3,667.5 L217.3,667.6 L215.7,667.6 L215.7,668.2 L214.9,668.2 L214.9,668.3 L213.3,668.3 L213.3,668.2 L212.3,668.2 L212.3,668.7 L210.4,668.7 L210.4,668.8 L208.7,668.8 L208.7,668.7 L207.7,668.7 L207.7,669.2 L206.9,669.2 L206.9,670.4 L205.4,670.4 L205.4,669.8 L203.8,669.8 L203.8,670.3 L202.0,670.3 L202.0,670.2 L200.2,670.2 L200.2,671.1 L199.2,671.1 L199.2,672.2 L197.9,672.2 L197.9,671.3 L196.1,671.3 L196.1,671.4 L195.3,671.4 L195.3,671.8 L193.6,671.8 L193.6,672.5 L191.8,672.5 L191.8,672.7 L190.4,672.7 L190.4,672.7 L188.9,672.7 L188.9,672.9 L187.4,672.9 L187.4,673.7 L185.7,673.7 L185.7,674.1 L184.6,674.1 L184.6,673.8 L183.1,673.8 L183.1,674.3 L182.2,674.3 L182.2,674.8 L181.5,674.8 L181.5,674.9 L179.9,674.9 L179.9,676.7 L179.0,676.7 L179.0,675.5 L177.4,675.5 L177.4,675.5 L175.6,675.5 L175.6,677.1 L174.0,677.1 L174.0,675.8 L173.0,675.8 L173.0,676.2 L171.8,676.2 L171.8,676.5 L170.8,676.5 L170.8,676.0 L169.8,676.0 L169.8,676.8 L168.4,676.8 L168.4,677.0 L166.8,677.0 L166.8,676.7 L165.4,676.7 L165.4,677.0 L164.2,677.0 L164.2,677.5 L163.3,677.5 L163.3,677.3 L162.5,677.3 L162.5,677.4 L161.0,677.4 L161.0,677.3 L159.7,677.3 L159.7,678.0 L157.9,678.0 L157.9,678.0 L156.8,678.0 L156.8,678.5 L156.0,678.5 L156.0,678.3 L155.3,678.3 L155.3,678.5 L154.6,678.5 L154.6,679.0 L152.8,679.0 L152.8,679.3 L151.7,679.3 L151.7,679.4 L150.3,679.4 L150.3,680.2 L149.5,680.2 L149.5,680.4 L147.9,680.4 L147.9,680.3 L146.1,680.3 L146.1,680.7 L144.6,680.7 L144.6,681.1 L143.9,681.1 L143.9,681.1 L142.4,681.1 L142.4,681.6 L141.4,681.6 L141.4,681.7 L139.7,681.7 L139.7,681.9 L138.5,681.9 L138.5,682.4 L137.1,682.4 L137.1,682.9 L135.6,682.9 L135.6,683.6 L133.8,683.6 L133.8,683.7 L132.8,683.7 L132.8,684.0 L132.1,684.0 L132.1,683.9 L131.1,683.9 L131.1,683.8 L129.6,683.8 L129.6,683.8 L128.7,683.8 L128.7,683.8 L127.8,683.8 L127.8,684.0 L126.6,684.0 L126.6,684.1 L125.2,684.1 L125.2,683.5 L124.0,683.5 L124.0,683.9 L122.4,683.9 L122.4,683.6 L121.5,683.6 L121.5,683.7 L119.8,683.7 L119.8,685.1 L118.9,685.1 L118.9,683.6 L117.7,683.6 L117.7,683.8 L116.2,683.8 L116.2,683.7 L114.6,683.7 L114.6,684.1 L113.4,684.1 L113.4,684.5 L112.4,684.5 L112.4,684.1 L111.6,684.1 L111.6,684.3 L110.4,684.3 L110.4,684.8 L108.9,684.8 L108.9,685.2 L107.7,685.2 L107.7,685.3 L106.6,685.3 L106.6,686.4 L104.8,686.4 L104.8,687.1 L103.8,687.1 L103.8,687.9 L102.9,687.9 L102.9,688.9 L101.3,688.9 L101.3,690.6 L99.8,690.6 L99.8,692.1 L99.1,692.1 L99.1,693.8 L97.7,693.8 L97.7,696.9 L96.6,696.9 L96.6,697.2 L95.9,697.2 L95.9,698.5 L94.9,698.5 L94.9,700.5 L93.6,700.5 L93.6,702.2 L93.0,702.2 L93.0,703.6 L92.1,703.6 L92.1,705.7 L90.6,705.7 L90.6,707.7 L89.3,707.7 L89.3,708.8 L88.5,708.8 L88.5,710.4 L87.1,710.4 L87.1,712.1 L85.9,712.1 L85.9,714.1 L84.5,714.1 Z" fill="#000" stroke="#000" stroke-width="0.9" stroke-linejoin="round"/>
<path d="M113.0,712.9 L113.7,712.9 L113.7,711.1 L114.3,711.1 L114.3,710.8 L114.8,710.8 L114.8,709.7 L115.6,709.7 L115.6,707.8 L116.2,707.8 L116.2,706.7 L117.2,706.7 L117.2,705.1 L118.0,705.1 L118.0,703.1 L118.9,703.1 L118.9,702.1 L119.3,702.1 L119.3,700.9 L120.1,700.9 L120.1,700.1 L120.9,700.1 L120.9,698.8 L121.3,698.8 L121.3,697.9 L122.1,697.9 L122.1,697.6 L122.8,697.6 L122.8,696.6 L123.6,696.6 L123.6,696.0 L124.8,696.0 L124.8,695.2 L125.7,695.2 L125.7,694.4 L126.4,694.4 L126.4,692.7 L127.3,692.7 L127.3,692.1 L128.6,692.1 L128.6,691.5 L129.6,691.5 L129.6,687.9 L130.3,687.9 L130.3,690.7 L131.0,690.7 L131.0,690.0 L132.0,690.0 L132.0,689.0 L133.1,689.0 L133.1,688.8 L134.0,688.8 L134.0,689.3 L135.3,689.3 L135.3,688.6 L136.3,688.6 L136.3,689.1 L137.6,689.1 L137.6,686.6 L138.6,686.6 L138.6,688.6 L139.7,688.6 L139.7,688.3 L140.6,688.3 L140.6,687.9 L141.3,687.9 L141.3,688.2 L142.5,688.2 L142.5,685.1 L143.8,685.1 L143.8,687.3 L144.9,687.3 L144.9,687.3 L145.9,687.3 L145.9,686.9 L146.5,686.9 L146.5,687.1 L147.3,687.1 L147.3,687.2 L148.3,687.2 L148.3,686.5 L149.5,686.5 L149.5,687.1 L150.1,687.1 L150.1,686.0 L151.4,686.0 L151.4,685.2 L152.6,685.2 L152.6,685.5 L153.8,685.5 L153.8,684.7 L155.2,684.7 L155.2,684.1 L156.3,684.1 L156.3,684.6 L157.3,684.6 L157.3,684.4 L158.1,684.4 L158.1,684.4 L159.2,684.4 L159.2,683.6 L160.4,683.6 L160.4,683.1 L161.7,683.1 L161.7,683.1 L163.1,683.1 L163.1,683.0 L164.1,683.0 L164.1,682.1 L165.3,682.1 L165.3,682.8 L166.7,682.8 L166.7,682.2 L167.6,682.2 L167.6,682.0 L168.7,682.0 L168.7,681.9 L169.8,681.9 L169.8,681.5 L170.8,681.5 L170.8,680.4 L171.8,680.4 L171.8,680.0 L172.5,680.0 L172.5,679.8 L173.3,679.8 L173.3,678.7 L174.1,678.7 L174.1,678.5 L175.2,678.5 L175.2,678.9 L176.3,678.9 L176.3,677.6 L177.6,677.6 L177.6,676.7 L178.4,676.7 L178.4,676.4 L179.4,676.4 L179.4,674.6 L180.4,674.6 L180.4,674.3 L181.1,674.3 L181.1,674.4 L182.5,674.4 L182.5,673.0 L183.4,673.0 L183.4,672.9 L184.5,672.9 L184.5,671.6 L185.7,671.6 L185.7,671.4 L186.9,671.4 L186.9,670.3 L188.2,670.3 L188.2,668.5 L189.5,668.5 L189.5,667.6 L190.4,667.6 L190.4,665.9 L191.5,665.9 L191.5,665.8 L192.4,665.8 L192.4,664.0 L193.2,664.0 L193.2,663.1 L194.5,663.1 L194.5,662.3 L195.7,662.3 L195.7,660.9 L196.8,660.9 L196.8,660.2 L197.5,660.2 L197.5,658.7 L198.9,658.7 L198.9,657.5 L200.0,657.5 L200.0,657.4 L201.0,657.4 L201.0,656.7 L202.3,656.7 L202.3,655.8 L203.0,655.8 L203.0,654.2 L203.8,654.2 L203.8,654.9 L204.6,654.9 L204.6,653.5 L205.4,653.5 L205.4,651.8 L206.6,651.8 L206.6,650.3 L207.4,650.3 L207.4,650.3 L208.6,650.3 L208.6,647.5 L209.7,647.5 L209.7,647.1 L210.5,647.1 L210.5,647.9 L211.8,647.9 L211.8,646.5 L212.4,646.5 L212.4,646.7 L213.2,646.7 L213.2,645.9 L214.2,645.9 L214.2,644.5 L215.1,644.5 L215.1,643.6 L216.1,643.6 L216.1,643.4 L217.5,643.4 L217.5,639.7 L218.5,639.7 L218.5,641.2 L219.6,641.2 L219.6,640.1 L220.6,640.1 L220.6,639.3 L221.3,639.3 L221.3,637.7 L222.0,637.7 L222.0,636.5 L223.2,636.5 L223.2,635.0 L224.4,635.0 L224.4,636.1 L225.8,636.1 L225.8,635.3 L226.6,635.3 L226.6,634.6 L227.5,634.6 L227.5,634.2 L228.4,634.2 L228.4,634.2 L229.5,634.2 L229.5,633.6 L230.1,633.6 L230.1,631.4 L231.4,631.4 L231.4,631.6 L232.5,631.6 L232.5,631.5 L233.2,631.5 L233.2,630.5 L234.4,630.5 L234.4,629.2 L235.3,629.2 L235.3,627.7 L236.2,627.7 L236.2,626.6 L237.0,626.6 L237.0,626.6 L238.1,626.6 L238.1,626.4 L239.2,626.4 L239.2,624.0 L239.8,624.0 L239.8,624.3 L240.5,624.3 L240.5,625.4 L241.7,625.4 L241.7,624.6 L242.4,624.6 L242.4,622.0 L243.4,622.0 L243.4,623.9 L244.5,623.9 L244.5,623.2 L245.3,623.2 L245.3,622.9 L246.3,622.9 L246.3,622.2 L247.2,622.2 L247.2,620.8 L247.9,620.8 L247.9,621.4 L249.1,621.4 L249.1,621.1 L249.8,621.1 L249.8,619.5 L251.1,619.5 L251.1,619.3 L251.9,619.3 L251.9,619.7 L252.8,619.7 L252.8,617.2 L253.6,617.2 L253.6,618.6 L254.9,618.6 L254.9,617.4 L256.3,617.4 L256.3,616.8 L257.0,616.8 L257.0,617.3 L258.1,617.3 L258.1,616.7 L258.8,616.7 L258.8,617.0 L259.7,617.0 L259.7,616.5 L260.5,616.5 L260.5,615.5 L261.6,615.5 L261.6,617.0 L262.3,617.0 L262.3,615.3 L263.4,615.3 L263.4,615.7 L264.8,615.7 L264.8,615.9 L265.6,615.9 L265.6,613.3 L266.3,613.3 L266.3,614.3 L267.6,614.3 L267.6,614.3 L268.2,614.3 L268.2,613.3 L269.4,613.3 L269.4,613.4 L270.7,613.4 L270.7,612.4 L271.4,612.4 L271.4,612.6 L272.4,612.6 L272.4,610.3 L273.8,610.3 L273.8,612.6 L274.5,612.6 L274.5,611.2 L275.8,611.2 L275.8,612.5 L276.9,612.5 L276.9,609.8 L277.6,609.8 L277.6,610.7 L278.3,610.7 L278.3,612.4 L279.7,612.4 L279.7,609.9 L280.3,609.9 L280.3,611.6 L281.2,611.6 L281.2,611.2 L281.8,611.2 L281.8,611.5 L282.6,611.5 L282.6,611.3 L283.4,611.3 L283.4,611.7 L284.6,611.7 L284.6,609.2 L285.3,609.2 L285.3,610.3 L286.0,610.3 L286.0,608.1 L287.0,608.1 L287.0,609.9 L287.8,609.9 L287.8,609.9 L288.8,609.9 L288.8,609.5 L289.5,609.5 L289.5,610.2 L290.2,610.2 L290.2,609.7 L291.1,609.7 L291.1,607.8 L292.3,607.8 L292.3,610.5 L293.5,610.5 L293.5,608.6 L294.3,608.6 L294.3,610.4 L295.3,610.4 L295.3,610.0 L296.6,610.0 L296.6,610.1 L297.6,610.1 L297.6,609.0 L298.8,609.0 L298.8,609.8 L300.1,609.8 L300.1,609.2 L301.0,609.2 L301.0,608.6 L302.1,608.6 L302.1,608.7 L303.1,608.7 L303.1,608.0 L303.8,608.0 L303.8,608.7 L305.0,608.7 L305.0,608.9 L306.3,608.9 L306.3,608.1 L307.0,608.1 L307.0,608.8 L308.3,608.8 L308.3,607.6 L309.0,607.6 L309.0,609.3 L309.9,609.3 L309.9,608.6 L310.5,608.6 L310.5,607.5 L311.5,607.5 L311.5,608.1 L312.5,608.1 L312.5,607.9 L313.5,607.9 L313.5,608.6 L314.4,608.6 L314.4,608.0 L315.4,608.0 L315.4,608.2 L316.6,608.2 L316.6,608.3 L317.7,608.3 L317.7,607.9 L318.4,607.9 L318.4,607.4 L319.5,607.4 L319.5,607.7 L320.1,607.7 L320.1,605.3 L321.2,605.3 L321.2,607.3 L321.9,607.3 L321.9,605.2 L322.9,605.2 L322.9,605.5 L323.7,605.5 L323.7,606.2 L324.3,606.2 L324.3,606.3 L325.3,606.3 L325.3,605.2 L326.2,605.2 L326.2,607.0 L326.8,607.0 L326.8,604.8 L328.0,604.8 L328.0,607.1 L328.8,607.1 L328.8,607.1 L329.9,607.1 L329.9,607.3 L330.8,607.3 L330.8,609.9 L329.9,609.9 L329.9,610.3 L328.8,610.3 L328.8,609.5 L328.0,609.5 L328.0,609.6 L326.8,609.6 L326.8,610.3 L326.2,610.3 L326.2,609.9 L325.3,609.9 L325.3,611.7 L324.3,611.7 L324.3,609.6 L323.7,609.6 L323.7,610.0 L322.9,610.0 L322.9,610.2 L321.9,610.2 L321.9,610.3 L321.2,610.3 L321.2,609.3 L320.1,609.3 L320.1,610.2 L319.5,610.2 L319.5,610.3 L318.4,610.3 L318.4,610.2 L317.7,610.2 L317.7,610.5 L316.6,610.5 L316.6,610.5 L315.4,610.5 L315.4,613.0 L314.4,613.0 L314.4,611.1 L313.5,611.1 L313.5,611.0 L312.5,611.0 L312.5,613.6 L311.5,613.6 L311.5,613.1 L310.5,613.1 L310.5,611.6 L309.9,611.6 L309.9,611.5 L309.0,611.5 L309.0,613.1 L308.3,613.1 L308.3,613.3 L307.0,613.3 L307.0,613.8 L306.3,613.8 L306.3,611.5 L305.0,611.5 L305.0,611.4 L303.8,611.4 L303.8,611.8 L303.1,611.8 L303.1,611.7 L302.1,611.7 L302.1,612.3 L301.0,612.3 L301.0,612.0 L300.1,612.0 L300.1,614.0 L298.8,614.0 L298.8,612.5 L297.6,612.5 L297.6,612.1 L296.6,612.1 L296.6,612.7 L295.3,612.7 L295.3,611.7 L294.3,611.7 L294.3,612.7 L293.5,612.7 L293.5,614.6 L292.3,614.6 L292.3,611.6 L291.1,611.6 L291.1,613.4 L290.2,613.4 L290.2,611.6 L289.5,611.6 L289.5,612.6 L288.8,612.6 L288.8,612.6 L287.8,612.6 L287.8,612.9 L287.0,612.9 L287.0,613.2 L286.0,613.2 L286.0,612.5 L285.3,612.5 L285.3,614.1 L284.6,614.1 L284.6,614.1 L283.4,614.1 L283.4,614.4 L282.6,614.4 L282.6,614.2 L281.8,614.2 L281.8,614.0 L281.2,614.0 L281.2,613.7 L280.3,613.7 L280.3,616.9 L279.7,616.9 L279.7,614.0 L278.3,614.0 L278.3,614.4 L277.6,614.4 L277.6,615.9 L276.9,615.9 L276.9,614.8 L275.8,614.8 L275.8,617.4 L274.5,617.4 L274.5,616.7 L273.8,616.7 L273.8,615.8 L272.4,615.8 L272.4,615.4 L271.4,615.4 L271.4,618.0 L270.7,618.0 L270.7,616.5 L269.4,616.5 L269.4,616.8 L268.2,616.8 L268.2,619.3 L267.6,619.3 L267.6,617.4 L266.3,617.4 L266.3,618.2 L265.6,618.2 L265.6,618.8 L264.8,618.8 L264.8,620.5 L263.4,620.5 L263.4,620.7 L262.3,620.7 L262.3,618.9 L261.6,618.9 L261.6,619.6 L260.5,619.6 L260.5,618.6 L259.7,618.6 L259.7,620.6 L258.8,620.6 L258.8,619.1 L258.1,619.1 L258.1,618.9 L257.0,618.9 L257.0,620.3 L256.3,620.3 L256.3,620.8 L254.9,620.8 L254.9,620.5 L253.6,620.5 L253.6,622.4 L252.8,622.4 L252.8,622.2 L251.9,622.2 L251.9,621.9 L251.1,621.9 L251.1,623.6 L249.8,623.6 L249.8,624.0 L249.1,624.0 L249.1,624.3 L247.9,624.3 L247.9,624.9 L247.2,624.9 L247.2,626.4 L246.3,626.4 L246.3,625.3 L245.3,625.3 L245.3,627.1 L244.5,627.1 L244.5,626.1 L243.4,626.1 L243.4,627.4 L242.4,627.4 L242.4,627.8 L241.7,627.8 L241.7,628.3 L240.5,628.3 L240.5,629.1 L239.8,629.1 L239.8,629.4 L239.2,629.4 L239.2,629.5 L238.1,629.5 L238.1,631.4 L237.0,631.4 L237.0,630.4 L236.2,630.4 L236.2,633.1 L235.3,633.1 L235.3,632.8 L234.4,632.8 L234.4,633.0 L233.2,633.0 L233.2,634.4 L232.5,634.4 L232.5,634.7 L231.4,634.7 L231.4,636.4 L230.1,636.4 L230.1,635.3 L229.5,635.3 L229.5,636.3 L228.4,636.3 L228.4,638.9 L227.5,638.9 L227.5,637.3 L226.6,637.3 L226.6,637.9 L225.8,637.9 L225.8,639.0 L224.4,639.0 L224.4,641.0 L223.2,641.0 L223.2,643.2 L222.0,643.2 L222.0,641.2 L221.3,641.2 L221.3,643.5 L220.6,643.5 L220.6,642.9 L219.6,642.9 L219.6,643.6 L218.5,643.6 L218.5,645.3 L217.5,645.3 L217.5,645.4 L216.1,645.4 L216.1,646.8 L215.1,646.8 L215.1,647.5 L214.2,647.5 L214.2,648.8 L213.2,648.8 L213.2,648.8 L212.4,648.8 L212.4,649.7 L211.8,649.7 L211.8,650.1 L210.5,650.1 L210.5,650.5 L209.7,650.5 L209.7,653.0 L208.6,653.0 L208.6,655.8 L207.4,655.8 L207.4,654.5 L206.6,654.5 L206.6,654.6 L205.4,654.6 L205.4,655.8 L204.6,655.8 L204.6,656.7 L203.8,656.7 L203.8,657.6 L203.0,657.6 L203.0,660.8 L202.3,660.8 L202.3,659.2 L201.0,659.2 L201.0,661.0 L200.0,661.0 L200.0,661.3 L198.9,661.3 L198.9,661.4 L197.5,661.4 L197.5,662.5 L196.8,662.5 L196.8,663.2 L195.7,663.2 L195.7,664.9 L194.5,664.9 L194.5,666.2 L193.2,666.2 L193.2,666.5 L192.4,666.5 L192.4,667.9 L191.5,667.9 L191.5,669.2 L190.4,669.2 L190.4,669.7 L189.5,669.7 L189.5,670.5 L188.2,670.5 L188.2,671.4 L186.9,671.4 L186.9,672.9 L185.7,672.9 L185.7,673.8 L184.5,673.8 L184.5,674.9 L183.4,674.9 L183.4,674.6 L182.5,674.6 L182.5,675.9 L181.1,675.9 L181.1,676.2 L180.4,676.2 L180.4,677.2 L179.4,677.2 L179.4,678.2 L178.4,678.2 L178.4,678.5 L177.6,678.5 L177.6,679.0 L176.3,679.0 L176.3,680.3 L175.2,680.3 L175.2,680.2 L174.1,680.2 L174.1,680.5 L173.3,680.5 L173.3,680.7 L172.5,680.7 L172.5,681.1 L171.8,681.1 L171.8,681.9 L170.8,681.9 L170.8,684.1 L169.8,684.1 L169.8,682.9 L168.7,682.9 L168.7,683.5 L167.6,683.5 L167.6,683.6 L166.7,683.6 L166.7,684.3 L165.3,684.3 L165.3,684.5 L164.1,684.5 L164.1,684.3 L163.1,684.3 L163.1,684.8 L161.7,684.8 L161.7,684.9 L160.4,684.9 L160.4,686.6 L159.2,686.6 L159.2,685.3 L158.1,685.3 L158.1,686.9 L157.3,686.9 L157.3,685.4 L156.3,685.4 L156.3,685.6 L155.2,685.6 L155.2,687.2 L153.8,687.2 L153.8,686.0 L152.6,686.0 L152.6,686.6 L151.4,686.6 L151.4,688.1 L150.1,688.1 L150.1,688.2 L149.5,688.2 L149.5,688.6 L148.3,688.6 L148.3,688.0 L147.3,688.0 L147.3,688.8 L146.5,688.8 L146.5,687.9 L145.9,687.9 L145.9,690.9 L144.9,690.9 L144.9,689.1 L143.8,689.1 L143.8,688.8 L142.5,688.8 L142.5,689.1 L141.3,689.1 L141.3,689.3 L140.6,689.3 L140.6,690.0 L139.7,690.0 L139.7,689.9 L138.6,689.9 L138.6,690.3 L137.6,690.3 L137.6,690.0 L136.3,690.0 L136.3,690.6 L135.3,690.6 L135.3,690.3 L134.0,690.3 L134.0,691.0 L133.1,691.0 L133.1,691.4 L132.0,691.4 L132.0,691.8 L131.0,691.8 L131.0,691.6 L130.3,691.6 L130.3,691.7 L129.6,691.7 L129.6,693.1 L128.6,693.1 L128.6,693.6 L127.3,693.6 L127.3,694.6 L126.4,694.6 L126.4,695.6 L125.7,695.6 L125.7,696.6 L124.8,696.6 L124.8,697.6 L123.6,697.6 L123.6,701.0 L122.8,701.0 L122.8,698.8 L122.1,698.8 L122.1,700.3 L121.3,700.3 L121.3,700.9 L120.9,700.9 L120.9,702.5 L120.1,702.5 L120.1,703.0 L119.3,703.0 L119.3,703.7 L118.9,703.7 L118.9,705.5 L118.0,705.5 L118.0,707.1 L117.2,707.1 L117.2,709.0 L116.2,709.0 L116.2,709.9 L115.6,709.9 L115.6,711.3 L114.8,711.3 L114.8,713.1 L114.3,713.1 L114.3,713.6 L113.7,713.6 L113.7,714.9 L113.0,714.9 Z" fill="#000" stroke="#000" stroke-width="0.8" stroke-linejoin="round"/>
<path d="M147.0,712.2 L148.1,712.2 L148.1,711.1 L149.2,711.1 L149.2,709.2 L150.3,709.2 L150.3,707.7 L151.2,707.7 L151.2,705.9 L152.0,705.9 L152.0,704.3 L152.9,704.3 L152.9,702.0 L154.0,702.0 L154.0,701.2 L154.5,701.2 L154.5,699.5 L155.6,699.5 L155.6,697.0 L156.7,697.0 L156.7,695.1 L157.7,695.1 L157.7,694.0 L158.6,694.0 L158.6,691.6 L160.0,691.6 L160.0,690.4 L160.6,690.4 L160.6,688.9 L162.0,688.9 L162.0,687.2 L163.3,687.2 L163.3,686.1 L164.1,686.1 L164.1,684.3 L165.2,684.3 L165.2,683.5 L166.3,683.5 L166.3,684.0 L167.2,684.0 L167.2,682.7 L168.7,682.7 L168.7,682.0 L169.9,682.0 L169.9,681.7 L171.5,681.7 L171.5,681.6 L172.6,681.6 L172.6,681.4 L173.4,681.4 L173.4,681.0 L175.0,681.0 L175.0,681.0 L176.5,681.0 L176.5,680.6 L177.3,680.6 L177.3,679.8 L178.6,679.8 L178.6,681.0 L179.8,681.0 L179.8,680.6 L181.6,680.6 L181.6,680.7 L183.0,680.7 L183.0,680.9 L184.1,680.9 L184.1,681.0 L185.9,681.0 L185.9,681.3 L187.0,681.3 L187.0,681.7 L188.5,681.7 L188.5,681.3 L189.5,681.3 L189.5,681.4 L190.4,681.4 L190.4,682.0 L191.3,682.0 L191.3,681.9 L193.0,681.9 L193.0,682.6 L193.9,682.6 L193.9,682.3 L194.9,682.3 L194.9,682.8 L195.9,682.8 L195.9,682.3 L197.5,682.3 L197.5,682.5 L198.8,682.5 L198.8,683.0 L199.8,683.0 L199.8,682.6 L201.6,682.6 L201.6,682.1 L203.3,682.1 L203.3,681.7 L204.3,681.7 L204.3,681.6 L205.4,681.6 L205.4,680.9 L206.2,680.9 L206.2,680.7 L207.1,680.7 L207.1,679.9 L208.6,679.9 L208.6,679.1 L210.3,679.1 L210.3,678.5 L211.8,678.5 L211.8,676.6 L212.8,676.6 L212.8,677.0 L214.6,677.0 L214.6,676.8 L215.6,676.8 L215.6,676.6 L216.6,676.6 L216.6,675.7 L218.1,675.7 L218.1,675.2 L219.1,675.2 L219.1,674.7 L220.7,674.7 L220.7,674.2 L221.8,674.2 L221.8,673.6 L223.5,673.6 L223.5,673.5 L225.2,673.5 L225.2,672.5 L226.6,672.5 L226.6,672.5 L228.4,672.5 L228.4,671.8 L229.9,671.8 L229.9,671.6 L231.0,671.6 L231.0,671.0 L232.0,671.0 L232.0,671.3 L233.7,671.3 L233.7,670.6 L234.5,670.6 L234.5,670.3 L236.1,670.3 L236.1,670.6 L237.5,670.6 L237.5,670.1 L238.2,670.1 L238.2,670.4 L239.2,670.4 L239.2,670.1 L240.5,670.1 L240.5,669.6 L241.4,669.6 L241.4,669.4 L243.0,669.4 L243.0,669.7 L244.5,669.7 L244.5,668.7 L246.4,668.7 L246.4,669.4 L248.2,669.4 L248.2,667.6 L249.6,667.6 L249.6,668.5 L251.1,668.5 L251.1,669.2 L252.7,669.2 L252.7,668.9 L253.5,668.9 L253.5,667.7 L254.3,667.7 L254.3,668.4 L256.1,668.4 L256.1,668.6 L257.8,668.6 L257.8,668.5 L259.0,668.5 L259.0,668.3 L260.0,668.3 L260.0,668.3 L260.8,668.3 L260.8,667.2 L262.4,667.2 L262.4,668.2 L263.5,668.2 L263.5,667.8 L264.9,667.8 L264.9,668.0 L266.1,668.0 L266.1,668.0 L267.3,668.0 L267.3,667.7 L268.5,667.7 L268.5,667.5 L269.6,667.5 L269.6,667.5 L271.0,667.5 L271.0,667.3 L272.4,667.3 L272.4,667.6 L273.2,667.6 L273.2,667.7 L274.8,667.7 L274.8,667.2 L276.5,667.2 L276.5,667.4 L277.9,667.4 L277.9,667.3 L279.4,667.3 L279.4,667.0 L280.9,667.0 L280.9,666.8 L282.4,666.8 L282.4,665.6 L283.4,665.6 L283.4,666.2 L284.6,666.2 L284.6,664.9 L285.7,664.9 L285.7,666.4 L286.8,666.4 L286.8,666.3 L288.1,666.3 L288.1,666.2 L289.1,666.2 L289.1,666.4 L289.9,666.4 L289.9,666.5 L291.0,666.5 L291.0,665.9 L292.5,665.9 L292.5,666.3 L293.6,666.3 L293.6,666.0 L295.2,666.0 L295.2,666.1 L297.0,666.1 L297.0,666.1 L298.1,666.1 L298.1,665.8 L299.3,665.8 L299.3,666.1 L300.3,666.1 L300.3,665.8 L301.1,665.8 L301.1,665.4 L302.5,665.4 L302.5,665.6 L304.2,665.6 L304.2,664.9 L305.9,664.9 L305.9,664.6 L307.1,664.6 L307.1,664.9 L308.4,664.9 L308.4,664.2 L309.6,664.2 L309.6,664.9 L311.0,664.9 L311.0,665.3 L311.7,665.3 L311.7,665.0 L313.1,665.0 L313.1,664.7 L314.1,664.7 L314.1,664.5 L315.0,664.5 L315.0,664.8 L315.8,664.8 L315.8,664.4 L317.6,664.4 L317.6,664.0 L319.4,664.0 L319.4,664.3 L320.8,664.3 L320.8,664.0 L321.5,664.0 L321.5,663.7 L322.7,663.7 L322.7,663.7 L324.2,663.7 L324.2,663.8 L325.0,663.8 L325.0,663.4 L326.4,663.4 L326.4,663.3 L327.4,663.3 L327.4,663.7 L329.2,663.7 L329.2,663.2 L330.3,663.2 L330.3,663.0 L330.8,663.0 L330.8,664.6 L330.3,664.6 L330.3,665.1 L329.2,665.1 L329.2,666.2 L327.4,666.2 L327.4,665.3 L326.4,665.3 L326.4,665.1 L325.0,665.1 L325.0,665.1 L324.2,665.1 L324.2,665.5 L322.7,665.5 L322.7,665.6 L321.5,665.6 L321.5,665.4 L320.8,665.4 L320.8,665.6 L319.4,665.6 L319.4,665.8 L317.6,665.8 L317.6,665.8 L315.8,665.8 L315.8,666.0 L315.0,666.0 L315.0,666.4 L314.1,666.4 L314.1,666.0 L313.1,666.0 L313.1,666.0 L311.7,666.0 L311.7,666.5 L311.0,666.5 L311.0,666.6 L309.6,666.6 L309.6,666.3 L308.4,666.3 L308.4,666.3 L307.1,666.3 L307.1,666.5 L305.9,666.5 L305.9,666.6 L304.2,666.6 L304.2,666.5 L302.5,666.5 L302.5,666.7 L301.1,666.7 L301.1,667.0 L300.3,667.0 L300.3,667.3 L299.3,667.3 L299.3,667.7 L298.1,667.7 L298.1,667.5 L297.0,667.5 L297.0,667.6 L295.2,667.6 L295.2,667.9 L293.6,667.9 L293.6,667.9 L292.5,667.9 L292.5,667.5 L291.0,667.5 L291.0,667.8 L289.9,667.8 L289.9,667.7 L289.1,667.7 L289.1,667.4 L288.1,667.4 L288.1,667.8 L286.8,667.8 L286.8,667.7 L285.7,667.7 L285.7,667.5 L284.6,667.5 L284.6,667.8 L283.4,667.8 L283.4,669.6 L282.4,669.6 L282.4,668.3 L280.9,668.3 L280.9,668.4 L279.4,668.4 L279.4,668.7 L277.9,668.7 L277.9,668.4 L276.5,668.4 L276.5,668.6 L274.8,668.6 L274.8,669.4 L273.2,669.4 L273.2,669.3 L272.4,669.3 L272.4,668.8 L271.0,668.8 L271.0,669.1 L269.6,669.1 L269.6,669.2 L268.5,669.2 L268.5,669.0 L267.3,669.0 L267.3,669.2 L266.1,669.2 L266.1,669.3 L264.9,669.3 L264.9,669.8 L263.5,669.8 L263.5,669.4 L262.4,669.4 L262.4,669.8 L260.8,669.8 L260.8,670.3 L260.0,670.3 L260.0,669.6 L259.0,669.6 L259.0,669.8 L257.8,669.8 L257.8,670.0 L256.1,670.0 L256.1,669.9 L254.3,669.9 L254.3,669.9 L253.5,669.9 L253.5,669.9 L252.7,669.9 L252.7,670.0 L251.1,670.0 L251.1,670.3 L249.6,670.3 L249.6,670.5 L248.2,670.5 L248.2,670.9 L246.4,670.9 L246.4,670.6 L244.5,670.6 L244.5,671.2 L243.0,671.2 L243.0,670.9 L241.4,670.9 L241.4,671.0 L240.5,671.0 L240.5,671.8 L239.2,671.8 L239.2,671.4 L238.2,671.4 L238.2,671.8 L237.5,671.8 L237.5,672.1 L236.1,672.1 L236.1,672.3 L234.5,672.3 L234.5,672.7 L233.7,672.7 L233.7,672.7 L232.0,672.7 L232.0,672.8 L231.0,672.8 L231.0,673.0 L229.9,673.0 L229.9,673.6 L228.4,673.6 L228.4,674.0 L226.6,674.0 L226.6,674.1 L225.2,674.1 L225.2,674.5 L223.5,674.5 L223.5,675.5 L221.8,675.5 L221.8,675.5 L220.7,675.5 L220.7,676.7 L219.1,676.7 L219.1,677.7 L218.1,677.7 L218.1,677.3 L216.6,677.3 L216.6,677.8 L215.6,677.8 L215.6,678.1 L214.6,678.1 L214.6,678.6 L212.8,678.6 L212.8,679.2 L211.8,679.2 L211.8,679.6 L210.3,679.6 L210.3,680.4 L208.6,680.4 L208.6,681.5 L207.1,681.5 L207.1,681.9 L206.2,681.9 L206.2,682.1 L205.4,682.1 L205.4,682.9 L204.3,682.9 L204.3,683.4 L203.3,683.4 L203.3,684.0 L201.6,684.0 L201.6,684.5 L199.8,684.5 L199.8,685.3 L198.8,685.3 L198.8,684.9 L197.5,684.9 L197.5,684.8 L195.9,684.8 L195.9,684.3 L194.9,684.3 L194.9,684.1 L193.9,684.1 L193.9,684.0 L193.0,684.0 L193.0,684.0 L191.3,684.0 L191.3,683.5 L190.4,683.5 L190.4,683.6 L189.5,683.6 L189.5,683.4 L188.5,683.4 L188.5,683.5 L187.0,683.5 L187.0,683.1 L185.9,683.1 L185.9,683.0 L184.1,683.0 L184.1,683.1 L183.0,683.1 L183.0,682.4 L181.6,682.4 L181.6,682.3 L179.8,682.3 L179.8,681.9 L178.6,681.9 L178.6,682.2 L177.3,682.2 L177.3,682.0 L176.5,682.0 L176.5,682.0 L175.0,682.0 L175.0,682.1 L173.4,682.1 L173.4,682.6 L172.6,682.6 L172.6,682.9 L171.5,682.9 L171.5,682.8 L169.9,682.8 L169.9,683.5 L168.7,683.5 L168.7,684.1 L167.2,684.1 L167.2,685.2 L166.3,685.2 L166.3,686.2 L165.2,686.2 L165.2,687.1 L164.1,687.1 L164.1,688.3 L163.3,688.3 L163.3,689.4 L162.0,689.4 L162.0,691.4 L160.6,691.4 L160.6,693.0 L160.0,693.0 L160.0,694.3 L158.6,694.3 L158.6,696.3 L157.7,696.3 L157.7,697.9 L156.7,697.9 L156.7,699.7 L155.6,699.7 L155.6,701.6 L154.5,701.6 L154.5,702.8 L154.0,702.8 L154.0,704.6 L152.9,704.6 L152.9,706.2 L152.0,706.2 L152.0,707.9 L151.2,707.9 L151.2,709.5 L150.3,709.5 L150.3,711.4 L149.2,711.4 L149.2,712.8 L148.1,712.8 L148.1,714.0 L147.0,714.0 Z" fill="#000" stroke="#000" stroke-width="0.9" stroke-linejoin="round"/>
<line x1="74.4" y1="712.5" x2="74.4" y2="720" stroke="#000" stroke-width="1.2"/>
<line x1="76.6" y1="712.8" x2="76.6" y2="722.3" stroke="#000" stroke-width="1.4"/>
<line x1="129.7" y1="714.0" x2="129.7" y2="730" stroke="#000" stroke-width="1.5"/>
<line x1="143.9" y1="714.0" x2="143.9" y2="718.8" stroke="#000" stroke-width="1.3"/>
<line x1="69.2" y1="739.5" x2="108.5" y2="739.5" stroke="#000" stroke-width="2.4"/>
<text x="67.87" y="763.0" font-size="18.2" textLength="41.82" lengthAdjust="spacingAndGlyphs">1 min</text>
<text x="363.90" y="612.6" font-size="17.3" textLength="122.57" lengthAdjust="spacingAndGlyphs">wt Plg; Sk+ADP</text>
<text><tspan x="362.78" y="653.7" font-size="17.3" textLength="9.57" lengthAdjust="spacingAndGlyphs">S</tspan><tspan x="371.23" y="649.3" font-size="11.8" textLength="20.07" lengthAdjust="spacingAndGlyphs">741</tspan><tspan x="390.81" y="653.7" font-size="17.3" textLength="122.65" lengthAdjust="spacingAndGlyphs">A Plg; Sk+ADP</tspan></text>
<text x="363.33" y="671.8" font-size="17.3" textLength="131.01" lengthAdjust="spacingAndGlyphs">No Plg; Sk+ADP</text>
</svg>
</body>
</html>
